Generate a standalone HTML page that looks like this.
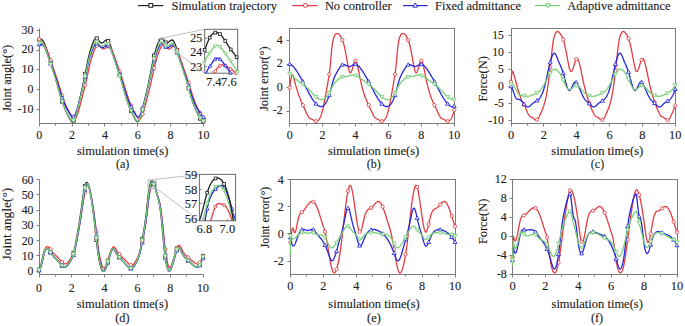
<!DOCTYPE html>
<html><head><meta charset="utf-8"><style>
html,body{margin:0;padding:0;background:#fff;overflow:hidden;}
svg{display:block;}
text{font-family:"Liberation Serif", serif; stroke:#1a1a1a; stroke-width:0.12px;}
</style></head><body>
<svg width="685" height="326" viewBox="0 0 685 326" font-family='"Liberation Serif", serif'>
<rect width="685" height="326" fill="#fff"/>
<defs><clipPath id="cia"><rect x="204.7" y="29.3" width="33" height="44"/></clipPath><clipPath id="cid"><rect x="199.4" y="174.4" width="36.2" height="46.4"/></clipPath></defs>
<path d="M138,5.6 H163.4" stroke="#222222" stroke-width="1.2"/>
<rect x="148.9" y="3.5" width="3.8" height="3.8" fill="#fff" stroke="#222222" stroke-width="1.0"/>
<text x="171.5" y="9.9" font-size="12.45" text-anchor="start" fill="#1a1a1a">Simulation trajectory</text>
<path d="M292.3,5.6 H317.7" stroke="#e23c42" stroke-width="1.2"/>
<circle cx="305.4" cy="5.4" r="2" fill="#fff" stroke="#e23c42" stroke-width="1.0"/>
<text x="324.9" y="9.9" font-size="12.45" text-anchor="start" fill="#1a1a1a">No controller</text>
<path d="M403,5.6 H427.6" stroke="#2626dc" stroke-width="1.2"/>
<path d="M415.3,3 L417.7,7.08 L412.9,7.08 Z" fill="#fff" stroke="#2626dc" stroke-width="1.0" stroke-linejoin="round"/>
<text x="435" y="9.9" font-size="12.45" text-anchor="start" fill="#1a1a1a">Fixed admittance</text>
<path d="M535,5.6 H560" stroke="#76cf76" stroke-width="1.2"/>
<path d="M548,7.8 L550.4,3.72 L545.6,3.72 Z" fill="#fff" stroke="#76cf76" stroke-width="1.0" stroke-linejoin="round"/>
<text x="567.2" y="9.9" font-size="12.45" text-anchor="start" fill="#1a1a1a">Adaptive admittance</text>
<path d="M39.5,28.5 L39.5,123.5 L203.5,123.5" fill="none" stroke="#7c7c7c" stroke-width="1"/>
<path d="M39.5,123.5 v3 M55.5,123.5 v2 M72.5,123.5 v3 M88.5,123.5 v2 M104.5,123.5 v3 M121.5,123.5 v2 M137.5,123.5 v3 M154.5,123.5 v2 M170.5,123.5 v3 M186.5,123.5 v2 M203.5,123.5 v3 M39.5,30.5 h-3 M39.5,50.5 h-3 M39.5,69.5 h-3 M39.5,89.5 h-3 M39.5,109.5 h-3" stroke="#7c7c7c" stroke-width="1" fill="none"/>
<text x="39.2" y="138.8" font-size="12" text-anchor="middle" fill="#1a1a1a">0</text>
<text x="72.04" y="138.8" font-size="12" text-anchor="middle" fill="#1a1a1a">2</text>
<text x="104.88" y="138.8" font-size="12" text-anchor="middle" fill="#1a1a1a">4</text>
<text x="137.72" y="138.8" font-size="12" text-anchor="middle" fill="#1a1a1a">6</text>
<text x="170.56" y="138.8" font-size="12" text-anchor="middle" fill="#1a1a1a">8</text>
<text x="203.4" y="138.8" font-size="12" text-anchor="middle" fill="#1a1a1a">10</text>
<text x="33.5" y="33.75" font-size="12" text-anchor="end" fill="#1a1a1a">30</text>
<text x="33.5" y="53.45" font-size="12" text-anchor="end" fill="#1a1a1a">20</text>
<text x="33.5" y="73.15" font-size="12" text-anchor="end" fill="#1a1a1a">10</text>
<text x="33.5" y="92.85" font-size="12" text-anchor="end" fill="#1a1a1a">0</text>
<text x="33.5" y="112.55" font-size="12" text-anchor="end" fill="#1a1a1a">-10</text>
<text x="10.8" y="78.4" font-size="12.4" text-anchor="middle" fill="#1a1a1a" transform="rotate(-90 10.8 78.4)">Joint angle(°)</text>
<text x="122.65" y="155.3" font-size="12.5" text-anchor="middle" fill="#1a1a1a">simulation time(s)</text>
<text x="122.6" y="168.4" font-size="12" text-anchor="middle" fill="#1a1a1a">(a)</text>
<path d="M39.2,40.15 L39.53,40.05 L39.86,39.93 L40.19,39.81 L40.52,39.7 L40.85,39.63 L41.17,39.59 L41.5,39.62 L41.83,39.71 L42.16,39.89 L42.49,40.16 L42.82,40.53 L43.15,40.97 L43.48,41.5 L43.81,42.11 L44.14,42.78 L44.46,43.52 L44.79,44.31 L45.12,45.15 L45.45,46.04 L45.78,46.97 L46.11,47.94 L46.44,48.92 L46.77,49.93 L47.1,50.96 L47.43,52 L47.76,53.05 L48.08,54.12 L48.41,55.19 L48.74,56.27 L49.07,57.35 L49.4,58.43 L49.73,59.52 L50.06,60.6 L50.39,61.67 L50.72,62.74 L51.05,63.8 L51.38,64.85 L51.7,65.89 L52.03,66.93 L52.36,67.97 L52.69,69.01 L53.02,70.05 L53.35,71.09 L53.68,72.14 L54.01,73.2 L54.34,74.26 L54.67,75.34 L54.99,76.44 L55.32,77.55 L55.65,78.68 L55.98,79.83 L56.31,81 L56.64,82.18 L56.97,83.37 L57.3,84.58 L57.63,85.78 L57.96,87 L58.29,88.21 L58.61,89.42 L58.94,90.63 L59.27,91.82 L59.6,93.01 L59.93,94.18 L60.26,95.34 L60.59,96.47 L60.92,97.58 L61.25,98.67 L61.58,99.73 L61.91,100.76 L62.23,101.75 L62.56,102.71 L62.89,103.63 L63.22,104.53 L63.55,105.39 L63.88,106.22 L64.21,107.03 L64.54,107.82 L64.87,108.59 L65.2,109.34 L65.52,110.07 L65.85,110.79 L66.18,111.5 L66.51,112.2 L66.84,112.88 L67.17,113.56 L67.5,114.23 L67.83,114.9 L68.16,115.55 L68.49,116.2 L68.82,116.85 L69.14,117.49 L69.47,118.13 L69.8,118.74 L70.13,119.33 L70.46,119.88 L70.79,120.38 L71.12,120.81 L71.45,121.16 L71.78,121.42 L72.11,121.59 L72.43,121.63 L72.76,121.56 L73.09,121.35 L73.42,121 L73.75,120.53 L74.08,119.94 L74.41,119.24 L74.74,118.44 L75.07,117.54 L75.4,116.56 L75.73,115.51 L76.05,114.39 L76.38,113.2 L76.71,111.97 L77.04,110.69 L77.37,109.37 L77.7,108.02 L78.03,106.64 L78.36,105.23 L78.69,103.81 L79.02,102.37 L79.35,100.93 L79.67,99.49 L80,98.04 L80.33,96.59 L80.66,95.14 L80.99,93.69 L81.32,92.22 L81.65,90.75 L81.98,89.27 L82.31,87.77 L82.64,86.26 L82.96,84.73 L83.29,83.19 L83.62,81.62 L83.95,80.03 L84.28,78.41 L84.61,76.77 L84.94,75.1 L85.27,73.4 L85.6,71.7 L85.93,69.99 L86.26,68.28 L86.58,66.59 L86.91,64.92 L87.24,63.29 L87.57,61.7 L87.9,60.16 L88.23,58.67 L88.56,57.25 L88.89,55.89 L89.22,54.57 L89.55,53.32 L89.87,52.11 L90.2,50.95 L90.53,49.83 L90.86,48.75 L91.19,47.72 L91.52,46.72 L91.85,45.76 L92.18,44.83 L92.51,43.94 L92.84,43.09 L93.17,42.3 L93.49,41.56 L93.82,40.89 L94.15,40.28 L94.48,39.75 L94.81,39.3 L95.14,38.93 L95.47,38.65 L95.8,38.46 L96.13,38.38 L96.46,38.4 L96.79,38.52 L97.11,38.72 L97.44,39 L97.77,39.32 L98.1,39.7 L98.43,40.1 L98.76,40.53 L99.09,40.95 L99.42,41.37 L99.75,41.77 L100.08,42.14 L100.4,42.45 L100.73,42.71 L101.06,42.89 L101.39,42.99 L101.72,43.01 L102.05,42.96 L102.38,42.84 L102.71,42.67 L103.04,42.46 L103.37,42.22 L103.7,41.94 L104.02,41.66 L104.35,41.36 L104.68,41.07 L105.01,40.79 L105.34,40.54 L105.67,40.32 L106,40.14 L106.33,40.03 L106.66,39.98 L106.99,40.01 L107.32,40.13 L107.64,40.36 L107.97,40.68 L108.3,41.09 L108.63,41.59 L108.96,42.17 L109.29,42.81 L109.62,43.53 L109.95,44.3 L110.28,45.13 L110.61,46.01 L110.93,46.92 L111.26,47.87 L111.59,48.85 L111.92,49.85 L112.25,50.87 L112.58,51.91 L112.91,52.96 L113.24,54.02 L113.57,55.09 L113.9,56.16 L114.23,57.24 L114.55,58.33 L114.88,59.41 L115.21,60.49 L115.54,61.56 L115.87,62.63 L116.2,63.69 L116.53,64.75 L116.86,65.79 L117.19,66.83 L117.52,67.87 L117.84,68.9 L118.17,69.94 L118.5,70.98 L118.83,72.03 L119.16,73.09 L119.49,74.15 L119.82,75.23 L120.15,76.32 L120.48,77.43 L120.81,78.56 L121.14,79.71 L121.46,80.88 L121.79,82.06 L122.12,83.25 L122.45,84.45 L122.78,85.66 L123.11,86.87 L123.44,88.09 L123.77,89.3 L124.1,90.5 L124.43,91.7 L124.76,92.89 L125.08,94.06 L125.41,95.22 L125.74,96.35 L126.07,97.47 L126.4,98.56 L126.73,99.62 L127.06,100.65 L127.39,101.65 L127.72,102.61 L128.05,103.54 L128.37,104.43 L128.7,105.3 L129.03,106.14 L129.36,106.95 L129.69,107.74 L130.02,108.51 L130.35,109.26 L130.68,110 L131.01,110.72 L131.34,111.43 L131.67,112.13 L131.99,112.81 L132.32,113.49 L132.65,114.16 L132.98,114.83 L133.31,115.48 L133.64,116.14 L133.97,116.78 L134.3,117.42 L134.63,118.06 L134.96,118.68 L135.28,119.28 L135.61,119.83 L135.94,120.33 L136.27,120.77 L136.6,121.13 L136.93,121.4 L137.26,121.57 L137.59,121.63 L137.92,121.57 L138.25,121.38 L138.58,121.04 L138.9,120.58 L139.23,120.01 L139.56,119.32 L139.89,118.53 L140.22,117.64 L140.55,116.67 L140.88,115.62 L141.21,114.5 L141.54,113.33 L141.87,112.1 L142.2,110.82 L142.52,109.51 L142.85,108.16 L143.18,106.78 L143.51,105.38 L143.84,103.96 L144.17,102.52 L144.5,101.08 L144.83,99.63 L145.16,98.19 L145.49,96.74 L145.81,95.29 L146.14,93.84 L146.47,92.38 L146.8,90.9 L147.13,89.42 L147.46,87.93 L147.79,86.42 L148.12,84.89 L148.45,83.35 L148.78,81.78 L149.11,80.19 L149.43,78.58 L149.76,76.94 L150.09,75.27 L150.42,73.58 L150.75,71.87 L151.08,70.16 L151.41,68.46 L151.74,66.77 L152.07,65.1 L152.4,63.46 L152.73,61.86 L153.05,60.31 L153.38,58.82 L153.71,57.39 L154.04,56.02 L154.37,54.71 L154.7,53.44 L155.03,52.23 L155.36,51.06 L155.69,49.94 L156.02,48.86 L156.34,47.82 L156.67,46.82 L157,45.85 L157.33,44.92 L157.66,44.03 L157.99,43.18 L158.32,42.38 L158.65,41.64 L158.98,40.96 L159.31,40.34 L159.64,39.8 L159.96,39.34 L160.29,38.96 L160.62,38.67 L160.95,38.48 L161.28,38.38 L161.61,38.4 L161.94,38.5 L162.27,38.7 L162.6,38.96 L162.93,39.29 L163.25,39.66 L163.58,40.06 L163.91,40.48 L164.24,40.91 L164.57,41.33 L164.9,41.73 L165.23,42.1 L165.56,42.42 L165.89,42.69 L166.22,42.88 L166.55,42.98 L166.87,43.01 L167.2,42.96 L167.53,42.85 L167.86,42.69 L168.19,42.49 L168.52,42.24 L168.85,41.97 L169.18,41.69 L169.51,41.39 L169.84,41.1 L170.17,40.82 L170.49,40.56 L170.82,40.34 L171.15,40.16 L171.48,40.03 L171.81,39.98 L172.14,40 L172.47,40.12 L172.8,40.33 L173.13,40.64 L173.46,41.05 L173.78,41.53 L174.11,42.1 L174.44,42.74 L174.77,43.45 L175.1,44.22 L175.43,45.04 L175.76,45.91 L176.09,46.83 L176.42,47.77 L176.75,48.75 L177.08,49.75 L177.4,50.77 L177.73,51.8 L178.06,52.85 L178.39,53.91 L178.72,54.98 L179.05,56.05 L179.38,57.13 L179.71,58.21 L180.04,59.3 L180.37,60.38 L180.69,61.45 L181.02,62.52 L181.35,63.59 L181.68,64.64 L182.01,65.68 L182.34,66.72 L182.67,67.76 L183,68.8 L183.33,69.83 L183.66,70.88 L183.99,71.92 L184.31,72.98 L184.64,74.04 L184.97,75.12 L185.3,76.21 L185.63,77.32 L185.96,78.44 L186.29,79.59 L186.62,80.75 L186.95,81.93 L187.28,83.13 L187.61,84.33 L187.93,85.54 L188.26,86.75 L188.59,87.96 L188.92,89.17 L189.25,90.38 L189.58,91.58 L189.91,92.77 L190.24,93.94 L190.57,95.1 L190.9,96.24 L191.22,97.36 L191.55,98.45 L191.88,99.51 L192.21,100.55 L192.54,101.55 L192.87,102.51 L193.2,103.45 L193.53,104.34 L193.86,105.21 L194.19,106.05 L194.52,106.87 L194.84,107.66 L195.17,108.43 L195.5,109.19 L195.83,109.92 L196.16,110.64 L196.49,111.35 L196.82,112.05 L197.15,112.74 L197.48,113.42 L197.81,114.09 L198.14,114.76 L198.46,115.42 L198.79,116.07 L199.12,116.72 L199.45,117.36 L199.78,118 L200.11,118.62 L200.44,119.22 L200.77,119.77 L201.1,120.28 L201.43,120.72 L201.75,121.09 L202.08,121.38 L202.41,121.56 L202.74,121.63 L203.07,121.59 L203.4,121.4" fill="none" stroke="#222222" stroke-width="1.3" stroke-linejoin="round"/>
<rect x="37.63" y="38.58" width="3.13" height="3.13" fill="#fff" stroke="#222222" stroke-width="0.85"/>
<rect x="49.13" y="61.1" width="3.13" height="3.13" fill="#fff" stroke="#222222" stroke-width="0.85"/>
<rect x="60.62" y="100.05" width="3.13" height="3.13" fill="#fff" stroke="#222222" stroke-width="0.85"/>
<rect x="72.11" y="119.07" width="3.13" height="3.13" fill="#fff" stroke="#222222" stroke-width="0.85"/>
<rect x="83.61" y="72.31" width="3.13" height="3.13" fill="#fff" stroke="#222222" stroke-width="0.85"/>
<rect x="95.1" y="36.9" width="3.13" height="3.13" fill="#fff" stroke="#222222" stroke-width="0.85"/>
<rect x="106.6" y="39.34" width="3.13" height="3.13" fill="#fff" stroke="#222222" stroke-width="0.85"/>
<rect x="118.09" y="73.13" width="3.13" height="3.13" fill="#fff" stroke="#222222" stroke-width="0.85"/>
<rect x="129.58" y="109.46" width="3.13" height="3.13" fill="#fff" stroke="#222222" stroke-width="0.85"/>
<rect x="141.08" y="107.44" width="3.13" height="3.13" fill="#fff" stroke="#222222" stroke-width="0.85"/>
<rect x="152.57" y="54.06" width="3.13" height="3.13" fill="#fff" stroke="#222222" stroke-width="0.85"/>
<rect x="164.07" y="40.92" width="3.13" height="3.13" fill="#fff" stroke="#222222" stroke-width="0.85"/>
<rect x="175.56" y="48.34" width="3.13" height="3.13" fill="#fff" stroke="#222222" stroke-width="0.85"/>
<rect x="187.05" y="86.5" width="3.13" height="3.13" fill="#fff" stroke="#222222" stroke-width="0.85"/>
<rect x="198.55" y="117.06" width="3.13" height="3.13" fill="#fff" stroke="#222222" stroke-width="0.85"/>
<rect x="201.83" y="119.83" width="3.13" height="3.13" fill="#fff" stroke="#222222" stroke-width="0.85"/>
<path d="M39.2,39.17 L39.53,39.93 L39.86,40.57 L40.19,41.11 L40.52,41.56 L40.85,41.93 L41.17,42.23 L41.5,42.48 L41.83,42.69 L42.16,42.88 L42.49,43.06 L42.82,43.24 L43.15,43.45 L43.48,43.69 L43.81,43.97 L44.14,44.31 L44.46,44.72 L44.79,45.2 L45.12,45.74 L45.45,46.34 L45.78,47 L46.11,47.71 L46.44,48.47 L46.77,49.26 L47.1,50.1 L47.43,50.97 L47.76,51.86 L48.08,52.78 L48.41,53.72 L48.74,54.67 L49.07,55.63 L49.4,56.6 L49.73,57.58 L50.06,58.56 L50.39,59.55 L50.72,60.54 L51.05,61.53 L51.38,62.52 L51.7,63.5 L52.03,64.48 L52.36,65.46 L52.69,66.43 L53.02,67.39 L53.35,68.34 L53.68,69.28 L54.01,70.22 L54.34,71.15 L54.67,72.08 L54.99,73.02 L55.32,73.95 L55.65,74.89 L55.98,75.84 L56.31,76.8 L56.64,77.77 L56.97,78.75 L57.3,79.74 L57.63,80.75 L57.96,81.78 L58.29,82.82 L58.61,83.88 L58.94,84.94 L59.27,86.02 L59.6,87.1 L59.93,88.18 L60.26,89.26 L60.59,90.34 L60.92,91.42 L61.25,92.49 L61.58,93.54 L61.91,94.59 L62.23,95.62 L62.56,96.63 L62.89,97.62 L63.22,98.59 L63.55,99.54 L63.88,100.45 L64.21,101.34 L64.54,102.19 L64.87,103.01 L65.2,103.81 L65.52,104.58 L65.85,105.32 L66.18,106.04 L66.51,106.75 L66.84,107.43 L67.17,108.1 L67.5,108.75 L67.83,109.39 L68.16,110.02 L68.49,110.64 L68.82,111.26 L69.14,111.86 L69.47,112.46 L69.8,113.05 L70.13,113.63 L70.46,114.21 L70.79,114.79 L71.12,115.36 L71.45,115.93 L71.78,116.48 L72.11,117 L72.43,117.49 L72.76,117.93 L73.09,118.31 L73.42,118.63 L73.75,118.86 L74.08,119 L74.41,119.05 L74.74,118.98 L75.07,118.79 L75.4,118.48 L75.73,118.06 L76.05,117.53 L76.38,116.9 L76.71,116.19 L77.04,115.39 L77.37,114.52 L77.7,113.58 L78.03,112.58 L78.36,111.52 L78.69,110.42 L79.02,109.28 L79.35,108.1 L79.67,106.9 L80,105.67 L80.33,104.42 L80.66,103.15 L80.99,101.87 L81.32,100.58 L81.65,99.3 L81.98,98.01 L82.31,96.72 L82.64,95.43 L82.96,94.13 L83.29,92.83 L83.62,91.52 L83.95,90.19 L84.28,88.86 L84.61,87.51 L84.94,86.15 L85.27,84.77 L85.6,83.38 L85.93,81.96 L86.26,80.52 L86.58,79.05 L86.91,77.56 L87.24,76.06 L87.57,74.53 L87.9,73.01 L88.23,71.49 L88.56,69.99 L88.89,68.5 L89.22,67.04 L89.55,65.63 L89.87,64.25 L90.2,62.93 L90.53,61.67 L90.86,60.45 L91.19,59.28 L91.52,58.16 L91.85,57.09 L92.18,56.05 L92.51,55.06 L92.84,54.1 L93.17,53.18 L93.49,52.29 L93.82,51.43 L94.15,50.6 L94.48,49.81 L94.81,49.06 L95.14,48.35 L95.47,47.7 L95.8,47.1 L96.13,46.56 L96.46,46.08 L96.79,45.68 L97.11,45.35 L97.44,45.1 L97.77,44.94 L98.1,44.87 L98.43,44.89 L98.76,44.99 L99.09,45.18 L99.42,45.42 L99.75,45.71 L100.08,46.05 L100.4,46.41 L100.73,46.78 L101.06,47.16 L101.39,47.54 L101.72,47.89 L102.05,48.22 L102.38,48.5 L102.71,48.73 L103.04,48.89 L103.37,48.97 L103.7,48.99 L104.02,48.94 L104.35,48.84 L104.68,48.69 L105.01,48.5 L105.34,48.28 L105.67,48.04 L106,47.78 L106.33,47.52 L106.66,47.26 L106.99,47.01 L107.32,46.78 L107.64,46.59 L107.97,46.44 L108.3,46.33 L108.63,46.29 L108.96,46.32 L109.29,46.43 L109.62,46.63 L109.95,46.92 L110.28,47.29 L110.61,47.73 L110.93,48.25 L111.26,48.82 L111.59,49.46 L111.92,50.15 L112.25,50.89 L112.58,51.67 L112.91,52.49 L113.24,53.34 L113.57,54.21 L113.9,55.1 L114.23,56.01 L114.55,56.93 L114.88,57.87 L115.21,58.81 L115.54,59.77 L115.87,60.72 L116.2,61.69 L116.53,62.65 L116.86,63.61 L117.19,64.58 L117.52,65.54 L117.84,66.49 L118.17,67.43 L118.5,68.37 L118.83,69.3 L119.16,70.23 L119.49,71.15 L119.82,72.07 L120.15,73 L120.48,73.93 L120.81,74.86 L121.14,75.8 L121.46,76.75 L121.79,77.71 L122.12,78.69 L122.45,79.68 L122.78,80.68 L123.11,81.7 L123.44,82.74 L123.77,83.8 L124.1,84.86 L124.43,85.93 L124.76,87.01 L125.08,88.09 L125.41,89.17 L125.74,90.25 L126.07,91.32 L126.4,92.39 L126.73,93.45 L127.06,94.49 L127.39,95.52 L127.72,96.53 L128.05,97.53 L128.37,98.5 L128.7,99.44 L129.03,100.36 L129.36,101.25 L129.69,102.11 L130.02,102.93 L130.35,103.73 L130.68,104.5 L131.01,105.25 L131.34,105.97 L131.67,106.68 L131.99,107.36 L132.32,108.03 L132.65,108.69 L132.98,109.33 L133.31,109.96 L133.64,110.58 L133.97,111.19 L134.3,111.8 L134.63,112.4 L134.96,112.99 L135.28,113.57 L135.61,114.15 L135.94,114.73 L136.27,115.3 L136.6,115.87 L136.93,116.42 L137.26,116.95 L137.59,117.44 L137.92,117.89 L138.25,118.28 L138.58,118.6 L138.9,118.84 L139.23,118.99 L139.56,119.05 L139.89,118.99 L140.22,118.81 L140.55,118.52 L140.88,118.11 L141.21,117.59 L141.54,116.97 L141.87,116.27 L142.2,115.48 L142.52,114.61 L142.85,113.68 L143.18,112.68 L143.51,111.63 L143.84,110.53 L144.17,109.4 L144.5,108.23 L144.83,107.02 L145.16,105.8 L145.49,104.55 L145.81,103.28 L146.14,102 L146.47,100.72 L146.8,99.43 L147.13,98.14 L147.46,96.85 L147.79,95.56 L148.12,94.26 L148.45,92.96 L148.78,91.65 L149.11,90.33 L149.43,89 L149.76,87.65 L150.09,86.29 L150.42,84.92 L150.75,83.52 L151.08,82.1 L151.41,80.67 L151.74,79.21 L152.07,77.72 L152.4,76.21 L152.73,74.69 L153.05,73.17 L153.38,71.65 L153.71,70.14 L154.04,68.65 L154.37,67.19 L154.7,65.77 L155.03,64.39 L155.36,63.07 L155.69,61.79 L156.02,60.57 L156.34,59.4 L156.67,58.28 L157,57.19 L157.33,56.16 L157.66,55.16 L157.99,54.2 L158.32,53.27 L158.65,52.38 L158.98,51.52 L159.31,50.68 L159.64,49.89 L159.96,49.13 L160.29,48.42 L160.62,47.76 L160.95,47.15 L161.28,46.61 L161.61,46.13 L161.94,45.72 L162.27,45.38 L162.6,45.12 L162.93,44.95 L163.25,44.87 L163.58,44.88 L163.91,44.98 L164.24,45.15 L164.57,45.39 L164.9,45.68 L165.23,46.01 L165.56,46.37 L165.89,46.74 L166.22,47.13 L166.55,47.5 L166.87,47.86 L167.2,48.19 L167.53,48.47 L167.86,48.71 L168.19,48.87 L168.52,48.97 L168.85,48.99 L169.18,48.95 L169.51,48.85 L169.84,48.71 L170.17,48.52 L170.49,48.31 L170.82,48.07 L171.15,47.81 L171.48,47.55 L171.81,47.29 L172.14,47.04 L172.47,46.81 L172.8,46.61 L173.13,46.45 L173.46,46.34 L173.78,46.29 L174.11,46.31 L174.44,46.42 L174.77,46.61 L175.1,46.89 L175.43,47.25 L175.76,47.68 L176.09,48.19 L176.42,48.76 L176.75,49.39 L177.08,50.08 L177.4,50.81 L177.73,51.59 L178.06,52.4 L178.39,53.25 L178.72,54.12 L179.05,55.01 L179.38,55.92 L179.71,56.84 L180.04,57.77 L180.37,58.71 L180.69,59.67 L181.02,60.62 L181.35,61.59 L181.68,62.55 L182.01,63.52 L182.34,64.48 L182.67,65.44 L183,66.39 L183.33,67.34 L183.66,68.27 L183.99,69.21 L184.31,70.13 L184.64,71.06 L184.97,71.98 L185.3,72.9 L185.63,73.83 L185.96,74.77 L186.29,75.71 L186.62,76.65 L186.95,77.61 L187.28,78.59 L187.61,79.57 L187.93,80.58 L188.26,81.6 L188.59,82.64 L188.92,83.69 L189.25,84.75 L189.58,85.82 L189.91,86.9 L190.24,87.98 L190.57,89.06 L190.9,90.14 L191.22,91.21 L191.55,92.28 L191.88,93.34 L192.21,94.38 L192.54,95.42 L192.87,96.43 L193.2,97.43 L193.53,98.4 L193.86,99.35 L194.19,100.27 L194.52,101.16 L194.84,102.02 L195.17,102.85 L195.5,103.65 L195.83,104.42 L196.16,105.17 L196.49,105.9 L196.82,106.61 L197.15,107.29 L197.48,107.96 L197.81,108.62 L198.14,109.26 L198.46,109.9 L198.79,110.52 L199.12,111.13 L199.45,111.74 L199.78,112.34 L200.11,112.93 L200.44,113.51 L200.77,114.09 L201.1,114.67 L201.43,115.24 L201.75,115.81 L202.08,116.37 L202.41,116.9 L202.74,117.39 L203.07,117.85 L203.4,118.24" fill="none" stroke="#e23c42" stroke-width="1.3" stroke-linejoin="round"/>
<circle cx="39.2" cy="39.17" r="1.65" fill="#fff" stroke="#e23c42" stroke-width="0.85"/>
<circle cx="50.69" cy="60.47" r="1.65" fill="#fff" stroke="#e23c42" stroke-width="0.85"/>
<circle cx="62.19" cy="95.47" r="1.65" fill="#fff" stroke="#e23c42" stroke-width="0.85"/>
<circle cx="73.68" cy="118.82" r="1.65" fill="#fff" stroke="#e23c42" stroke-width="0.85"/>
<circle cx="85.18" cy="85.16" r="1.65" fill="#fff" stroke="#e23c42" stroke-width="0.85"/>
<circle cx="96.67" cy="45.81" r="1.65" fill="#fff" stroke="#e23c42" stroke-width="0.85"/>
<circle cx="108.16" cy="46.37" r="1.65" fill="#fff" stroke="#e23c42" stroke-width="0.85"/>
<circle cx="119.66" cy="71.62" r="1.65" fill="#fff" stroke="#e23c42" stroke-width="0.85"/>
<circle cx="131.15" cy="105.57" r="1.65" fill="#fff" stroke="#e23c42" stroke-width="0.85"/>
<circle cx="142.65" cy="114.27" r="1.65" fill="#fff" stroke="#e23c42" stroke-width="0.85"/>
<circle cx="154.14" cy="68.21" r="1.65" fill="#fff" stroke="#e23c42" stroke-width="0.85"/>
<circle cx="165.63" cy="46.45" r="1.65" fill="#fff" stroke="#e23c42" stroke-width="0.85"/>
<circle cx="177.13" cy="50.19" r="1.65" fill="#fff" stroke="#e23c42" stroke-width="0.85"/>
<circle cx="188.62" cy="82.73" r="1.65" fill="#fff" stroke="#e23c42" stroke-width="0.85"/>
<circle cx="200.12" cy="112.94" r="1.65" fill="#fff" stroke="#e23c42" stroke-width="0.85"/>
<circle cx="203.4" cy="118.24" r="1.65" fill="#fff" stroke="#e23c42" stroke-width="0.85"/>
<path d="M39.2,44.48 L39.53,44.57 L39.86,44.6 L40.19,44.59 L40.52,44.56 L40.85,44.53 L41.17,44.5 L41.5,44.5 L41.83,44.53 L42.16,44.61 L42.49,44.76 L42.82,44.98 L43.15,45.28 L43.48,45.66 L43.81,46.11 L44.14,46.62 L44.46,47.19 L44.79,47.82 L45.12,48.51 L45.45,49.24 L45.78,50.01 L46.11,50.82 L46.44,51.65 L46.77,52.52 L47.1,53.4 L47.43,54.3 L47.76,55.22 L48.08,56.14 L48.41,57.08 L48.74,58.02 L49.07,58.97 L49.4,59.92 L49.73,60.88 L50.06,61.83 L50.39,62.79 L50.72,63.74 L51.05,64.69 L51.38,65.63 L51.7,66.56 L52.03,67.48 L52.36,68.4 L52.69,69.32 L53.02,70.23 L53.35,71.15 L53.68,72.06 L54.01,72.99 L54.34,73.91 L54.67,74.85 L54.99,75.8 L55.32,76.76 L55.65,77.73 L55.98,78.72 L56.31,79.72 L56.64,80.75 L56.97,81.78 L57.3,82.83 L57.63,83.89 L57.96,84.95 L58.29,86.02 L58.61,87.09 L58.94,88.16 L59.27,89.22 L59.6,90.28 L59.93,91.34 L60.26,92.38 L60.59,93.4 L60.92,94.41 L61.25,95.4 L61.58,96.37 L61.91,97.32 L62.23,98.24 L62.56,99.13 L62.89,99.99 L63.22,100.82 L63.55,101.62 L63.88,102.4 L64.21,103.15 L64.54,103.87 L64.87,104.58 L65.2,105.26 L65.52,105.93 L65.85,106.58 L66.18,107.22 L66.51,107.85 L66.84,108.47 L67.17,109.08 L67.5,109.69 L67.83,110.28 L68.16,110.87 L68.49,111.45 L68.82,112.03 L69.14,112.6 L69.47,113.17 L69.8,113.73 L70.13,114.28 L70.46,114.82 L70.79,115.32 L71.12,115.78 L71.45,116.19 L71.78,116.54 L72.11,116.81 L72.43,117 L72.76,117.09 L73.09,117.08 L73.42,116.96 L73.75,116.71 L74.08,116.35 L74.41,115.88 L74.74,115.31 L75.07,114.64 L75.4,113.9 L75.73,113.07 L76.05,112.17 L76.38,111.21 L76.71,110.19 L77.04,109.12 L77.37,108.01 L77.7,106.87 L78.03,105.69 L78.36,104.48 L78.69,103.25 L79.02,102.01 L79.35,100.74 L79.67,99.47 L80,98.2 L80.33,96.93 L80.66,95.65 L80.99,94.37 L81.32,93.09 L81.65,91.8 L81.98,90.51 L82.31,89.21 L82.64,87.89 L82.96,86.57 L83.29,85.23 L83.62,83.87 L83.95,82.5 L84.28,81.1 L84.61,79.69 L84.94,78.25 L85.27,76.79 L85.6,75.31 L85.93,73.81 L86.26,72.3 L86.58,70.79 L86.91,69.29 L87.24,67.81 L87.57,66.35 L87.9,64.93 L88.23,63.55 L88.56,62.21 L88.89,60.93 L89.22,59.7 L89.55,58.52 L89.87,57.39 L90.2,56.3 L90.53,55.26 L90.86,54.25 L91.19,53.29 L91.52,52.36 L91.85,51.46 L92.18,50.6 L92.51,49.76 L92.84,48.96 L93.17,48.19 L93.49,47.47 L93.82,46.8 L94.15,46.17 L94.48,45.61 L94.81,45.11 L95.14,44.67 L95.47,44.31 L95.8,44.02 L96.13,43.81 L96.46,43.7 L96.79,43.67 L97.11,43.73 L97.44,43.88 L97.77,44.09 L98.1,44.35 L98.43,44.67 L98.76,45.01 L99.09,45.38 L99.42,45.75 L99.75,46.13 L100.08,46.49 L100.4,46.83 L100.73,47.13 L101.06,47.38 L101.39,47.58 L101.72,47.7 L102.05,47.75 L102.38,47.74 L102.71,47.66 L103.04,47.54 L103.37,47.37 L103.7,47.17 L104.02,46.94 L104.35,46.69 L104.68,46.43 L105.01,46.17 L105.34,45.92 L105.67,45.68 L106,45.47 L106.33,45.3 L106.66,45.17 L106.99,45.09 L107.32,45.09 L107.64,45.15 L107.97,45.31 L108.3,45.55 L108.63,45.87 L108.96,46.28 L109.29,46.75 L109.62,47.29 L109.95,47.89 L110.28,48.55 L110.61,49.26 L110.93,50.01 L111.26,50.8 L111.59,51.62 L111.92,52.48 L112.25,53.35 L112.58,54.24 L112.91,55.15 L113.24,56.07 L113.57,57 L113.9,57.94 L114.23,58.88 L114.55,59.84 L114.88,60.79 L115.21,61.74 L115.54,62.7 L115.87,63.65 L116.2,64.6 L116.53,65.53 L116.86,66.47 L117.19,67.39 L117.52,68.31 L117.84,69.22 L118.17,70.14 L118.5,71.05 L118.83,71.97 L119.16,72.89 L119.49,73.82 L119.82,74.76 L120.15,75.7 L120.48,76.66 L120.81,77.63 L121.14,78.62 L121.46,79.62 L121.79,80.64 L122.12,81.67 L122.45,82.72 L122.78,83.78 L123.11,84.84 L123.44,85.91 L123.77,86.98 L124.1,88.05 L124.43,89.12 L124.76,90.18 L125.08,91.23 L125.41,92.27 L125.74,93.3 L126.07,94.31 L126.4,95.3 L126.73,96.28 L127.06,97.22 L127.39,98.15 L127.72,99.04 L128.05,99.91 L128.37,100.74 L128.7,101.54 L129.03,102.32 L129.36,103.07 L129.69,103.8 L130.02,104.5 L130.35,105.19 L130.68,105.86 L131.01,106.52 L131.34,107.16 L131.67,107.79 L131.99,108.41 L132.32,109.02 L132.65,109.62 L132.98,110.22 L133.31,110.81 L133.64,111.39 L133.97,111.97 L134.3,112.54 L134.63,113.11 L134.96,113.67 L135.28,114.23 L135.61,114.76 L135.94,115.27 L136.27,115.74 L136.6,116.15 L136.93,116.5 L137.26,116.79 L137.59,116.98 L137.92,117.09 L138.25,117.09 L138.58,116.98 L138.9,116.74 L139.23,116.39 L139.56,115.93 L139.89,115.37 L140.22,114.72 L140.55,113.98 L140.88,113.16 L141.21,112.27 L141.54,111.31 L141.87,110.3 L142.2,109.23 L142.52,108.13 L142.85,106.98 L143.18,105.81 L143.51,104.61 L143.84,103.38 L144.17,102.13 L144.5,100.88 L144.83,99.61 L145.16,98.33 L145.49,97.06 L145.81,95.78 L146.14,94.5 L146.47,93.22 L146.8,91.94 L147.13,90.64 L147.46,89.34 L147.79,88.03 L148.12,86.71 L148.45,85.37 L148.78,84.01 L149.11,82.64 L149.43,81.25 L149.76,79.84 L150.09,78.4 L150.42,76.94 L150.75,75.46 L151.08,73.96 L151.41,72.45 L151.74,70.95 L152.07,69.45 L152.4,67.96 L152.73,66.5 L153.05,65.08 L153.38,63.69 L153.71,62.35 L154.04,61.06 L154.37,59.83 L154.7,58.64 L155.03,57.51 L155.36,56.41 L155.69,55.36 L156.02,54.36 L156.34,53.39 L156.67,52.45 L157,51.55 L157.33,50.68 L157.66,49.84 L157.99,49.04 L158.32,48.27 L158.65,47.54 L158.98,46.86 L159.31,46.23 L159.64,45.66 L159.96,45.15 L160.29,44.71 L160.62,44.34 L160.95,44.05 L161.28,43.83 L161.61,43.7 L161.94,43.67 L162.27,43.72 L162.6,43.86 L162.93,44.06 L163.25,44.32 L163.58,44.63 L163.91,44.97 L164.24,45.34 L164.57,45.72 L164.9,46.09 L165.23,46.46 L165.56,46.8 L165.89,47.1 L166.22,47.36 L166.55,47.56 L166.87,47.69 L167.2,47.75 L167.53,47.74 L167.86,47.67 L168.19,47.55 L168.52,47.39 L168.85,47.19 L169.18,46.96 L169.51,46.72 L169.84,46.46 L170.17,46.2 L170.49,45.94 L170.82,45.7 L171.15,45.49 L171.48,45.31 L171.81,45.18 L172.14,45.1 L172.47,45.08 L172.8,45.14 L173.13,45.29 L173.46,45.52 L173.78,45.84 L174.11,46.23 L174.44,46.7 L174.77,47.23 L175.1,47.83 L175.43,48.48 L175.76,49.18 L176.09,49.93 L176.42,50.72 L176.75,51.54 L177.08,52.39 L177.4,53.26 L177.73,54.15 L178.06,55.06 L178.39,55.97 L178.72,56.9 L179.05,57.84 L179.38,58.79 L179.71,59.74 L180.04,60.69 L180.37,61.65 L180.69,62.6 L181.02,63.55 L181.35,64.5 L181.68,65.44 L182.01,66.37 L182.34,67.3 L182.67,68.21 L183,69.13 L183.33,70.04 L183.66,70.96 L183.99,71.88 L184.31,72.8 L184.64,73.72 L184.97,74.66 L185.3,75.6 L185.63,76.56 L185.96,77.53 L186.29,78.51 L186.62,79.51 L186.95,80.53 L187.28,81.57 L187.61,82.61 L187.93,83.67 L188.26,84.73 L188.59,85.8 L188.92,86.87 L189.25,87.94 L189.58,89.01 L189.91,90.07 L190.24,91.12 L190.57,92.16 L190.9,93.19 L191.22,94.21 L191.55,95.2 L191.88,96.18 L192.21,97.13 L192.54,98.05 L192.87,98.95 L193.2,99.82 L193.53,100.65 L193.86,101.46 L194.19,102.24 L194.52,102.99 L194.84,103.72 L195.17,104.43 L195.5,105.12 L195.83,105.79 L196.16,106.45 L196.49,107.09 L196.82,107.73 L197.15,108.35 L197.48,108.96 L197.81,109.56 L198.14,110.16 L198.46,110.75 L198.79,111.33 L199.12,111.91 L199.45,112.48 L199.78,113.05 L200.11,113.61 L200.44,114.17 L200.77,114.71 L201.1,115.22 L201.43,115.69 L201.75,116.11 L202.08,116.47 L202.41,116.76 L202.74,116.97 L203.07,117.08 L203.4,117.09" fill="none" stroke="#2626dc" stroke-width="1.3" stroke-linejoin="round"/>
<path d="M39.2,42.5 L41.18,45.87 L37.22,45.87 Z" fill="#fff" stroke="#2626dc" stroke-width="0.85" stroke-linejoin="round"/>
<path d="M50.69,61.69 L52.67,65.06 L48.71,65.06 Z" fill="#fff" stroke="#2626dc" stroke-width="0.85" stroke-linejoin="round"/>
<path d="M62.19,96.13 L64.17,99.5 L60.21,99.5 Z" fill="#fff" stroke="#2626dc" stroke-width="0.85" stroke-linejoin="round"/>
<path d="M73.68,114.79 L75.66,118.16 L71.7,118.16 Z" fill="#fff" stroke="#2626dc" stroke-width="0.85" stroke-linejoin="round"/>
<path d="M85.18,75.22 L87.16,78.59 L83.2,78.59 Z" fill="#fff" stroke="#2626dc" stroke-width="0.85" stroke-linejoin="round"/>
<path d="M96.67,41.69 L98.65,45.05 L94.69,45.05 Z" fill="#fff" stroke="#2626dc" stroke-width="0.85" stroke-linejoin="round"/>
<path d="M108.16,43.46 L110.14,46.82 L106.18,46.82 Z" fill="#fff" stroke="#2626dc" stroke-width="0.85" stroke-linejoin="round"/>
<path d="M119.66,72.32 L121.64,75.68 L117.68,75.68 Z" fill="#fff" stroke="#2626dc" stroke-width="0.85" stroke-linejoin="round"/>
<path d="M131.15,104.82 L133.13,108.19 L129.17,108.19 Z" fill="#fff" stroke="#2626dc" stroke-width="0.85" stroke-linejoin="round"/>
<path d="M142.65,105.73 L144.63,109.09 L140.67,109.09 Z" fill="#fff" stroke="#2626dc" stroke-width="0.85" stroke-linejoin="round"/>
<path d="M154.14,58.71 L156.12,62.07 L152.16,62.07 Z" fill="#fff" stroke="#2626dc" stroke-width="0.85" stroke-linejoin="round"/>
<path d="M165.63,44.89 L167.61,48.26 L163.65,48.26 Z" fill="#fff" stroke="#2626dc" stroke-width="0.85" stroke-linejoin="round"/>
<path d="M177.13,50.55 L179.11,53.91 L175.15,53.91 Z" fill="#fff" stroke="#2626dc" stroke-width="0.85" stroke-linejoin="round"/>
<path d="M188.62,83.92 L190.6,87.28 L186.64,87.28 Z" fill="#fff" stroke="#2626dc" stroke-width="0.85" stroke-linejoin="round"/>
<path d="M200.12,111.65 L202.1,115.01 L198.14,115.01 Z" fill="#fff" stroke="#2626dc" stroke-width="0.85" stroke-linejoin="round"/>
<path d="M203.4,115.11 L205.38,118.48 L201.42,118.48 Z" fill="#fff" stroke="#2626dc" stroke-width="0.85" stroke-linejoin="round"/>
<path d="M39.2,42.51 L39.53,42.57 L39.86,42.59 L40.19,42.58 L40.52,42.55 L40.85,42.54 L41.17,42.55 L41.5,42.59 L41.83,42.69 L42.16,42.86 L42.49,43.11 L42.82,43.44 L43.15,43.85 L43.48,44.33 L43.81,44.89 L44.14,45.51 L44.46,46.2 L44.79,46.94 L45.12,47.73 L45.45,48.56 L45.78,49.43 L46.11,50.34 L46.44,51.28 L46.77,52.23 L47.1,53.21 L47.43,54.19 L47.76,55.19 L48.08,56.2 L48.41,57.22 L48.74,58.25 L49.07,59.28 L49.4,60.31 L49.73,61.35 L50.06,62.38 L50.39,63.41 L50.72,64.43 L51.05,65.44 L51.38,66.45 L51.7,67.45 L52.03,68.44 L52.36,69.43 L52.69,70.42 L53.02,71.41 L53.35,72.4 L53.68,73.4 L54.01,74.4 L54.34,75.41 L54.67,76.43 L54.99,77.47 L55.32,78.52 L55.65,79.59 L55.98,80.67 L56.31,81.78 L56.64,82.9 L56.97,84.03 L57.3,85.17 L57.63,86.32 L57.96,87.48 L58.29,88.64 L58.61,89.79 L58.94,90.94 L59.27,92.09 L59.6,93.22 L59.93,94.35 L60.26,95.46 L60.59,96.55 L60.92,97.62 L61.25,98.67 L61.58,99.69 L61.91,100.68 L62.23,101.65 L62.56,102.58 L62.89,103.47 L63.22,104.34 L63.55,105.18 L63.88,105.98 L64.21,106.77 L64.54,107.53 L64.87,108.27 L65.2,108.99 L65.52,109.7 L65.85,110.39 L66.18,111.07 L66.51,111.74 L66.84,112.4 L67.17,113.05 L67.5,113.69 L67.83,114.33 L68.16,114.96 L68.49,115.58 L68.82,116.2 L69.14,116.81 L69.47,117.42 L69.8,118.02 L70.13,118.6 L70.46,119.14 L70.79,119.64 L71.12,120.08 L71.45,120.45 L71.78,120.75 L72.11,120.95 L72.43,121.06 L72.76,121.04 L73.09,120.91 L73.42,120.64 L73.75,120.25 L74.08,119.74 L74.41,119.13 L74.74,118.41 L75.07,117.6 L75.4,116.71 L75.73,115.74 L76.05,114.7 L76.38,113.6 L76.71,112.44 L77.04,111.25 L77.37,110.01 L77.7,108.73 L78.03,107.43 L78.36,106.1 L78.69,104.76 L79.02,103.39 L79.35,102.02 L79.67,100.64 L80,99.27 L80.33,97.89 L80.66,96.51 L80.99,95.12 L81.32,93.73 L81.65,92.34 L81.98,90.93 L82.31,89.51 L82.64,88.08 L82.96,86.63 L83.29,85.16 L83.62,83.68 L83.95,82.17 L84.28,80.64 L84.61,79.09 L84.94,77.51 L85.27,75.91 L85.6,74.29 L85.93,72.66 L86.26,71.03 L86.58,69.41 L86.91,67.81 L87.24,66.24 L87.57,64.7 L87.9,63.2 L88.23,61.76 L88.56,60.38 L88.89,59.05 L89.22,57.77 L89.55,56.55 L89.87,55.37 L90.2,54.25 L90.53,53.16 L90.86,52.12 L91.19,51.11 L91.52,50.14 L91.85,49.21 L92.18,48.3 L92.51,47.44 L92.84,46.61 L93.17,45.83 L93.49,45.1 L93.82,44.43 L94.15,43.82 L94.48,43.27 L94.81,42.8 L95.14,42.41 L95.47,42.1 L95.8,41.88 L96.13,41.75 L96.46,41.72 L96.79,41.79 L97.11,41.95 L97.44,42.17 L97.77,42.46 L98.1,42.8 L98.43,43.17 L98.76,43.57 L99.09,43.97 L99.42,44.38 L99.75,44.77 L100.08,45.13 L100.4,45.46 L100.73,45.73 L101.06,45.95 L101.39,46.08 L101.72,46.13 L102.05,46.12 L102.38,46.04 L102.71,45.9 L103.04,45.72 L103.37,45.5 L103.7,45.25 L104.02,44.98 L104.35,44.71 L104.68,44.43 L105.01,44.15 L105.34,43.9 L105.67,43.67 L106,43.48 L106.33,43.34 L106.66,43.26 L106.99,43.25 L107.32,43.33 L107.64,43.49 L107.97,43.75 L108.3,44.1 L108.63,44.54 L108.96,45.05 L109.29,45.63 L109.62,46.28 L109.95,46.99 L110.28,47.76 L110.61,48.57 L110.93,49.42 L111.26,50.31 L111.59,51.23 L111.92,52.18 L112.25,53.14 L112.58,54.12 L112.91,55.12 L113.24,56.12 L113.57,57.14 L113.9,58.16 L114.23,59.19 L114.55,60.22 L114.88,61.25 L115.21,62.28 L115.54,63.31 L115.87,64.33 L116.2,65.34 L116.53,66.35 L116.86,67.35 L117.19,68.34 L117.52,69.33 L117.84,70.32 L118.17,71.31 L118.5,72.3 L118.83,73.29 L119.16,74.3 L119.49,75.31 L119.82,76.33 L120.15,77.36 L120.48,78.41 L120.81,79.48 L121.14,80.56 L121.46,81.67 L121.79,82.78 L122.12,83.92 L122.45,85.06 L122.78,86.21 L123.11,87.36 L123.44,88.52 L123.77,89.67 L124.1,90.82 L124.43,91.97 L124.76,93.11 L125.08,94.23 L125.41,95.34 L125.74,96.44 L126.07,97.51 L126.4,98.56 L126.73,99.59 L127.06,100.58 L127.39,101.55 L127.72,102.48 L128.05,103.38 L128.37,104.25 L128.7,105.09 L129.03,105.9 L129.36,106.69 L129.69,107.45 L130.02,108.19 L130.35,108.92 L130.68,109.63 L131.01,110.32 L131.34,111 L131.67,111.67 L131.99,112.33 L132.32,112.98 L132.65,113.63 L132.98,114.26 L133.31,114.89 L133.64,115.52 L133.97,116.13 L134.3,116.75 L134.63,117.36 L134.96,117.96 L135.28,118.54 L135.61,119.09 L135.94,119.59 L136.27,120.04 L136.6,120.42 L136.93,120.72 L137.26,120.94 L137.59,121.05 L137.92,121.05 L138.25,120.93 L138.58,120.68 L138.9,120.3 L139.23,119.8 L139.56,119.2 L139.89,118.49 L140.22,117.69 L140.55,116.8 L140.88,115.84 L141.21,114.81 L141.54,113.71 L141.87,112.57 L142.2,111.37 L142.52,110.14 L142.85,108.87 L143.18,107.57 L143.51,106.24 L143.84,104.9 L144.17,103.53 L144.5,102.16 L144.83,100.79 L145.16,99.41 L145.49,98.03 L145.81,96.65 L146.14,95.27 L146.47,93.88 L146.8,92.48 L147.13,91.07 L147.46,89.66 L147.79,88.22 L148.12,86.78 L148.45,85.31 L148.78,83.83 L149.11,82.33 L149.43,80.8 L149.76,79.25 L150.09,77.68 L150.42,76.07 L150.75,74.46 L151.08,72.83 L151.41,71.2 L151.74,69.58 L152.07,67.97 L152.4,66.4 L152.73,64.85 L153.05,63.35 L153.38,61.91 L153.71,60.52 L154.04,59.18 L154.37,57.9 L154.7,56.67 L155.03,55.49 L155.36,54.36 L155.69,53.27 L156.02,52.22 L156.34,51.21 L156.67,50.24 L157,49.3 L157.33,48.4 L157.66,47.52 L157.99,46.69 L158.32,45.91 L158.65,45.17 L158.98,44.49 L159.31,43.88 L159.64,43.33 L159.96,42.85 L160.29,42.45 L160.62,42.13 L160.95,41.9 L161.28,41.76 L161.61,41.72 L161.94,41.78 L162.27,41.93 L162.6,42.15 L162.93,42.43 L163.25,42.76 L163.58,43.13 L163.91,43.52 L164.24,43.93 L164.57,44.34 L164.9,44.73 L165.23,45.1 L165.56,45.43 L165.89,45.71 L166.22,45.93 L166.55,46.07 L166.87,46.13 L167.2,46.12 L167.53,46.05 L167.86,45.92 L168.19,45.74 L168.52,45.52 L168.85,45.28 L169.18,45.01 L169.51,44.74 L169.84,44.45 L170.17,44.18 L170.49,43.92 L170.82,43.69 L171.15,43.5 L171.48,43.35 L171.81,43.27 L172.14,43.25 L172.47,43.31 L172.8,43.47 L173.13,43.72 L173.46,44.06 L173.78,44.49 L174.11,44.99 L174.44,45.57 L174.77,46.21 L175.1,46.92 L175.43,47.68 L175.76,48.48 L176.09,49.33 L176.42,50.22 L176.75,51.14 L177.08,52.08 L177.4,53.04 L177.73,54.02 L178.06,55.01 L178.39,56.02 L178.72,57.03 L179.05,58.05 L179.38,59.08 L179.71,60.11 L180.04,61.14 L180.37,62.17 L180.69,63.2 L181.02,64.22 L181.35,65.24 L181.68,66.25 L182.01,67.25 L182.34,68.24 L182.67,69.23 L183,70.22 L183.33,71.21 L183.66,72.2 L183.99,73.19 L184.31,74.19 L184.64,75.2 L184.97,76.22 L185.3,77.26 L185.63,78.3 L185.96,79.37 L186.29,80.45 L186.62,81.55 L186.95,82.67 L187.28,83.8 L187.61,84.94 L187.93,86.09 L188.26,87.24 L188.59,88.4 L188.92,89.55 L189.25,90.7 L189.58,91.85 L189.91,92.99 L190.24,94.12 L190.57,95.23 L190.9,96.32 L191.22,97.4 L191.55,98.45 L191.88,99.48 L192.21,100.48 L192.54,101.45 L192.87,102.39 L193.2,103.29 L193.53,104.16 L193.86,105.01 L194.19,105.82 L194.52,106.61 L194.84,107.37 L195.17,108.12 L195.5,108.85 L195.83,109.55 L196.16,110.25 L196.49,110.93 L196.82,111.6 L197.15,112.27 L197.48,112.92 L197.81,113.56 L198.14,114.2 L198.46,114.83 L198.79,115.45 L199.12,116.07 L199.45,116.68 L199.78,117.3 L200.11,117.9 L200.44,118.48 L200.77,119.03 L201.1,119.54 L201.43,119.99 L201.75,120.38 L202.08,120.7 L202.41,120.92 L202.74,121.04 L203.07,121.06 L203.4,120.95" fill="none" stroke="#76cf76" stroke-width="1.3" stroke-linejoin="round"/>
<path d="M39.2,44.49 L41.18,41.13 L37.22,41.13 Z" fill="#fff" stroke="#76cf76" stroke-width="0.85" stroke-linejoin="round"/>
<path d="M50.69,66.34 L52.67,62.97 L48.71,62.97 Z" fill="#fff" stroke="#76cf76" stroke-width="0.85" stroke-linejoin="round"/>
<path d="M62.19,103.49 L64.17,100.13 L60.21,100.13 Z" fill="#fff" stroke="#76cf76" stroke-width="0.85" stroke-linejoin="round"/>
<path d="M73.68,122.32 L75.66,118.96 L71.7,118.96 Z" fill="#fff" stroke="#76cf76" stroke-width="0.85" stroke-linejoin="round"/>
<path d="M85.18,78.34 L87.16,74.97 L83.2,74.97 Z" fill="#fff" stroke="#76cf76" stroke-width="0.85" stroke-linejoin="round"/>
<path d="M96.67,43.74 L98.65,40.37 L94.69,40.37 Z" fill="#fff" stroke="#76cf76" stroke-width="0.85" stroke-linejoin="round"/>
<path d="M108.16,45.92 L110.14,42.56 L106.18,42.56 Z" fill="#fff" stroke="#76cf76" stroke-width="0.85" stroke-linejoin="round"/>
<path d="M119.66,77.81 L121.64,74.44 L117.68,74.44 Z" fill="#fff" stroke="#76cf76" stroke-width="0.85" stroke-linejoin="round"/>
<path d="M131.15,112.6 L133.13,109.24 L129.17,109.24 Z" fill="#fff" stroke="#76cf76" stroke-width="0.85" stroke-linejoin="round"/>
<path d="M142.65,111.65 L144.63,108.28 L140.67,108.28 Z" fill="#fff" stroke="#76cf76" stroke-width="0.85" stroke-linejoin="round"/>
<path d="M154.14,60.77 L156.12,57.41 L152.16,57.41 Z" fill="#fff" stroke="#76cf76" stroke-width="0.85" stroke-linejoin="round"/>
<path d="M165.63,47.48 L167.61,44.11 L163.65,44.11 Z" fill="#fff" stroke="#76cf76" stroke-width="0.85" stroke-linejoin="round"/>
<path d="M177.13,54.21 L179.11,50.85 L175.15,50.85 Z" fill="#fff" stroke="#76cf76" stroke-width="0.85" stroke-linejoin="round"/>
<path d="M188.62,90.48 L190.6,87.12 L186.64,87.12 Z" fill="#fff" stroke="#76cf76" stroke-width="0.85" stroke-linejoin="round"/>
<path d="M200.12,119.89 L202.1,116.52 L198.14,116.52 Z" fill="#fff" stroke="#76cf76" stroke-width="0.85" stroke-linejoin="round"/>
<path d="M203.4,122.93 L205.38,119.56 L201.42,119.56 Z" fill="#fff" stroke="#76cf76" stroke-width="0.85" stroke-linejoin="round"/>
<path d="M158.3,38.8 H165.5 V44 H158.3 Z M158.3,38.8 L204.7,29.3 M165.5,44 L204.7,73.2" fill="none" stroke="#b0b0b0" stroke-width="0.8"/>
<rect x="204.7" y="29.3" width="33" height="43.9" fill="#fff" stroke="#6a6a6a" stroke-width="1"/>
<path d="M213,76 L213.21,75.52 L213.41,75.04 L213.62,74.58 L213.82,74.13 L214.03,73.69 L214.24,73.26 L214.44,72.84 L214.65,72.43 L214.85,72.03 L215.06,71.64 L215.26,71.26 L215.47,70.9 L215.68,70.54 L215.88,70.2 L216.09,69.86 L216.29,69.54 L216.5,69.23 L216.71,68.92 L216.91,68.63 L217.12,68.35 L217.32,68.09 L217.53,67.83 L217.74,67.58 L217.94,67.34 L218.15,67.12 L218.35,66.91 L218.56,66.7 L218.76,66.51 L218.97,66.33 L219.18,66.16 L219.38,66.01 L219.59,65.86 L219.79,65.72 L220,65.6 L220.21,65.49 L220.41,65.39 L220.62,65.29 L220.82,65.21 L221.03,65.14 L221.24,65.08 L221.44,65.03 L221.65,64.99 L221.85,64.96 L222.06,64.94 L222.26,64.93 L222.47,64.92 L222.68,64.93 L222.88,64.94 L223.09,64.96 L223.29,64.99 L223.5,65.02 L223.71,65.06 L223.91,65.11 L224.12,65.17 L224.32,65.23 L224.53,65.3 L224.74,65.37 L224.94,65.45 L225.15,65.53 L225.35,65.62 L225.56,65.72 L225.76,65.82 L225.97,65.92 L226.18,66.03 L226.38,66.14 L226.59,66.26 L226.79,66.38 L227,66.5 L227.21,66.62 L227.41,66.75 L227.62,66.88 L227.82,67.02 L228.03,67.15 L228.24,67.29 L228.44,67.43 L228.65,67.57 L228.85,67.71 L229.06,67.85 L229.26,68 L229.47,68.14 L229.68,68.29 L229.88,68.43 L230.09,68.57 L230.29,68.72 L230.5,68.86 L230.71,69 L230.91,69.15 L231.12,69.29 L231.32,69.43 L231.53,69.57 L231.74,69.71 L231.94,69.85 L232.15,69.99 L232.35,70.13 L232.56,70.28 L232.76,70.42 L232.97,70.57 L233.18,70.72 L233.38,70.88 L233.59,71.03 L233.79,71.19 L234,71.36 L234.21,71.53 L234.41,71.7 L234.62,71.87 L234.82,72.05 L235.03,72.24 L235.24,72.43 L235.44,72.63 L235.65,72.83 L235.85,73.05 L236.06,73.26 L236.26,73.49 L236.47,73.72 L236.68,73.96 L236.88,74.21 L237.09,74.46 L237.29,74.73 L237.5,75" fill="none" stroke="#e23c42" stroke-width="1.3" clip-path="url(#cia)"/>
<circle cx="215.3" cy="71.2" r="1.45" fill="#fff" stroke="#e23c42" stroke-width="0.85"/>
<circle cx="220" cy="65.6" r="1.45" fill="#fff" stroke="#e23c42" stroke-width="0.85"/>
<circle cx="225.3" cy="65.6" r="1.45" fill="#fff" stroke="#e23c42" stroke-width="0.85"/>
<circle cx="230.7" cy="69" r="1.45" fill="#fff" stroke="#e23c42" stroke-width="0.85"/>
<circle cx="236" cy="73.2" r="1.45" fill="#fff" stroke="#e23c42" stroke-width="0.85"/>
<path d="M205.5,75.5 L205.72,74.75 L205.94,74.05 L206.16,73.39 L206.37,72.77 L206.59,72.19 L206.81,71.65 L207.03,71.14 L207.25,70.66 L207.47,70.21 L207.68,69.79 L207.9,69.38 L208.12,69 L208.34,68.64 L208.56,68.29 L208.78,67.95 L209,67.62 L209.21,67.3 L209.43,66.98 L209.65,66.66 L209.87,66.34 L210.09,66.02 L210.31,65.69 L210.53,65.35 L210.74,65.01 L210.96,64.67 L211.18,64.33 L211.4,63.98 L211.62,63.63 L211.84,63.29 L212.05,62.94 L212.27,62.6 L212.49,62.27 L212.71,61.94 L212.93,61.61 L213.15,61.3 L213.37,60.99 L213.58,60.7 L213.8,60.41 L214.02,60.14 L214.24,59.88 L214.46,59.63 L214.68,59.41 L214.89,59.2 L215.11,59 L215.33,58.83 L215.55,58.67 L215.77,58.53 L215.99,58.41 L216.21,58.31 L216.42,58.22 L216.64,58.16 L216.86,58.11 L217.08,58.07 L217.3,58.05 L217.52,58.05 L217.74,58.07 L217.95,58.1 L218.17,58.14 L218.39,58.2 L218.61,58.28 L218.83,58.37 L219.05,58.47 L219.26,58.59 L219.48,58.73 L219.7,58.88 L219.92,59.04 L220.14,59.21 L220.36,59.4 L220.58,59.6 L220.79,59.81 L221.01,60.03 L221.23,60.27 L221.45,60.51 L221.67,60.76 L221.89,61.02 L222.11,61.28 L222.32,61.56 L222.54,61.84 L222.76,62.12 L222.98,62.41 L223.2,62.7 L223.42,63 L223.63,63.3 L223.85,63.6 L224.07,63.9 L224.29,64.21 L224.51,64.51 L224.73,64.81 L224.95,65.12 L225.16,65.41 L225.38,65.71 L225.6,66 L225.82,66.3 L226.04,66.59 L226.26,66.88 L226.47,67.16 L226.69,67.45 L226.91,67.75 L227.13,68.04 L227.35,68.34 L227.57,68.64 L227.79,68.94 L228,69.25 L228.22,69.57 L228.44,69.89 L228.66,70.22 L228.88,70.56 L229.1,70.9 L229.32,71.26 L229.53,71.62 L229.75,72 L229.97,72.39 L230.19,72.79 L230.41,73.21 L230.63,73.63 L230.84,74.08 L231.06,74.53 L231.28,75.01 L231.5,75.5" fill="none" stroke="#2626dc" stroke-width="1.3" clip-path="url(#cia)"/>
<path d="M210.1,64.26 L211.84,67.22 L208.36,67.22 Z" fill="#fff" stroke="#2626dc" stroke-width="0.85" stroke-linejoin="round"/>
<path d="M215,57.36 L216.74,60.32 L213.26,60.32 Z" fill="#fff" stroke="#2626dc" stroke-width="0.85" stroke-linejoin="round"/>
<path d="M220,57.36 L221.74,60.32 L218.26,60.32 Z" fill="#fff" stroke="#2626dc" stroke-width="0.85" stroke-linejoin="round"/>
<path d="M225.3,63.86 L227.04,66.82 L223.56,66.82 Z" fill="#fff" stroke="#2626dc" stroke-width="0.85" stroke-linejoin="round"/>
<path d="M230.3,71.26 L232.04,74.22 L228.56,74.22 Z" fill="#fff" stroke="#2626dc" stroke-width="0.85" stroke-linejoin="round"/>
<path d="M203.5,65.5 L203.79,64.44 L204.09,63.45 L204.38,62.54 L204.68,61.7 L204.97,60.92 L205.26,60.2 L205.56,59.53 L205.85,58.91 L206.15,58.33 L206.44,57.79 L206.74,57.29 L207.03,56.82 L207.32,56.37 L207.62,55.94 L207.91,55.53 L208.21,55.12 L208.5,54.73 L208.79,54.33 L209.09,53.93 L209.38,53.52 L209.68,53.1 L209.97,52.67 L210.26,52.23 L210.56,51.79 L210.85,51.34 L211.15,50.89 L211.44,50.44 L211.74,49.99 L212.03,49.56 L212.32,49.13 L212.62,48.71 L212.91,48.31 L213.21,47.92 L213.5,47.56 L213.79,47.22 L214.09,46.9 L214.38,46.61 L214.68,46.35 L214.97,46.12 L215.26,45.93 L215.56,45.77 L215.85,45.64 L216.15,45.55 L216.44,45.49 L216.74,45.46 L217.03,45.46 L217.32,45.49 L217.62,45.55 L217.91,45.63 L218.21,45.74 L218.5,45.87 L218.79,46.03 L219.09,46.21 L219.38,46.41 L219.68,46.63 L219.97,46.87 L220.26,47.14 L220.56,47.42 L220.85,47.71 L221.15,48.02 L221.44,48.35 L221.74,48.69 L222.03,49.04 L222.32,49.41 L222.62,49.78 L222.91,50.16 L223.21,50.56 L223.5,50.96 L223.79,51.36 L224.09,51.77 L224.38,52.19 L224.68,52.61 L224.97,53.03 L225.26,53.45 L225.56,53.87 L225.85,54.29 L226.15,54.71 L226.44,55.13 L226.74,55.55 L227.03,55.98 L227.32,56.4 L227.62,56.82 L227.91,57.24 L228.21,57.65 L228.5,58.07 L228.79,58.49 L229.09,58.91 L229.38,59.33 L229.68,59.75 L229.97,60.17 L230.26,60.58 L230.56,61 L230.85,61.42 L231.15,61.83 L231.44,62.25 L231.74,62.67 L232.03,63.09 L232.32,63.52 L232.62,63.94 L232.91,64.38 L233.21,64.82 L233.5,65.26 L233.79,65.71 L234.09,66.17 L234.38,66.64 L234.68,67.12 L234.97,67.6 L235.26,68.1 L235.56,68.61 L235.85,69.13 L236.15,69.67 L236.44,70.21 L236.74,70.78 L237.03,71.35 L237.32,71.95 L237.62,72.56 L237.91,73.19 L238.21,73.83 L238.5,74.5" fill="none" stroke="#76cf76" stroke-width="1.3" clip-path="url(#cia)"/>
<path d="M204.2,64.84 L205.94,61.88 L202.46,61.88 Z" fill="#fff" stroke="#76cf76" stroke-width="0.85" stroke-linejoin="round"/>
<path d="M209.4,55.24 L211.14,52.28 L207.66,52.28 Z" fill="#fff" stroke="#76cf76" stroke-width="0.85" stroke-linejoin="round"/>
<path d="M215,47.84 L216.74,44.88 L213.26,44.88 Z" fill="#fff" stroke="#76cf76" stroke-width="0.85" stroke-linejoin="round"/>
<path d="M220,48.64 L221.74,45.68 L218.26,45.68 Z" fill="#fff" stroke="#76cf76" stroke-width="0.85" stroke-linejoin="round"/>
<path d="M225.3,55.24 L227.04,52.28 L223.56,52.28 Z" fill="#fff" stroke="#76cf76" stroke-width="0.85" stroke-linejoin="round"/>
<path d="M230.7,62.94 L232.44,59.98 L228.96,59.98 Z" fill="#fff" stroke="#76cf76" stroke-width="0.85" stroke-linejoin="round"/>
<path d="M237.3,73.64 L239.04,70.68 L235.56,70.68 Z" fill="#fff" stroke="#76cf76" stroke-width="0.85" stroke-linejoin="round"/>
<path d="M203.5,52.5 L203.79,51.89 L204.08,51.25 L204.37,50.59 L204.66,49.9 L204.95,49.19 L205.24,48.46 L205.53,47.72 L205.82,46.97 L206.11,46.21 L206.4,45.45 L206.69,44.69 L206.98,43.93 L207.27,43.18 L207.56,42.44 L207.85,41.71 L208.14,41 L208.43,40.31 L208.72,39.64 L209.01,39 L209.3,38.39 L209.59,37.81 L209.88,37.27 L210.17,36.77 L210.46,36.31 L210.75,35.87 L211.04,35.48 L211.33,35.11 L211.62,34.78 L211.91,34.48 L212.2,34.2 L212.49,33.95 L212.78,33.73 L213.07,33.53 L213.36,33.36 L213.65,33.21 L213.94,33.08 L214.23,32.96 L214.52,32.87 L214.81,32.79 L215.1,32.73 L215.39,32.69 L215.68,32.65 L215.97,32.64 L216.26,32.63 L216.55,32.64 L216.84,32.67 L217.13,32.71 L217.42,32.77 L217.71,32.84 L218,32.94 L218.29,33.05 L218.58,33.18 L218.87,33.33 L219.16,33.5 L219.45,33.68 L219.74,33.89 L220.03,34.12 L220.32,34.37 L220.61,34.64 L220.89,34.93 L221.18,35.24 L221.47,35.57 L221.76,35.91 L222.05,36.26 L222.34,36.63 L222.63,37.02 L222.92,37.42 L223.21,37.82 L223.5,38.24 L223.79,38.67 L224.08,39.11 L224.37,39.55 L224.66,40 L224.95,40.45 L225.24,40.91 L225.53,41.37 L225.82,41.84 L226.11,42.3 L226.4,42.77 L226.69,43.24 L226.98,43.71 L227.27,44.17 L227.56,44.64 L227.85,45.1 L228.14,45.56 L228.43,46.02 L228.72,46.47 L229.01,46.92 L229.3,47.36 L229.59,47.8 L229.88,48.23 L230.17,48.65 L230.46,49.07 L230.75,49.47 L231.04,49.87 L231.33,50.26 L231.62,50.64 L231.91,51.01 L232.2,51.38 L232.49,51.75 L232.78,52.12 L233.07,52.48 L233.36,52.84 L233.65,53.2 L233.94,53.57 L234.23,53.94 L234.52,54.31 L234.81,54.69 L235.1,55.07 L235.39,55.46 L235.68,55.86 L235.97,56.27 L236.26,56.69 L236.55,57.12 L236.84,57.57 L237.13,58.03 L237.42,58.5 L237.71,58.99 L238,59.5" fill="none" stroke="#222222" stroke-width="1.3" clip-path="url(#cia)"/>
<rect x="203.32" y="48.42" width="2.75" height="2.75" fill="#fff" stroke="#222222" stroke-width="0.85"/>
<rect x="208.32" y="36.22" width="2.75" height="2.75" fill="#fff" stroke="#222222" stroke-width="0.85"/>
<rect x="213.92" y="31.32" width="2.75" height="2.75" fill="#fff" stroke="#222222" stroke-width="0.85"/>
<rect x="218.62" y="32.72" width="2.75" height="2.75" fill="#fff" stroke="#222222" stroke-width="0.85"/>
<rect x="223.92" y="39.62" width="2.75" height="2.75" fill="#fff" stroke="#222222" stroke-width="0.85"/>
<rect x="229.32" y="48.02" width="2.75" height="2.75" fill="#fff" stroke="#222222" stroke-width="0.85"/>
<rect x="235.22" y="55.82" width="2.75" height="2.75" fill="#fff" stroke="#222222" stroke-width="0.85"/>
<path d="M204.7,38 h2.5 M204.7,52.2 h2.5 M204.7,66.4 h2.5 M212.3,73.2 v-2 M229,73.2 v-2" stroke="#6a6a6a" stroke-width="0.8"/>
<text x="202.2" y="42.2" font-size="12" text-anchor="end" fill="#1a1a1a">25</text>
<text x="202.2" y="56.4" font-size="12" text-anchor="end" fill="#1a1a1a">24</text>
<text x="202.2" y="70.6" font-size="12" text-anchor="end" fill="#1a1a1a">23</text>
<text x="213.7" y="86.2" font-size="12.5" text-anchor="middle" fill="#1a1a1a">7.4</text>
<text x="228.9" y="86.2" font-size="12.5" text-anchor="middle" fill="#1a1a1a">7.6</text>
<rect x="289.5" y="28.5" width="165" height="95" fill="none" stroke="#7c7c7c" stroke-width="1"/>
<path d="M289.5,123.5 v3 M306.5,123.5 v2 M322.5,123.5 v3 M339.5,123.5 v2 M355.5,123.5 v3 M371.5,123.5 v2 M388.5,123.5 v3 M404.5,123.5 v2 M421.5,123.5 v3 M437.5,123.5 v2 M454.5,123.5 v3 M289.5,40.5 h-3 M289.5,64.5 h-3 M289.5,87.5 h-3 M289.5,111.5 h-3" stroke="#7c7c7c" stroke-width="1" fill="none"/>
<text x="289.7" y="139" font-size="12" text-anchor="middle" fill="#1a1a1a">0</text>
<text x="322.6" y="139" font-size="12" text-anchor="middle" fill="#1a1a1a">2</text>
<text x="355.5" y="139" font-size="12" text-anchor="middle" fill="#1a1a1a">4</text>
<text x="388.4" y="139" font-size="12" text-anchor="middle" fill="#1a1a1a">6</text>
<text x="421.3" y="139" font-size="12" text-anchor="middle" fill="#1a1a1a">8</text>
<text x="454.2" y="139" font-size="12" text-anchor="middle" fill="#1a1a1a">10</text>
<text x="282.8" y="43.55" font-size="12" text-anchor="end" fill="#1a1a1a">4</text>
<text x="282.8" y="67.15" font-size="12" text-anchor="end" fill="#1a1a1a">2</text>
<text x="282.8" y="90.75" font-size="12" text-anchor="end" fill="#1a1a1a">0</text>
<text x="282.8" y="114.35" font-size="12" text-anchor="end" fill="#1a1a1a">-2</text>
<text x="268.5" y="78.7" font-size="12.4" text-anchor="middle" fill="#1a1a1a" transform="rotate(-90 268.5 78.7)">Joint error(°)</text>
<text x="373.6" y="155.2" font-size="12.5" text-anchor="middle" fill="#1a1a1a">simulation time(s)</text>
<text x="373.8" y="168.2" font-size="12" text-anchor="middle" fill="#1a1a1a">(b)</text>
<path d="M289.7,87.56 L290.03,84.91 L290.36,82.5 L290.69,80.37 L291.02,78.55 L291.35,77.05 L291.68,75.92 L292.01,75.17 L292.34,74.83 L292.67,74.93 L293,75.43 L293.33,76.27 L293.66,77.36 L293.99,78.63 L294.32,79.98 L294.64,81.35 L294.97,82.67 L295.3,83.93 L295.63,85.14 L295.96,86.3 L296.29,87.42 L296.62,88.51 L296.95,89.57 L297.28,90.6 L297.61,91.62 L297.94,92.61 L298.27,93.58 L298.6,94.53 L298.93,95.46 L299.26,96.37 L299.59,97.27 L299.92,98.14 L300.25,99 L300.58,99.83 L300.91,100.65 L301.24,101.45 L301.57,102.24 L301.9,103 L302.23,103.75 L302.56,104.49 L302.89,105.21 L303.22,105.91 L303.55,106.6 L303.88,107.29 L304.21,107.97 L304.53,108.66 L304.86,109.35 L305.19,110.05 L305.52,110.76 L305.85,111.48 L306.18,112.22 L306.51,112.95 L306.84,113.68 L307.17,114.38 L307.5,115.05 L307.83,115.68 L308.16,116.25 L308.49,116.76 L308.82,117.21 L309.15,117.58 L309.48,117.9 L309.81,118.17 L310.14,118.4 L310.47,118.6 L310.8,118.77 L311.13,118.92 L311.46,119.07 L311.79,119.21 L312.12,119.37 L312.45,119.53 L312.78,119.71 L313.11,119.9 L313.44,120.1 L313.77,120.29 L314.09,120.48 L314.42,120.66 L314.75,120.82 L315.08,120.96 L315.41,121.07 L315.74,121.15 L316.07,121.2 L316.4,121.2 L316.73,121.17 L317.06,121.08 L317.39,120.95 L317.72,120.76 L318.05,120.52 L318.38,120.22 L318.71,119.87 L319.04,119.45 L319.37,118.96 L319.7,118.41 L320.03,117.79 L320.36,117.09 L320.69,116.32 L321.02,115.47 L321.35,114.54 L321.68,113.53 L322.01,112.43 L322.34,111.24 L322.67,109.96 L323,108.58 L323.33,107.13 L323.65,105.59 L323.98,103.99 L324.31,102.32 L324.64,100.61 L324.97,98.84 L325.3,97.04 L325.63,95.21 L325.96,93.36 L326.29,91.5 L326.62,89.62 L326.95,87.75 L327.28,85.86 L327.61,83.95 L327.94,82.02 L328.27,80.05 L328.6,78.03 L328.93,75.96 L329.26,73.83 L329.59,71.59 L329.92,69.09 L330.25,66.21 L330.58,62.8 L330.91,58.77 L331.24,54.56 L331.57,50.84 L331.9,47.76 L332.23,45.22 L332.56,43.12 L332.89,41.34 L333.22,39.82 L333.54,38.52 L333.87,37.42 L334.2,36.51 L334.53,35.75 L334.86,35.13 L335.19,34.63 L335.52,34.24 L335.85,33.94 L336.18,33.73 L336.51,33.59 L336.84,33.53 L337.17,33.52 L337.5,33.55 L337.83,33.64 L338.16,33.77 L338.49,33.95 L338.82,34.18 L339.15,34.47 L339.48,34.81 L339.81,35.21 L340.14,35.66 L340.47,36.17 L340.8,36.74 L341.13,37.36 L341.46,38.03 L341.79,38.75 L342.12,39.51 L342.45,40.32 L342.78,41.19 L343.1,42.12 L343.43,43.13 L343.76,44.22 L344.09,45.42 L344.42,46.74 L344.75,48.18 L345.08,49.74 L345.41,51.41 L345.74,53.16 L346.07,54.98 L346.4,56.84 L346.73,58.72 L347.06,60.61 L347.39,62.46 L347.72,64.27 L348.05,65.98 L348.38,67.58 L348.71,69.02 L349.04,70.28 L349.37,71.33 L349.7,72.13 L350.03,72.64 L350.36,72.85 L350.69,72.75 L351.02,72.37 L351.35,71.75 L351.68,70.94 L352.01,69.97 L352.34,68.89 L352.66,67.73 L352.99,66.55 L353.32,65.37 L353.65,64.23 L353.98,63.19 L354.31,62.27 L354.64,61.52 L354.97,60.98 L355.3,60.7 L355.63,60.7 L355.96,61 L356.29,61.57 L356.62,62.39 L356.95,63.43 L357.28,64.64 L357.61,66.02 L357.94,67.52 L358.27,69.11 L358.6,70.78 L358.93,72.48 L359.26,74.19 L359.59,75.88 L359.92,77.52 L360.25,79.1 L360.58,80.64 L360.91,82.12 L361.24,83.56 L361.57,84.94 L361.9,86.27 L362.23,87.56 L362.55,88.79 L362.88,89.98 L363.21,91.12 L363.54,92.21 L363.87,93.26 L364.2,94.27 L364.53,95.24 L364.86,96.17 L365.19,97.08 L365.52,97.95 L365.85,98.79 L366.18,99.6 L366.51,100.39 L366.84,101.16 L367.17,101.92 L367.5,102.65 L367.83,103.37 L368.16,104.08 L368.49,104.78 L368.82,105.47 L369.15,106.16 L369.48,106.84 L369.81,107.53 L370.14,108.22 L370.47,108.91 L370.8,109.61 L371.13,110.32 L371.46,111.04 L371.79,111.78 L372.11,112.52 L372.44,113.25 L372.77,113.97 L373.1,114.66 L373.43,115.31 L373.76,115.92 L374.09,116.47 L374.42,116.95 L374.75,117.36 L375.08,117.71 L375.41,118.01 L375.74,118.26 L376.07,118.48 L376.4,118.66 L376.73,118.83 L377.06,118.98 L377.39,119.13 L377.72,119.27 L378.05,119.43 L378.38,119.6 L378.71,119.79 L379.04,119.98 L379.37,120.18 L379.7,120.37 L380.03,120.55 L380.36,120.72 L380.69,120.88 L381.02,121.01 L381.35,121.11 L381.67,121.18 L382,121.21 L382.33,121.19 L382.66,121.14 L382.99,121.03 L383.32,120.88 L383.65,120.67 L383.98,120.41 L384.31,120.09 L384.64,119.71 L384.97,119.26 L385.3,118.75 L385.63,118.17 L385.96,117.52 L386.29,116.79 L386.62,115.99 L386.95,115.11 L387.28,114.15 L387.61,113.1 L387.94,111.96 L388.27,110.74 L388.6,109.42 L388.93,108.01 L389.26,106.52 L389.59,104.96 L389.92,103.33 L390.25,101.64 L390.58,99.91 L390.91,98.13 L391.24,96.32 L391.56,94.48 L391.89,92.62 L392.22,90.75 L392.55,88.87 L392.88,86.99 L393.21,85.1 L393.54,83.18 L393.87,81.23 L394.2,79.25 L394.53,77.21 L394.86,75.12 L395.19,72.95 L395.52,70.63 L395.85,68 L396.18,64.92 L396.51,61.25 L396.84,57.07 L397.17,52.99 L397.5,49.54 L397.83,46.69 L398.16,44.33 L398.49,42.37 L398.82,40.7 L399.15,39.27 L399.48,38.06 L399.81,37.04 L400.14,36.19 L400.47,35.49 L400.8,34.92 L401.12,34.46 L401.45,34.1 L401.78,33.84 L402.11,33.66 L402.44,33.56 L402.77,33.52 L403.1,33.53 L403.43,33.58 L403.76,33.68 L404.09,33.84 L404.42,34.04 L404.75,34.29 L405.08,34.6 L405.41,34.96 L405.74,35.38 L406.07,35.86 L406.4,36.39 L406.73,36.98 L407.06,37.62 L407.39,38.31 L407.72,39.05 L408.05,39.83 L408.38,40.66 L408.71,41.55 L409.04,42.51 L409.37,43.55 L409.7,44.69 L410.03,45.93 L410.36,47.3 L410.68,48.79 L411.01,50.39 L411.34,52.1 L411.67,53.88 L412,55.72 L412.33,57.59 L412.66,59.48 L412.99,61.35 L413.32,63.19 L413.65,64.97 L413.98,66.64 L414.31,68.18 L414.64,69.55 L414.97,70.73 L415.3,71.68 L415.63,72.37 L415.96,72.77 L416.29,72.85 L416.62,72.63 L416.95,72.14 L417.28,71.44 L417.61,70.57 L417.94,69.55 L418.27,68.43 L418.6,67.26 L418.93,66.07 L419.26,64.9 L419.59,63.8 L419.92,62.8 L420.25,61.95 L420.57,61.28 L420.9,60.84 L421.23,60.66 L421.56,60.78 L421.89,61.2 L422.22,61.87 L422.55,62.78 L422.88,63.89 L423.21,65.18 L423.54,66.6 L423.87,68.15 L424.2,69.77 L424.53,71.46 L424.86,73.16 L425.19,74.87 L425.52,76.54 L425.85,78.16 L426.18,79.72 L426.51,81.24 L426.84,82.7 L427.17,84.12 L427.5,85.48 L427.83,86.79 L428.16,88.06 L428.49,89.27 L428.82,90.44 L429.15,91.56 L429.48,92.63 L429.81,93.67 L430.13,94.66 L430.46,95.62 L430.79,96.54 L431.12,97.43 L431.45,98.29 L431.78,99.12 L432.11,99.92 L432.44,100.7 L432.77,101.47 L433.1,102.21 L433.43,102.94 L433.76,103.65 L434.09,104.36 L434.42,105.05 L434.75,105.75 L435.08,106.43 L435.41,107.12 L435.74,107.8 L436.07,108.49 L436.4,109.19 L436.73,109.89 L437.06,110.61 L437.39,111.34 L437.72,112.07 L438.05,112.81 L438.38,113.54 L438.71,114.25 L439.04,114.93 L439.37,115.56 L439.69,116.15 L440.02,116.67 L440.35,117.12 L440.68,117.51 L441.01,117.84 L441.34,118.12 L441.67,118.35 L442,118.56 L442.33,118.73 L442.66,118.89 L442.99,119.04 L443.32,119.18 L443.65,119.33 L443.98,119.5 L444.31,119.68 L444.64,119.86 L444.97,120.06 L445.3,120.25 L445.63,120.44 L445.96,120.62 L446.29,120.79 L446.62,120.93 L446.95,121.05 L447.28,121.14 L447.61,121.19 L447.94,121.21 L448.27,121.18 L448.6,121.1 L448.93,120.98 L449.26,120.8 L449.58,120.57 L449.91,120.29 L450.24,119.94 L450.57,119.54 L450.9,119.07 L451.23,118.53 L451.56,117.92 L451.89,117.24 L452.22,116.48 L452.55,115.65 L452.88,114.74 L453.21,113.74 L453.54,112.65 L453.87,111.48 L454.2,110.22" fill="none" stroke="#e23c42" stroke-width="1.3" stroke-linejoin="round"/>
<circle cx="289.7" cy="87.56" r="1.65" fill="#fff" stroke="#e23c42" stroke-width="0.85"/>
<circle cx="302.86" cy="105.15" r="1.65" fill="#fff" stroke="#e23c42" stroke-width="0.85"/>
<circle cx="316.02" cy="121.19" r="1.65" fill="#fff" stroke="#e23c42" stroke-width="0.85"/>
<circle cx="329.18" cy="74.35" r="1.65" fill="#fff" stroke="#e23c42" stroke-width="0.85"/>
<circle cx="342.34" cy="40.06" r="1.65" fill="#fff" stroke="#e23c42" stroke-width="0.85"/>
<circle cx="355.5" cy="60.66" r="1.65" fill="#fff" stroke="#e23c42" stroke-width="0.85"/>
<circle cx="368.66" cy="105.14" r="1.65" fill="#fff" stroke="#e23c42" stroke-width="0.85"/>
<circle cx="381.82" cy="121.19" r="1.65" fill="#fff" stroke="#e23c42" stroke-width="0.85"/>
<circle cx="394.98" cy="74.35" r="1.65" fill="#fff" stroke="#e23c42" stroke-width="0.85"/>
<circle cx="408.14" cy="40.06" r="1.65" fill="#fff" stroke="#e23c42" stroke-width="0.85"/>
<circle cx="421.3" cy="60.66" r="1.65" fill="#fff" stroke="#e23c42" stroke-width="0.85"/>
<circle cx="434.46" cy="105.14" r="1.65" fill="#fff" stroke="#e23c42" stroke-width="0.85"/>
<circle cx="447.62" cy="121.19" r="1.65" fill="#fff" stroke="#e23c42" stroke-width="0.85"/>
<circle cx="454.2" cy="110.22" r="1.65" fill="#fff" stroke="#e23c42" stroke-width="0.85"/>
<path d="M289.7,64.2 L290.03,64.26 L290.36,64.36 L290.69,64.49 L291.02,64.66 L291.35,64.86 L291.68,65.09 L292.01,65.35 L292.34,65.64 L292.67,65.95 L293,66.28 L293.33,66.63 L293.66,67.01 L293.99,67.4 L294.32,67.81 L294.64,68.22 L294.97,68.66 L295.3,69.1 L295.63,69.55 L295.96,70.02 L296.29,70.49 L296.62,70.98 L296.95,71.47 L297.28,71.97 L297.61,72.49 L297.94,73.01 L298.27,73.54 L298.6,74.08 L298.93,74.62 L299.26,75.18 L299.59,75.74 L299.92,76.3 L300.25,76.88 L300.58,77.46 L300.91,78.04 L301.24,78.64 L301.57,79.23 L301.9,79.83 L302.23,80.44 L302.56,81.05 L302.89,81.67 L303.22,82.28 L303.55,82.91 L303.88,83.53 L304.21,84.16 L304.53,84.79 L304.86,85.41 L305.19,86.04 L305.52,86.67 L305.85,87.3 L306.18,87.93 L306.51,88.56 L306.84,89.19 L307.17,89.81 L307.5,90.44 L307.83,91.05 L308.16,91.67 L308.49,92.28 L308.82,92.89 L309.15,93.49 L309.48,94.08 L309.81,94.67 L310.14,95.25 L310.47,95.83 L310.8,96.39 L311.13,96.95 L311.46,97.5 L311.79,98.04 L312.12,98.56 L312.45,99.08 L312.78,99.58 L313.11,100.08 L313.44,100.55 L313.77,101.02 L314.09,101.47 L314.42,101.91 L314.75,102.33 L315.08,102.74 L315.41,103.13 L315.74,103.5 L316.07,103.86 L316.4,104.19 L316.73,104.51 L317.06,104.81 L317.39,105.09 L317.72,105.34 L318.05,105.58 L318.38,105.79 L318.71,105.98 L319.04,106.14 L319.37,106.28 L319.7,106.4 L320.03,106.48 L320.36,106.55 L320.69,106.58 L321.02,106.58 L321.35,106.56 L321.68,106.5 L322.01,106.42 L322.34,106.3 L322.67,106.15 L323,105.97 L323.33,105.75 L323.65,105.5 L323.98,105.22 L324.31,104.89 L324.64,104.53 L324.97,104.14 L325.3,103.7 L325.63,103.22 L325.96,102.7 L326.29,102.14 L326.62,101.54 L326.95,100.9 L327.28,100.21 L327.61,99.47 L327.94,98.68 L328.27,97.85 L328.6,96.96 L328.93,96.01 L329.26,95.01 L329.59,93.95 L329.92,92.83 L330.25,91.65 L330.58,90.43 L330.91,89.18 L331.24,87.91 L331.57,86.63 L331.9,85.37 L332.23,84.14 L332.56,82.95 L332.89,81.81 L333.22,80.73 L333.54,79.73 L333.87,78.79 L334.2,77.91 L334.53,77.08 L334.86,76.3 L335.19,75.57 L335.52,74.88 L335.85,74.22 L336.18,73.59 L336.51,72.98 L336.84,72.4 L337.17,71.83 L337.5,71.27 L337.83,70.72 L338.16,70.17 L338.49,69.62 L338.82,69.08 L339.15,68.54 L339.48,68.02 L339.81,67.52 L340.14,67.04 L340.47,66.59 L340.8,66.17 L341.13,65.8 L341.46,65.46 L341.79,65.18 L342.12,64.94 L342.45,64.77 L342.78,64.65 L343.1,64.58 L343.43,64.56 L343.76,64.57 L344.09,64.63 L344.42,64.71 L344.75,64.82 L345.08,64.96 L345.41,65.11 L345.74,65.27 L346.07,65.44 L346.4,65.61 L346.73,65.78 L347.06,65.95 L347.39,66.1 L347.72,66.24 L348.05,66.36 L348.38,66.46 L348.71,66.52 L349.04,66.56 L349.37,66.55 L349.7,66.51 L350.03,66.44 L350.36,66.33 L350.69,66.2 L351.02,66.05 L351.35,65.88 L351.68,65.7 L352.01,65.52 L352.34,65.33 L352.66,65.14 L352.99,64.95 L353.32,64.78 L353.65,64.62 L353.98,64.48 L354.31,64.36 L354.64,64.27 L354.97,64.21 L355.3,64.19 L355.63,64.21 L355.96,64.27 L356.29,64.38 L356.62,64.52 L356.95,64.69 L357.28,64.91 L357.61,65.15 L357.94,65.42 L358.27,65.72 L358.6,66.04 L358.93,66.39 L359.26,66.76 L359.59,67.15 L359.92,67.55 L360.25,67.97 L360.58,68.4 L360.91,68.84 L361.24,69.29 L361.57,69.75 L361.9,70.22 L362.23,70.7 L362.55,71.19 L362.88,71.69 L363.21,72.2 L363.54,72.72 L363.87,73.24 L364.2,73.77 L364.53,74.31 L364.86,74.86 L365.19,75.42 L365.52,75.98 L365.85,76.55 L366.18,77.12 L366.51,77.7 L366.84,78.29 L367.17,78.88 L367.5,79.48 L367.83,80.08 L368.16,80.69 L368.49,81.3 L368.82,81.91 L369.15,82.53 L369.48,83.15 L369.81,83.78 L370.14,84.41 L370.47,85.03 L370.8,85.66 L371.13,86.29 L371.46,86.92 L371.79,87.55 L372.11,88.18 L372.44,88.81 L372.77,89.44 L373.1,90.06 L373.43,90.68 L373.76,91.3 L374.09,91.91 L374.42,92.52 L374.75,93.13 L375.08,93.73 L375.41,94.32 L375.74,94.91 L376.07,95.49 L376.4,96.06 L376.73,96.62 L377.06,97.17 L377.39,97.72 L377.72,98.25 L378.05,98.77 L378.38,99.28 L378.71,99.78 L379.04,100.27 L379.37,100.74 L379.7,101.2 L380.03,101.65 L380.36,102.08 L380.69,102.5 L381.02,102.9 L381.35,103.28 L381.67,103.65 L382,103.99 L382.33,104.32 L382.66,104.63 L382.99,104.92 L383.32,105.19 L383.65,105.44 L383.98,105.67 L384.31,105.87 L384.64,106.05 L384.97,106.2 L385.3,106.33 L385.63,106.44 L385.96,106.51 L386.29,106.56 L386.62,106.58 L386.95,106.58 L387.28,106.54 L387.61,106.47 L387.94,106.37 L388.27,106.24 L388.6,106.08 L388.93,105.89 L389.26,105.66 L389.59,105.39 L389.92,105.09 L390.25,104.75 L390.58,104.38 L390.91,103.97 L391.24,103.51 L391.56,103.02 L391.89,102.49 L392.22,101.91 L392.55,101.29 L392.88,100.63 L393.21,99.92 L393.54,99.16 L393.87,98.36 L394.2,97.5 L394.53,96.59 L394.86,95.62 L395.19,94.6 L395.52,93.51 L395.85,92.37 L396.18,91.17 L396.51,89.93 L396.84,88.67 L397.17,87.4 L397.5,86.13 L397.83,84.88 L398.16,83.66 L398.49,82.48 L398.82,81.37 L399.15,80.33 L399.48,79.35 L399.81,78.43 L400.14,77.57 L400.47,76.76 L400.8,76.01 L401.12,75.29 L401.45,74.61 L401.78,73.96 L402.11,73.34 L402.44,72.75 L402.77,72.17 L403.1,71.61 L403.43,71.05 L403.76,70.5 L404.09,69.95 L404.42,69.41 L404.75,68.86 L405.08,68.33 L405.41,67.82 L405.74,67.32 L406.07,66.86 L406.4,66.42 L406.73,66.02 L407.06,65.66 L407.39,65.34 L407.72,65.08 L408.05,64.87 L408.38,64.71 L408.71,64.62 L409.04,64.57 L409.37,64.56 L409.7,64.59 L410.03,64.66 L410.36,64.75 L410.68,64.87 L411.01,65.01 L411.34,65.17 L411.67,65.34 L412,65.51 L412.33,65.68 L412.66,65.85 L412.99,66.01 L413.32,66.16 L413.65,66.29 L413.98,66.4 L414.31,66.49 L414.64,66.54 L414.97,66.56 L415.3,66.54 L415.63,66.49 L415.96,66.4 L416.29,66.28 L416.62,66.15 L416.95,65.99 L417.28,65.81 L417.61,65.63 L417.94,65.44 L418.27,65.25 L418.6,65.06 L418.93,64.88 L419.26,64.71 L419.59,64.56 L419.92,64.43 L420.25,64.32 L420.57,64.25 L420.9,64.2 L421.23,64.2 L421.56,64.23 L421.89,64.31 L422.22,64.43 L422.55,64.58 L422.88,64.78 L423.21,65 L423.54,65.25 L423.87,65.54 L424.2,65.85 L424.53,66.18 L424.86,66.54 L425.19,66.91 L425.52,67.31 L425.85,67.72 L426.18,68.14 L426.51,68.57 L426.84,69.02 L427.17,69.47 L427.5,69.94 L427.83,70.41 L428.16,70.9 L428.49,71.39 L428.82,71.89 L429.15,72.41 L429.48,72.92 L429.81,73.45 L430.13,73.99 L430.46,74.53 L430.79,75.08 L431.12,75.64 L431.45,76.2 L431.78,76.78 L432.11,77.35 L432.44,77.94 L432.77,78.52 L433.1,79.12 L433.43,79.72 L433.76,80.32 L434.09,80.93 L434.42,81.54 L434.75,82.16 L435.08,82.78 L435.41,83.4 L435.74,84.03 L436.07,84.66 L436.4,85.29 L436.73,85.92 L437.06,86.55 L437.39,87.18 L437.72,87.81 L438.05,88.43 L438.38,89.06 L438.71,89.69 L439.04,90.31 L439.37,90.93 L439.69,91.55 L440.02,92.16 L440.35,92.77 L440.68,93.37 L441.01,93.97 L441.34,94.56 L441.67,95.14 L442,95.71 L442.33,96.28 L442.66,96.84 L442.99,97.39 L443.32,97.93 L443.65,98.46 L443.98,98.98 L444.31,99.49 L444.64,99.98 L444.97,100.46 L445.3,100.93 L445.63,101.38 L445.96,101.82 L446.29,102.25 L446.62,102.66 L446.95,103.05 L447.28,103.43 L447.61,103.79 L447.94,104.13 L448.27,104.45 L448.6,104.75 L448.93,105.03 L449.26,105.29 L449.58,105.53 L449.91,105.75 L450.24,105.94 L450.57,106.11 L450.9,106.26 L451.23,106.37 L451.56,106.47 L451.89,106.53 L452.22,106.57 L452.55,106.58 L452.88,106.56 L453.21,106.52 L453.54,106.44 L453.87,106.33 L454.2,106.18" fill="none" stroke="#2626dc" stroke-width="1.3" stroke-linejoin="round"/>
<path d="M289.7,62.22 L291.68,65.59 L287.72,65.59 Z" fill="#fff" stroke="#2626dc" stroke-width="0.85" stroke-linejoin="round"/>
<path d="M302.86,79.64 L304.84,83 L300.88,83 Z" fill="#fff" stroke="#2626dc" stroke-width="0.85" stroke-linejoin="round"/>
<path d="M316.02,101.82 L318,105.19 L314.04,105.19 Z" fill="#fff" stroke="#2626dc" stroke-width="0.85" stroke-linejoin="round"/>
<path d="M329.18,93.28 L331.16,96.64 L327.2,96.64 Z" fill="#fff" stroke="#2626dc" stroke-width="0.85" stroke-linejoin="round"/>
<path d="M342.34,62.84 L344.32,66.2 L340.36,66.2 Z" fill="#fff" stroke="#2626dc" stroke-width="0.85" stroke-linejoin="round"/>
<path d="M355.5,62.22 L357.48,65.59 L353.52,65.59 Z" fill="#fff" stroke="#2626dc" stroke-width="0.85" stroke-linejoin="round"/>
<path d="M368.66,79.64 L370.64,83 L366.68,83 Z" fill="#fff" stroke="#2626dc" stroke-width="0.85" stroke-linejoin="round"/>
<path d="M381.82,101.82 L383.8,105.19 L379.84,105.19 Z" fill="#fff" stroke="#2626dc" stroke-width="0.85" stroke-linejoin="round"/>
<path d="M394.98,93.28 L396.96,96.64 L393,96.64 Z" fill="#fff" stroke="#2626dc" stroke-width="0.85" stroke-linejoin="round"/>
<path d="M408.14,62.84 L410.12,66.2 L406.16,66.2 Z" fill="#fff" stroke="#2626dc" stroke-width="0.85" stroke-linejoin="round"/>
<path d="M421.3,62.22 L423.28,65.59 L419.32,65.59 Z" fill="#fff" stroke="#2626dc" stroke-width="0.85" stroke-linejoin="round"/>
<path d="M434.46,79.64 L436.44,83 L432.48,83 Z" fill="#fff" stroke="#2626dc" stroke-width="0.85" stroke-linejoin="round"/>
<path d="M447.62,101.82 L449.6,105.19 L445.64,105.19 Z" fill="#fff" stroke="#2626dc" stroke-width="0.85" stroke-linejoin="round"/>
<path d="M454.2,104.2 L456.18,107.57 L452.22,107.57 Z" fill="#fff" stroke="#2626dc" stroke-width="0.85" stroke-linejoin="round"/>
<path d="M289.7,73.76 L290.03,73.93 L290.36,74.12 L290.69,74.33 L291.02,74.57 L291.35,74.82 L291.68,75.09 L292.01,75.38 L292.34,75.68 L292.67,75.99 L293,76.3 L293.33,76.63 L293.66,76.96 L293.99,77.29 L294.32,77.63 L294.64,77.96 L294.97,78.29 L295.3,78.62 L295.63,78.94 L295.96,79.25 L296.29,79.55 L296.62,79.84 L296.95,80.12 L297.28,80.39 L297.61,80.65 L297.94,80.9 L298.27,81.15 L298.6,81.38 L298.93,81.61 L299.26,81.84 L299.59,82.06 L299.92,82.28 L300.25,82.5 L300.58,82.72 L300.91,82.93 L301.24,83.15 L301.57,83.37 L301.9,83.59 L302.23,83.82 L302.56,84.04 L302.89,84.28 L303.22,84.52 L303.55,84.76 L303.88,85.01 L304.21,85.27 L304.53,85.53 L304.86,85.8 L305.19,86.07 L305.52,86.35 L305.85,86.63 L306.18,86.92 L306.51,87.21 L306.84,87.51 L307.17,87.81 L307.5,88.12 L307.83,88.44 L308.16,88.76 L308.49,89.08 L308.82,89.41 L309.15,89.74 L309.48,90.08 L309.81,90.43 L310.14,90.78 L310.47,91.13 L310.8,91.48 L311.13,91.84 L311.46,92.19 L311.79,92.55 L312.12,92.91 L312.45,93.26 L312.78,93.62 L313.11,93.97 L313.44,94.31 L313.77,94.66 L314.09,94.99 L314.42,95.33 L314.75,95.65 L315.08,95.97 L315.41,96.28 L315.74,96.58 L316.07,96.87 L316.4,97.15 L316.73,97.42 L317.06,97.67 L317.39,97.92 L317.72,98.15 L318.05,98.36 L318.38,98.57 L318.71,98.75 L319.04,98.92 L319.37,99.07 L319.7,99.21 L320.03,99.32 L320.36,99.42 L320.69,99.5 L321.02,99.55 L321.35,99.59 L321.68,99.6 L322.01,99.59 L322.34,99.56 L322.67,99.5 L323,99.42 L323.33,99.31 L323.65,99.18 L323.98,99.03 L324.31,98.85 L324.64,98.64 L324.97,98.41 L325.3,98.15 L325.63,97.86 L325.96,97.55 L326.29,97.21 L326.62,96.84 L326.95,96.44 L327.28,96.02 L327.61,95.56 L327.94,95.08 L328.27,94.56 L328.6,94.02 L328.93,93.44 L329.26,92.84 L329.59,92.21 L329.92,91.56 L330.25,90.9 L330.58,90.23 L330.91,89.55 L331.24,88.88 L331.57,88.21 L331.9,87.55 L332.23,86.91 L332.56,86.29 L332.89,85.69 L333.22,85.13 L333.54,84.6 L333.87,84.1 L334.2,83.63 L334.53,83.18 L334.86,82.76 L335.19,82.35 L335.52,81.97 L335.85,81.61 L336.18,81.27 L336.51,80.94 L336.84,80.62 L337.17,80.32 L337.5,80.03 L337.83,79.74 L338.16,79.46 L338.49,79.18 L338.82,78.92 L339.15,78.66 L339.48,78.41 L339.81,78.17 L340.14,77.94 L340.47,77.73 L340.8,77.54 L341.13,77.37 L341.46,77.21 L341.79,77.07 L342.12,76.96 L342.45,76.87 L342.78,76.81 L343.1,76.76 L343.43,76.73 L343.76,76.71 L344.09,76.69 L344.42,76.69 L344.75,76.69 L345.08,76.68 L345.41,76.67 L345.74,76.66 L346.07,76.64 L346.4,76.6 L346.73,76.54 L347.06,76.47 L347.39,76.39 L347.72,76.3 L348.05,76.2 L348.38,76.09 L348.71,75.98 L349.04,75.86 L349.37,75.75 L349.7,75.64 L350.03,75.53 L350.36,75.43 L350.69,75.34 L351.02,75.26 L351.35,75.2 L351.68,75.15 L352.01,75.11 L352.34,75.08 L352.66,75.07 L352.99,75.07 L353.32,75.09 L353.65,75.12 L353.98,75.16 L354.31,75.21 L354.64,75.28 L354.97,75.37 L355.3,75.46 L355.63,75.57 L355.96,75.7 L356.29,75.84 L356.62,75.99 L356.95,76.15 L357.28,76.32 L357.61,76.5 L357.94,76.69 L358.27,76.89 L358.6,77.1 L358.93,77.31 L359.26,77.53 L359.59,77.76 L359.92,77.99 L360.25,78.22 L360.58,78.45 L360.91,78.69 L361.24,78.93 L361.57,79.17 L361.9,79.41 L362.23,79.64 L362.55,79.88 L362.88,80.12 L363.21,80.35 L363.54,80.58 L363.87,80.81 L364.2,81.05 L364.53,81.28 L364.86,81.51 L365.19,81.74 L365.52,81.98 L365.85,82.21 L366.18,82.45 L366.51,82.68 L366.84,82.92 L367.17,83.16 L367.5,83.4 L367.83,83.64 L368.16,83.89 L368.49,84.14 L368.82,84.39 L369.15,84.64 L369.48,84.9 L369.81,85.16 L370.14,85.42 L370.47,85.69 L370.8,85.96 L371.13,86.24 L371.46,86.52 L371.79,86.8 L372.11,87.08 L372.44,87.38 L372.77,87.67 L373.1,87.97 L373.43,88.28 L373.76,88.59 L374.09,88.9 L374.42,89.22 L374.75,89.55 L375.08,89.88 L375.41,90.22 L375.74,90.56 L376.07,90.91 L376.4,91.26 L376.73,91.61 L377.06,91.97 L377.39,92.32 L377.72,92.68 L378.05,93.03 L378.38,93.39 L378.71,93.74 L379.04,94.09 L379.37,94.44 L379.7,94.78 L380.03,95.12 L380.36,95.45 L380.69,95.77 L381.02,96.09 L381.35,96.39 L381.67,96.69 L382,96.98 L382.33,97.26 L382.66,97.52 L382.99,97.77 L383.32,98.01 L383.65,98.24 L383.98,98.45 L384.31,98.65 L384.64,98.82 L384.97,98.99 L385.3,99.13 L385.63,99.26 L385.96,99.37 L386.29,99.46 L386.62,99.52 L386.95,99.57 L387.28,99.6 L387.61,99.6 L387.94,99.58 L388.27,99.54 L388.6,99.47 L388.93,99.38 L389.26,99.26 L389.59,99.12 L389.92,98.96 L390.25,98.77 L390.58,98.55 L390.91,98.31 L391.24,98.04 L391.56,97.74 L391.89,97.42 L392.22,97.06 L392.55,96.68 L392.88,96.27 L393.21,95.84 L393.54,95.37 L393.87,94.87 L394.2,94.35 L394.53,93.79 L394.86,93.2 L395.19,92.59 L395.52,91.95 L395.85,91.3 L396.18,90.63 L396.51,89.96 L396.84,89.28 L397.17,88.61 L397.5,87.94 L397.83,87.29 L398.16,86.66 L398.49,86.05 L398.82,85.47 L399.15,84.92 L399.48,84.4 L399.81,83.91 L400.14,83.44 L400.47,83.01 L400.8,82.59 L401.12,82.2 L401.45,81.83 L401.78,81.47 L402.11,81.14 L402.44,80.81 L402.77,80.5 L403.1,80.2 L403.43,79.91 L403.76,79.63 L404.09,79.35 L404.42,79.08 L404.75,78.81 L405.08,78.55 L405.41,78.31 L405.74,78.08 L406.07,77.86 L406.4,77.65 L406.73,77.47 L407.06,77.3 L407.39,77.15 L407.72,77.03 L408.05,76.92 L408.38,76.84 L408.71,76.79 L409.04,76.74 L409.37,76.72 L409.7,76.7 L410.03,76.69 L410.36,76.69 L410.68,76.68 L411.01,76.68 L411.34,76.67 L411.67,76.65 L412,76.62 L412.33,76.58 L412.66,76.52 L412.99,76.44 L413.32,76.36 L413.65,76.26 L413.98,76.15 L414.31,76.04 L414.64,75.93 L414.97,75.82 L415.3,75.7 L415.63,75.59 L415.96,75.49 L416.29,75.39 L416.62,75.31 L416.95,75.24 L417.28,75.18 L417.61,75.13 L417.94,75.1 L418.27,75.08 L418.6,75.07 L418.93,75.08 L419.26,75.1 L419.59,75.13 L419.92,75.18 L420.25,75.24 L420.57,75.31 L420.9,75.4 L421.23,75.51 L421.56,75.62 L421.89,75.75 L422.22,75.9 L422.55,76.05 L422.88,76.22 L423.21,76.39 L423.54,76.58 L423.87,76.77 L424.2,76.97 L424.53,77.18 L424.86,77.4 L425.19,77.62 L425.52,77.85 L425.85,78.08 L426.18,78.31 L426.51,78.55 L426.84,78.79 L427.17,79.02 L427.5,79.26 L427.83,79.5 L428.16,79.74 L428.49,79.97 L428.82,80.21 L429.15,80.44 L429.48,80.68 L429.81,80.91 L430.13,81.14 L430.46,81.37 L430.79,81.6 L431.12,81.84 L431.45,82.07 L431.78,82.3 L432.11,82.54 L432.44,82.78 L432.77,83.01 L433.1,83.25 L433.43,83.5 L433.76,83.74 L434.09,83.99 L434.42,84.24 L434.75,84.49 L435.08,84.74 L435.41,85 L435.74,85.26 L436.07,85.53 L436.4,85.8 L436.73,86.07 L437.06,86.35 L437.39,86.63 L437.72,86.91 L438.05,87.2 L438.38,87.49 L438.71,87.79 L439.04,88.09 L439.37,88.4 L439.69,88.71 L440.02,89.03 L440.35,89.35 L440.68,89.68 L441.01,90.02 L441.34,90.35 L441.67,90.7 L442,91.05 L442.33,91.4 L442.66,91.75 L442.99,92.11 L443.32,92.46 L443.65,92.82 L443.98,93.18 L444.31,93.53 L444.64,93.88 L444.97,94.23 L445.3,94.58 L445.63,94.92 L445.96,95.25 L446.29,95.58 L446.62,95.9 L446.95,96.21 L447.28,96.51 L447.61,96.81 L447.94,97.09 L448.27,97.36 L448.6,97.62 L448.93,97.87 L449.26,98.11 L449.58,98.33 L449.91,98.53 L450.24,98.72 L450.57,98.89 L450.9,99.05 L451.23,99.19 L451.56,99.31 L451.89,99.41 L452.22,99.49 L452.55,99.55 L452.88,99.58 L453.21,99.6 L453.54,99.59 L453.87,99.56 L454.2,99.51" fill="none" stroke="#76cf76" stroke-width="1.3" stroke-linejoin="round"/>
<path d="M289.7,75.74 L291.68,72.37 L287.72,72.37 Z" fill="#fff" stroke="#76cf76" stroke-width="0.85" stroke-linejoin="round"/>
<path d="M302.86,86.24 L304.84,82.87 L300.88,82.87 Z" fill="#fff" stroke="#76cf76" stroke-width="0.85" stroke-linejoin="round"/>
<path d="M316.02,98.8 L318,95.44 L314.04,95.44 Z" fill="#fff" stroke="#76cf76" stroke-width="0.85" stroke-linejoin="round"/>
<path d="M329.18,94.97 L331.16,91.6 L327.2,91.6 Z" fill="#fff" stroke="#76cf76" stroke-width="0.85" stroke-linejoin="round"/>
<path d="M342.34,78.88 L344.32,75.51 L340.36,75.51 Z" fill="#fff" stroke="#76cf76" stroke-width="0.85" stroke-linejoin="round"/>
<path d="M355.5,77.51 L357.48,74.14 L353.52,74.14 Z" fill="#fff" stroke="#76cf76" stroke-width="0.85" stroke-linejoin="round"/>
<path d="M368.66,86.25 L370.64,82.88 L366.68,82.88 Z" fill="#fff" stroke="#76cf76" stroke-width="0.85" stroke-linejoin="round"/>
<path d="M381.82,98.8 L383.8,95.43 L379.84,95.43 Z" fill="#fff" stroke="#76cf76" stroke-width="0.85" stroke-linejoin="round"/>
<path d="M394.98,94.97 L396.96,91.6 L393,91.6 Z" fill="#fff" stroke="#76cf76" stroke-width="0.85" stroke-linejoin="round"/>
<path d="M408.14,78.88 L410.12,75.51 L406.16,75.51 Z" fill="#fff" stroke="#76cf76" stroke-width="0.85" stroke-linejoin="round"/>
<path d="M421.3,77.51 L423.28,74.14 L419.32,74.14 Z" fill="#fff" stroke="#76cf76" stroke-width="0.85" stroke-linejoin="round"/>
<path d="M434.46,86.25 L436.44,82.88 L432.48,82.88 Z" fill="#fff" stroke="#76cf76" stroke-width="0.85" stroke-linejoin="round"/>
<path d="M447.62,98.8 L449.6,95.43 L445.64,95.43 Z" fill="#fff" stroke="#76cf76" stroke-width="0.85" stroke-linejoin="round"/>
<path d="M454.2,101.49 L456.18,98.12 L452.22,98.12 Z" fill="#fff" stroke="#76cf76" stroke-width="0.85" stroke-linejoin="round"/>
<rect x="511.5" y="28.5" width="164" height="95" fill="none" stroke="#7c7c7c" stroke-width="1"/>
<path d="M511.5,123.5 v3 M527.5,123.5 v2 M543.5,123.5 v3 M560.5,123.5 v2 M576.5,123.5 v3 M593.5,123.5 v2 M609.5,123.5 v3 M625.5,123.5 v2 M642.5,123.5 v3 M658.5,123.5 v2 M675.5,123.5 v3 M511.5,35.5 h-3 M511.5,52.5 h-3 M511.5,69.5 h-3 M511.5,86.5 h-3 M511.5,103.5 h-3 M511.5,120.5 h-3" stroke="#7c7c7c" stroke-width="1" fill="none"/>
<text x="511" y="139" font-size="12.3" text-anchor="middle" fill="#1a1a1a">0</text>
<text x="543.84" y="139" font-size="12.3" text-anchor="middle" fill="#1a1a1a">2</text>
<text x="576.68" y="139" font-size="12.3" text-anchor="middle" fill="#1a1a1a">4</text>
<text x="609.52" y="139" font-size="12.3" text-anchor="middle" fill="#1a1a1a">6</text>
<text x="642.36" y="139" font-size="12.3" text-anchor="middle" fill="#1a1a1a">8</text>
<text x="675.2" y="139" font-size="12.3" text-anchor="middle" fill="#1a1a1a">10</text>
<text x="503.8" y="38.5" font-size="11.6" text-anchor="end" fill="#1a1a1a">15</text>
<text x="503.8" y="55.6" font-size="11.6" text-anchor="end" fill="#1a1a1a">10</text>
<text x="503.8" y="72.7" font-size="11.6" text-anchor="end" fill="#1a1a1a">5</text>
<text x="503.8" y="89.8" font-size="11.6" text-anchor="end" fill="#1a1a1a">0</text>
<text x="503.8" y="106.9" font-size="11.6" text-anchor="end" fill="#1a1a1a">-5</text>
<text x="503.8" y="124" font-size="11.6" text-anchor="end" fill="#1a1a1a">-10</text>
<text x="486.7" y="78.9" font-size="12.4" text-anchor="middle" fill="#1a1a1a" transform="rotate(-90 486.7 78.9)">Force(N)</text>
<text x="597.3" y="154.8" font-size="12.6" text-anchor="middle" fill="#1a1a1a">simulation time(s)</text>
<text x="597.5" y="168.2" font-size="12" text-anchor="middle" fill="#1a1a1a">(c)</text>
<path d="M511,81.95 L511.33,77.67 L511.66,74.42 L511.99,72.24 L512.32,71.18 L512.65,71.19 L512.97,71.91 L513.3,72.89 L513.63,73.91 L513.96,74.96 L514.29,76.04 L514.62,77.16 L514.95,78.32 L515.28,79.5 L515.61,80.72 L515.94,81.96 L516.26,83.2 L516.59,84.45 L516.92,85.68 L517.25,86.88 L517.58,88.06 L517.91,89.18 L518.24,90.26 L518.57,91.29 L518.9,92.28 L519.23,93.26 L519.56,94.23 L519.88,95.2 L520.21,96.18 L520.54,97.17 L520.87,98.15 L521.2,99.09 L521.53,99.99 L521.86,100.82 L522.19,101.56 L522.52,102.23 L522.85,102.85 L523.18,103.43 L523.5,103.99 L523.83,104.54 L524.16,105.1 L524.49,105.68 L524.82,106.3 L525.15,106.98 L525.48,107.72 L525.81,108.49 L526.14,109.29 L526.47,110.11 L526.79,110.92 L527.12,111.71 L527.45,112.47 L527.78,113.18 L528.11,113.84 L528.44,114.45 L528.77,114.99 L529.1,115.46 L529.43,115.85 L529.76,116.17 L530.09,116.43 L530.41,116.63 L530.74,116.8 L531.07,116.94 L531.4,117.07 L531.73,117.21 L532.06,117.36 L532.39,117.55 L532.72,117.77 L533.05,118.03 L533.38,118.31 L533.71,118.6 L534.03,118.89 L534.36,119.17 L534.69,119.43 L535.02,119.66 L535.35,119.85 L535.68,119.98 L536.01,120.05 L536.34,120.05 L536.67,119.97 L537,119.79 L537.32,119.52 L537.65,119.17 L537.98,118.74 L538.31,118.24 L538.64,117.69 L538.97,117.09 L539.3,116.44 L539.63,115.77 L539.96,115.07 L540.29,114.35 L540.62,113.63 L540.94,112.9 L541.27,112.17 L541.6,111.43 L541.93,110.66 L542.26,109.87 L542.59,109.05 L542.92,108.2 L543.25,107.3 L543.58,106.35 L543.91,105.35 L544.23,104.28 L544.56,103.15 L544.89,101.94 L545.22,100.64 L545.55,99.26 L545.88,97.77 L546.21,96.17 L546.54,94.45 L546.87,92.61 L547.2,90.63 L547.53,88.52 L547.85,86.25 L548.18,83.85 L548.51,81.32 L548.84,78.68 L549.17,75.94 L549.5,73.13 L549.83,70.26 L550.16,67.33 L550.49,64.38 L550.82,61.41 L551.15,58.44 L551.47,55.49 L551.8,52.58 L552.13,49.73 L552.46,46.98 L552.79,44.42 L553.12,42.1 L553.45,40.09 L553.78,38.42 L554.11,37.05 L554.44,35.93 L554.76,35 L555.09,34.22 L555.42,33.54 L555.75,32.96 L556.08,32.48 L556.41,32.09 L556.74,31.81 L557.07,31.61 L557.4,31.51 L557.73,31.5 L558.06,31.58 L558.38,31.73 L558.71,31.96 L559.04,32.26 L559.37,32.6 L559.7,32.99 L560.03,33.42 L560.36,33.87 L560.69,34.35 L561.02,34.85 L561.35,35.4 L561.67,36 L562,36.65 L562.33,37.37 L562.66,38.16 L562.99,39.03 L563.32,40 L563.65,41.05 L563.98,42.2 L564.31,43.42 L564.64,44.73 L564.97,46.12 L565.29,47.59 L565.62,49.13 L565.95,50.75 L566.28,52.43 L566.61,54.17 L566.94,55.95 L567.27,57.75 L567.6,59.54 L567.93,61.29 L568.26,62.99 L568.59,64.62 L568.91,66.15 L569.24,67.54 L569.57,68.78 L569.9,69.81 L570.23,70.63 L570.56,71.18 L570.89,71.46 L571.22,71.5 L571.55,71.31 L571.88,70.92 L572.2,70.36 L572.53,69.65 L572.86,68.81 L573.19,67.87 L573.52,66.85 L573.85,65.79 L574.18,64.7 L574.51,63.61 L574.84,62.56 L575.17,61.58 L575.5,60.69 L575.82,59.92 L576.15,59.3 L576.48,58.86 L576.81,58.63 L577.14,58.62 L577.47,58.82 L577.8,59.21 L578.13,59.78 L578.46,60.51 L578.79,61.39 L579.12,62.42 L579.44,63.56 L579.77,64.82 L580.1,66.17 L580.43,67.61 L580.76,69.11 L581.09,70.67 L581.42,72.27 L581.75,73.9 L582.08,75.54 L582.41,77.17 L582.73,78.8 L583.06,80.39 L583.39,81.95 L583.72,83.45 L584.05,84.91 L584.38,86.32 L584.71,87.69 L585.04,89.01 L585.37,90.3 L585.7,91.54 L586.03,92.75 L586.35,93.92 L586.68,95.05 L587.01,96.15 L587.34,97.22 L587.67,98.27 L588,99.28 L588.33,100.27 L588.66,101.23 L588.99,102.17 L589.32,103.08 L589.64,103.98 L589.97,104.86 L590.3,105.72 L590.63,106.57 L590.96,107.4 L591.29,108.22 L591.62,109.02 L591.95,109.8 L592.28,110.57 L592.61,111.31 L592.94,112.04 L593.26,112.74 L593.59,113.41 L593.92,114.05 L594.25,114.63 L594.58,115.16 L594.91,115.62 L595.24,115.99 L595.57,116.29 L595.9,116.53 L596.23,116.72 L596.56,116.87 L596.88,117.01 L597.21,117.14 L597.54,117.27 L597.87,117.43 L598.2,117.63 L598.53,117.87 L598.86,118.13 L599.19,118.42 L599.52,118.71 L599.85,119 L600.17,119.27 L600.5,119.52 L600.83,119.73 L601.16,119.9 L601.49,120.01 L601.82,120.06 L602.15,120.03 L602.48,119.91 L602.81,119.69 L603.14,119.39 L603.47,119 L603.79,118.55 L604.12,118.03 L604.45,117.46 L604.78,116.84 L605.11,116.18 L605.44,115.49 L605.77,114.78 L606.1,114.06 L606.43,113.34 L606.76,112.61 L607.08,111.88 L607.41,111.12 L607.74,110.35 L608.07,109.55 L608.4,108.72 L608.73,107.84 L609.06,106.92 L609.39,105.96 L609.72,104.93 L610.05,103.84 L610.38,102.68 L610.7,101.43 L611.03,100.1 L611.36,98.67 L611.69,97.14 L612.02,95.5 L612.35,93.73 L612.68,91.84 L613.01,89.8 L613.34,87.63 L613.67,85.31 L614,82.85 L614.32,80.27 L614.65,77.59 L614.98,74.83 L615.31,71.99 L615.64,69.09 L615.97,66.15 L616.3,63.19 L616.63,60.22 L616.96,57.26 L617.29,54.32 L617.61,51.43 L617.94,48.61 L618.27,45.93 L618.6,43.46 L618.93,41.25 L619.26,39.38 L619.59,37.84 L619.92,36.58 L620.25,35.54 L620.58,34.67 L620.91,33.93 L621.23,33.29 L621.56,32.75 L621.89,32.31 L622.22,31.97 L622.55,31.72 L622.88,31.56 L623.21,31.5 L623.54,31.52 L623.87,31.63 L624.2,31.82 L624.53,32.07 L624.85,32.39 L625.18,32.75 L625.51,33.16 L625.84,33.6 L626.17,34.06 L626.5,34.55 L626.83,35.07 L627.16,35.63 L627.49,36.25 L627.82,36.93 L628.14,37.68 L628.47,38.5 L628.8,39.41 L629.13,40.41 L629.46,41.5 L629.79,42.68 L630.12,43.94 L630.45,45.28 L630.78,46.7 L631.11,48.2 L631.44,49.77 L631.76,51.41 L632.09,53.12 L632.42,54.88 L632.75,56.67 L633.08,58.47 L633.41,60.24 L633.74,61.98 L634.07,63.65 L634.4,65.24 L634.73,66.72 L635.05,68.06 L635.38,69.22 L635.71,70.17 L636.04,70.88 L636.37,71.32 L636.7,71.5 L637.03,71.45 L637.36,71.18 L637.69,70.72 L638.02,70.09 L638.35,69.33 L638.67,68.45 L639,67.47 L639.33,66.43 L639.66,65.35 L639.99,64.26 L640.32,63.19 L640.65,62.16 L640.98,61.21 L641.31,60.36 L641.64,59.65 L641.97,59.1 L642.29,58.74 L642.62,58.6 L642.95,58.68 L643.28,58.95 L643.61,59.41 L643.94,60.05 L644.27,60.85 L644.6,61.79 L644.93,62.86 L645.26,64.05 L645.58,65.35 L645.91,66.74 L646.24,68.2 L646.57,69.73 L646.9,71.31 L647.23,72.92 L647.56,74.55 L647.89,76.19 L648.22,77.83 L648.55,79.44 L648.88,81.02 L649.2,82.56 L649.53,84.04 L649.86,85.48 L650.19,86.87 L650.52,88.22 L650.85,89.53 L651.18,90.8 L651.51,92.03 L651.84,93.22 L652.17,94.37 L652.49,95.5 L652.82,96.59 L653.15,97.64 L653.48,98.67 L653.81,99.68 L654.14,100.65 L654.47,101.61 L654.8,102.53 L655.13,103.44 L655.46,104.33 L655.79,105.2 L656.11,106.06 L656.44,106.9 L656.77,107.73 L657.1,108.54 L657.43,109.33 L657.76,110.11 L658.09,110.87 L658.42,111.61 L658.75,112.32 L659.08,113.01 L659.41,113.67 L659.73,114.29 L660.06,114.85 L660.39,115.35 L660.72,115.78 L661.05,116.12 L661.38,116.4 L661.71,116.61 L662.04,116.78 L662.37,116.93 L662.7,117.06 L663.02,117.19 L663.35,117.33 L663.68,117.51 L664.01,117.72 L664.34,117.97 L664.67,118.25 L665,118.53 L665.33,118.82 L665.66,119.11 L665.99,119.37 L666.32,119.61 L666.64,119.81 L666.97,119.95 L667.3,120.04 L667.63,120.06 L667.96,119.99 L668.29,119.83 L668.62,119.58 L668.95,119.24 L669.28,118.83 L669.61,118.35 L669.94,117.81 L670.26,117.21 L670.59,116.58 L670.92,115.91 L671.25,115.21 L671.58,114.5 L671.91,113.77 L672.24,113.05 L672.57,112.32 L672.9,111.58 L673.23,110.82 L673.55,110.03 L673.88,109.22 L674.21,108.37 L674.54,107.48 L674.87,106.54 L675.2,105.55" fill="none" stroke="#e23c42" stroke-width="1.3" stroke-linejoin="round"/>
<circle cx="511" cy="81.95" r="1.65" fill="#fff" stroke="#e23c42" stroke-width="0.85"/>
<circle cx="524.05" cy="104.91" r="1.65" fill="#fff" stroke="#e23c42" stroke-width="0.85"/>
<circle cx="537.11" cy="119.71" r="1.65" fill="#fff" stroke="#e23c42" stroke-width="0.85"/>
<circle cx="550.16" cy="67.3" r="1.65" fill="#fff" stroke="#e23c42" stroke-width="0.85"/>
<circle cx="563.22" cy="39.68" r="1.65" fill="#fff" stroke="#e23c42" stroke-width="0.85"/>
<circle cx="576.27" cy="59.12" r="1.65" fill="#fff" stroke="#e23c42" stroke-width="0.85"/>
<circle cx="589.32" cy="103.1" r="1.65" fill="#fff" stroke="#e23c42" stroke-width="0.85"/>
<circle cx="602.38" cy="119.95" r="1.65" fill="#fff" stroke="#e23c42" stroke-width="0.85"/>
<circle cx="615.43" cy="70.94" r="1.65" fill="#fff" stroke="#e23c42" stroke-width="0.85"/>
<circle cx="628.49" cy="38.53" r="1.65" fill="#fff" stroke="#e23c42" stroke-width="0.85"/>
<circle cx="641.54" cy="59.85" r="1.65" fill="#fff" stroke="#e23c42" stroke-width="0.85"/>
<circle cx="654.59" cy="101.96" r="1.65" fill="#fff" stroke="#e23c42" stroke-width="0.85"/>
<circle cx="667.65" cy="120.05" r="1.65" fill="#fff" stroke="#e23c42" stroke-width="0.85"/>
<circle cx="675.2" cy="105.55" r="1.65" fill="#fff" stroke="#e23c42" stroke-width="0.85"/>
<path d="M511,86.4 L511.33,86.82 L511.66,87.38 L511.99,88.05 L512.32,88.81 L512.65,89.65 L512.97,90.55 L513.3,91.48 L513.63,92.44 L513.96,93.39 L514.29,94.32 L514.62,95.22 L514.95,96.06 L515.28,96.82 L515.61,97.49 L515.94,98.04 L516.26,98.47 L516.59,98.78 L516.92,99 L517.25,99.14 L517.58,99.23 L517.91,99.27 L518.24,99.29 L518.57,99.3 L518.9,99.34 L519.23,99.4 L519.56,99.51 L519.88,99.67 L520.21,99.87 L520.54,100.11 L520.87,100.38 L521.2,100.69 L521.53,101.02 L521.86,101.37 L522.19,101.74 L522.52,102.12 L522.85,102.52 L523.18,102.92 L523.5,103.33 L523.83,103.73 L524.16,104.13 L524.49,104.52 L524.82,104.89 L525.15,105.25 L525.48,105.58 L525.81,105.89 L526.14,106.17 L526.47,106.4 L526.79,106.6 L527.12,106.76 L527.45,106.86 L527.78,106.91 L528.11,106.91 L528.44,106.85 L528.77,106.74 L529.1,106.58 L529.43,106.39 L529.76,106.16 L530.09,105.9 L530.41,105.62 L530.74,105.32 L531.07,105.01 L531.4,104.69 L531.73,104.37 L532.06,104.06 L532.39,103.75 L532.72,103.46 L533.05,103.19 L533.38,102.94 L533.71,102.7 L534.03,102.47 L534.36,102.26 L534.69,102.05 L535.02,101.85 L535.35,101.65 L535.68,101.45 L536.01,101.25 L536.34,101.05 L536.67,100.84 L537,100.62 L537.32,100.39 L537.65,100.14 L537.98,99.88 L538.31,99.6 L538.64,99.29 L538.97,98.96 L539.3,98.6 L539.63,98.21 L539.96,97.79 L540.29,97.32 L540.62,96.82 L540.94,96.27 L541.27,95.68 L541.6,95.03 L541.93,94.34 L542.26,93.59 L542.59,92.78 L542.92,91.91 L543.25,90.98 L543.58,89.98 L543.91,88.92 L544.23,87.78 L544.56,86.58 L544.89,85.32 L545.22,84.01 L545.55,82.65 L545.88,81.26 L546.21,79.83 L546.54,78.38 L546.87,76.91 L547.2,75.43 L547.53,73.94 L547.85,72.45 L548.18,70.96 L548.51,69.49 L548.84,68.04 L549.17,66.61 L549.5,65.21 L549.83,63.85 L550.16,62.54 L550.49,61.28 L550.82,60.08 L551.15,58.95 L551.47,57.9 L551.8,56.93 L552.13,56.06 L552.46,55.28 L552.79,54.62 L553.12,54.08 L553.45,53.66 L553.78,53.38 L554.11,53.23 L554.44,53.24 L554.76,53.4 L555.09,53.7 L555.42,54.12 L555.75,54.65 L556.08,55.27 L556.41,55.96 L556.74,56.72 L557.07,57.53 L557.4,58.36 L557.73,59.22 L558.06,60.07 L558.38,60.92 L558.71,61.73 L559.04,62.53 L559.37,63.3 L559.7,64.06 L560.03,64.81 L560.36,65.57 L560.69,66.34 L561.02,67.12 L561.35,67.92 L561.67,68.76 L562,69.63 L562.33,70.54 L562.66,71.5 L562.99,72.53 L563.32,73.61 L563.65,74.75 L563.98,75.93 L564.31,77.14 L564.64,78.38 L564.97,79.61 L565.29,80.84 L565.62,82.05 L565.95,83.23 L566.28,84.36 L566.61,85.44 L566.94,86.44 L567.27,87.37 L567.6,88.2 L567.93,88.92 L568.26,89.52 L568.59,89.99 L568.91,90.32 L569.24,90.49 L569.57,90.5 L569.9,90.35 L570.23,90.06 L570.56,89.65 L570.89,89.15 L571.22,88.56 L571.55,87.91 L571.88,87.22 L572.2,86.5 L572.53,85.77 L572.86,85.06 L573.19,84.37 L573.52,83.74 L573.85,83.17 L574.18,82.68 L574.51,82.3 L574.84,82.04 L575.17,81.93 L575.5,81.95 L575.82,82.11 L576.15,82.37 L576.48,82.73 L576.81,83.16 L577.14,83.66 L577.47,84.21 L577.8,84.81 L578.13,85.46 L578.46,86.15 L578.79,86.86 L579.12,87.61 L579.44,88.37 L579.77,89.14 L580.1,89.92 L580.43,90.7 L580.76,91.47 L581.09,92.23 L581.42,92.98 L581.75,93.71 L582.08,94.42 L582.41,95.11 L582.73,95.78 L583.06,96.42 L583.39,97.03 L583.72,97.61 L584.05,98.16 L584.38,98.67 L584.71,99.15 L585.04,99.59 L585.37,99.99 L585.7,100.36 L586.03,100.69 L586.35,101.01 L586.68,101.3 L587.01,101.58 L587.34,101.85 L587.67,102.11 L588,102.37 L588.33,102.64 L588.66,102.91 L588.99,103.19 L589.32,103.49 L589.64,103.81 L589.97,104.15 L590.3,104.49 L590.63,104.84 L590.96,105.18 L591.29,105.51 L591.62,105.82 L591.95,106.11 L592.28,106.36 L592.61,106.57 L592.94,106.74 L593.26,106.86 L593.59,106.92 L593.92,106.92 L594.25,106.85 L594.58,106.73 L594.91,106.57 L595.24,106.36 L595.57,106.12 L595.9,105.85 L596.23,105.55 L596.56,105.24 L596.88,104.92 L597.21,104.59 L597.54,104.27 L597.87,103.94 L598.2,103.64 L598.53,103.35 L598.86,103.08 L599.19,102.83 L599.52,102.6 L599.85,102.37 L600.17,102.16 L600.5,101.96 L600.83,101.76 L601.16,101.56 L601.49,101.37 L601.82,101.17 L602.15,100.96 L602.48,100.75 L602.81,100.53 L603.14,100.3 L603.47,100.05 L603.79,99.78 L604.12,99.49 L604.45,99.17 L604.78,98.83 L605.11,98.46 L605.44,98.05 L605.77,97.61 L606.1,97.13 L606.43,96.61 L606.76,96.05 L607.08,95.43 L607.41,94.77 L607.74,94.05 L608.07,93.28 L608.4,92.44 L608.73,91.55 L609.06,90.59 L609.39,89.57 L609.72,88.47 L610.05,87.31 L610.38,86.08 L610.7,84.8 L611.03,83.47 L611.36,82.1 L611.69,80.69 L612.02,79.25 L612.35,77.79 L612.68,76.32 L613.01,74.83 L613.34,73.34 L613.67,71.85 L614,70.37 L614.32,68.9 L614.65,67.46 L614.98,66.04 L615.31,64.66 L615.64,63.32 L615.97,62.03 L616.3,60.79 L616.63,59.62 L616.96,58.52 L617.29,57.5 L617.61,56.57 L617.94,55.74 L618.27,55.01 L618.6,54.39 L618.93,53.9 L619.26,53.53 L619.59,53.3 L619.92,53.22 L620.25,53.29 L620.58,53.51 L620.91,53.85 L621.23,54.32 L621.56,54.88 L621.89,55.54 L622.22,56.26 L622.55,57.04 L622.88,57.86 L623.21,58.7 L623.54,59.56 L623.87,60.41 L624.2,61.25 L624.53,62.05 L624.85,62.84 L625.18,63.6 L625.51,64.36 L625.84,65.12 L626.17,65.88 L626.5,66.65 L626.83,67.44 L627.16,68.25 L627.49,69.1 L627.82,69.99 L628.14,70.92 L628.47,71.91 L628.8,72.95 L629.13,74.06 L629.46,75.22 L629.79,76.41 L630.12,77.64 L630.45,78.87 L630.78,80.1 L631.11,81.33 L631.44,82.52 L631.76,83.69 L632.09,84.8 L632.42,85.85 L632.75,86.82 L633.08,87.71 L633.41,88.5 L633.74,89.18 L634.07,89.73 L634.4,90.14 L634.73,90.41 L635.05,90.51 L635.38,90.46 L635.71,90.25 L636.04,89.91 L636.37,89.46 L636.7,88.92 L637.03,88.31 L637.36,87.64 L637.69,86.93 L638.02,86.21 L638.35,85.49 L638.67,84.78 L639,84.11 L639.33,83.5 L639.66,82.96 L639.99,82.52 L640.32,82.18 L640.65,81.98 L640.98,81.92 L641.31,82 L641.64,82.2 L641.97,82.5 L642.29,82.89 L642.62,83.35 L642.95,83.87 L643.28,84.45 L643.61,85.07 L643.94,85.73 L644.27,86.43 L644.6,87.16 L644.93,87.91 L645.26,88.67 L645.58,89.45 L645.91,90.23 L646.24,91.01 L646.57,91.78 L646.9,92.53 L647.23,93.28 L647.56,94 L647.89,94.7 L648.22,95.38 L648.55,96.04 L648.88,96.66 L649.2,97.26 L649.53,97.83 L649.86,98.37 L650.19,98.87 L650.52,99.33 L650.85,99.75 L651.18,100.14 L651.51,100.49 L651.84,100.82 L652.17,101.13 L652.49,101.42 L652.82,101.69 L653.15,101.95 L653.48,102.22 L653.81,102.48 L654.14,102.74 L654.47,103.02 L654.8,103.31 L655.13,103.62 L655.46,103.95 L655.79,104.29 L656.11,104.63 L656.44,104.98 L656.77,105.31 L657.1,105.64 L657.43,105.94 L657.76,106.21 L658.09,106.45 L658.42,106.65 L658.75,106.8 L659.08,106.89 L659.41,106.93 L659.73,106.9 L660.06,106.81 L660.39,106.67 L660.72,106.49 L661.05,106.27 L661.38,106.02 L661.71,105.73 L662.04,105.43 L662.37,105.12 L662.7,104.79 L663.02,104.46 L663.35,104.14 L663.68,103.82 L664.01,103.52 L664.34,103.24 L664.67,102.98 L665,102.73 L665.33,102.5 L665.66,102.29 L665.99,102.08 L666.32,101.87 L666.64,101.68 L666.97,101.48 L667.3,101.28 L667.63,101.08 L667.96,100.88 L668.29,100.67 L668.62,100.44 L668.95,100.2 L669.28,99.95 L669.61,99.67 L669.94,99.37 L670.26,99.05 L670.59,98.7 L670.92,98.31 L671.25,97.9 L671.58,97.44 L671.91,96.94 L672.24,96.41 L672.57,95.82 L672.9,95.19 L673.23,94.5 L673.55,93.76 L673.88,92.96 L674.21,92.11 L674.54,91.18 L674.87,90.19 L675.2,89.14" fill="none" stroke="#2626dc" stroke-width="1.3" stroke-linejoin="round"/>
<path d="M511,84.42 L512.98,87.79 L509.02,87.79 Z" fill="#fff" stroke="#2626dc" stroke-width="0.85" stroke-linejoin="round"/>
<path d="M524.05,102.02 L526.03,105.39 L522.07,105.39 Z" fill="#fff" stroke="#2626dc" stroke-width="0.85" stroke-linejoin="round"/>
<path d="M537.11,98.56 L539.09,101.93 L535.13,101.93 Z" fill="#fff" stroke="#2626dc" stroke-width="0.85" stroke-linejoin="round"/>
<path d="M550.16,60.55 L552.14,63.91 L548.18,63.91 Z" fill="#fff" stroke="#2626dc" stroke-width="0.85" stroke-linejoin="round"/>
<path d="M563.22,71.28 L565.2,74.65 L561.24,74.65 Z" fill="#fff" stroke="#2626dc" stroke-width="0.85" stroke-linejoin="round"/>
<path d="M576.27,80.51 L578.25,83.87 L574.29,83.87 Z" fill="#fff" stroke="#2626dc" stroke-width="0.85" stroke-linejoin="round"/>
<path d="M589.32,101.52 L591.3,104.89 L587.34,104.89 Z" fill="#fff" stroke="#2626dc" stroke-width="0.85" stroke-linejoin="round"/>
<path d="M602.38,98.84 L604.36,102.2 L600.4,102.2 Z" fill="#fff" stroke="#2626dc" stroke-width="0.85" stroke-linejoin="round"/>
<path d="M615.43,62.19 L617.41,65.56 L613.45,65.56 Z" fill="#fff" stroke="#2626dc" stroke-width="0.85" stroke-linejoin="round"/>
<path d="M628.49,69.96 L630.47,73.33 L626.51,73.33 Z" fill="#fff" stroke="#2626dc" stroke-width="0.85" stroke-linejoin="round"/>
<path d="M641.54,80.15 L643.52,83.51 L639.56,83.51 Z" fill="#fff" stroke="#2626dc" stroke-width="0.85" stroke-linejoin="round"/>
<path d="M654.59,101.15 L656.57,104.51 L652.61,104.51 Z" fill="#fff" stroke="#2626dc" stroke-width="0.85" stroke-linejoin="round"/>
<path d="M667.65,99.1 L669.63,102.46 L665.67,102.46 Z" fill="#fff" stroke="#2626dc" stroke-width="0.85" stroke-linejoin="round"/>
<path d="M675.2,87.16 L677.18,90.52 L673.22,90.52 Z" fill="#fff" stroke="#2626dc" stroke-width="0.85" stroke-linejoin="round"/>
<path d="M511,84.11 L511.33,83.81 L511.66,83.67 L511.99,83.66 L512.32,83.79 L512.65,84.03 L512.97,84.37 L513.3,84.79 L513.63,85.28 L513.96,85.82 L514.29,86.41 L514.62,87.03 L514.95,87.66 L515.28,88.31 L515.61,88.97 L515.94,89.63 L516.26,90.28 L516.59,90.91 L516.92,91.53 L517.25,92.12 L517.58,92.68 L517.91,93.2 L518.24,93.67 L518.57,94.09 L518.9,94.46 L519.23,94.76 L519.56,95 L519.88,95.2 L520.21,95.36 L520.54,95.47 L520.87,95.55 L521.2,95.61 L521.53,95.64 L521.86,95.65 L522.19,95.65 L522.52,95.64 L522.85,95.62 L523.18,95.61 L523.5,95.61 L523.83,95.62 L524.16,95.65 L524.49,95.7 L524.82,95.76 L525.15,95.83 L525.48,95.91 L525.81,95.99 L526.14,96.07 L526.47,96.15 L526.79,96.21 L527.12,96.27 L527.45,96.3 L527.78,96.32 L528.11,96.31 L528.44,96.28 L528.77,96.23 L529.1,96.17 L529.43,96.08 L529.76,95.99 L530.09,95.88 L530.41,95.76 L530.74,95.63 L531.07,95.5 L531.4,95.36 L531.73,95.22 L532.06,95.07 L532.39,94.93 L532.72,94.79 L533.05,94.65 L533.38,94.52 L533.71,94.38 L534.03,94.24 L534.36,94.1 L534.69,93.96 L535.02,93.81 L535.35,93.65 L535.68,93.49 L536.01,93.33 L536.34,93.15 L536.67,92.96 L537,92.77 L537.32,92.56 L537.65,92.34 L537.98,92.11 L538.31,91.87 L538.64,91.61 L538.97,91.33 L539.3,91.04 L539.63,90.74 L539.96,90.41 L540.29,90.07 L540.62,89.71 L540.94,89.32 L541.27,88.92 L541.6,88.5 L541.93,88.05 L542.26,87.58 L542.59,87.09 L542.92,86.57 L543.25,86.04 L543.58,85.49 L543.91,84.93 L544.23,84.35 L544.56,83.76 L544.89,83.16 L545.22,82.54 L545.55,81.93 L545.88,81.3 L546.21,80.67 L546.54,80.04 L546.87,79.41 L547.2,78.78 L547.53,78.15 L547.85,77.52 L548.18,76.91 L548.51,76.29 L548.84,75.69 L549.17,75.1 L549.5,74.52 L549.83,73.96 L550.16,73.41 L550.49,72.88 L550.82,72.37 L551.15,71.89 L551.47,71.44 L551.8,71.02 L552.13,70.64 L552.46,70.3 L552.79,70 L553.12,69.75 L553.45,69.55 L553.78,69.4 L554.11,69.29 L554.44,69.23 L554.76,69.22 L555.09,69.24 L555.42,69.31 L555.75,69.42 L556.08,69.57 L556.41,69.76 L556.74,69.99 L557.07,70.25 L557.4,70.54 L557.73,70.87 L558.06,71.24 L558.38,71.63 L558.71,72.06 L559.04,72.51 L559.37,72.99 L559.7,73.5 L560.03,74.03 L560.36,74.59 L560.69,75.17 L561.02,75.77 L561.35,76.39 L561.67,77.03 L562,77.69 L562.33,78.37 L562.66,79.06 L562.99,79.77 L563.32,80.49 L563.65,81.22 L563.98,81.95 L564.31,82.68 L564.64,83.41 L564.97,84.12 L565.29,84.81 L565.62,85.48 L565.95,86.12 L566.28,86.72 L566.61,87.29 L566.94,87.81 L567.27,88.28 L567.6,88.69 L567.93,89.05 L568.26,89.33 L568.59,89.54 L568.91,89.68 L569.24,89.76 L569.57,89.76 L569.9,89.72 L570.23,89.62 L570.56,89.47 L570.89,89.28 L571.22,89.06 L571.55,88.81 L571.88,88.54 L572.2,88.25 L572.53,87.94 L572.86,87.63 L573.19,87.32 L573.52,87.01 L573.85,86.72 L574.18,86.43 L574.51,86.17 L574.84,85.94 L575.17,85.74 L575.5,85.57 L575.82,85.45 L576.15,85.38 L576.48,85.36 L576.81,85.39 L577.14,85.48 L577.47,85.6 L577.8,85.77 L578.13,85.98 L578.46,86.22 L578.79,86.49 L579.12,86.79 L579.44,87.12 L579.77,87.47 L580.1,87.83 L580.43,88.21 L580.76,88.6 L581.09,88.99 L581.42,89.39 L581.75,89.79 L582.08,90.19 L582.41,90.58 L582.73,90.96 L583.06,91.33 L583.39,91.68 L583.72,92.02 L584.05,92.33 L584.38,92.63 L584.71,92.91 L585.04,93.18 L585.37,93.43 L585.7,93.66 L586.03,93.89 L586.35,94.1 L586.68,94.29 L587.01,94.48 L587.34,94.66 L587.67,94.82 L588,94.98 L588.33,95.12 L588.66,95.26 L588.99,95.39 L589.32,95.51 L589.64,95.63 L589.97,95.74 L590.3,95.85 L590.63,95.95 L590.96,96.03 L591.29,96.11 L591.62,96.18 L591.95,96.24 L592.28,96.28 L592.61,96.31 L592.94,96.33 L593.26,96.32 L593.59,96.31 L593.92,96.27 L594.25,96.22 L594.58,96.16 L594.91,96.08 L595.24,95.99 L595.57,95.89 L595.9,95.78 L596.23,95.66 L596.56,95.54 L596.88,95.41 L597.21,95.28 L597.54,95.15 L597.87,95.01 L598.2,94.88 L598.53,94.75 L598.86,94.61 L599.19,94.48 L599.52,94.34 L599.85,94.2 L600.17,94.06 L600.5,93.91 L600.83,93.76 L601.16,93.6 L601.49,93.43 L601.82,93.26 L602.15,93.08 L602.48,92.89 L602.81,92.69 L603.14,92.47 L603.47,92.25 L603.79,92.01 L604.12,91.76 L604.45,91.49 L604.78,91.21 L605.11,90.92 L605.44,90.6 L605.77,90.27 L606.1,89.92 L606.43,89.55 L606.76,89.16 L607.08,88.75 L607.41,88.32 L607.74,87.86 L608.07,87.38 L608.4,86.88 L608.73,86.36 L609.06,85.83 L609.39,85.27 L609.72,84.7 L610.05,84.12 L610.38,83.52 L610.7,82.91 L611.03,82.3 L611.36,81.68 L611.69,81.05 L612.02,80.42 L612.35,79.79 L612.68,79.16 L613.01,78.53 L613.34,77.9 L613.67,77.28 L614,76.66 L614.32,76.05 L614.65,75.45 L614.98,74.87 L615.31,74.29 L615.64,73.73 L615.97,73.19 L616.3,72.67 L616.63,72.17 L616.96,71.71 L617.29,71.27 L617.61,70.86 L617.94,70.5 L618.27,70.18 L618.6,69.9 L618.93,69.67 L619.26,69.49 L619.59,69.35 L619.92,69.26 L620.25,69.22 L620.58,69.22 L620.91,69.27 L621.23,69.35 L621.56,69.48 L621.89,69.64 L622.22,69.85 L622.55,70.09 L622.88,70.36 L623.21,70.67 L623.54,71.02 L623.87,71.39 L624.2,71.8 L624.53,72.23 L624.85,72.7 L625.18,73.19 L625.51,73.71 L625.84,74.25 L626.17,74.82 L626.5,75.41 L626.83,76.02 L627.16,76.65 L627.49,77.3 L627.82,77.96 L628.14,78.65 L628.47,79.34 L628.8,80.06 L629.13,80.78 L629.46,81.51 L629.79,82.25 L630.12,82.98 L630.45,83.69 L630.78,84.4 L631.11,85.08 L631.44,85.74 L631.76,86.37 L632.09,86.96 L632.42,87.5 L632.75,88 L633.08,88.45 L633.41,88.84 L633.74,89.17 L634.07,89.43 L634.4,89.61 L634.73,89.72 L635.05,89.77 L635.38,89.75 L635.71,89.68 L636.04,89.56 L636.37,89.4 L636.7,89.2 L637.03,88.97 L637.36,88.71 L637.69,88.42 L638.02,88.13 L638.35,87.82 L638.67,87.51 L639,87.2 L639.33,86.89 L639.66,86.6 L639.99,86.33 L640.32,86.08 L640.65,85.85 L640.98,85.67 L641.31,85.52 L641.64,85.42 L641.97,85.36 L642.29,85.37 L642.62,85.42 L642.95,85.52 L643.28,85.67 L643.61,85.85 L643.94,86.07 L644.27,86.33 L644.6,86.61 L644.93,86.92 L645.26,87.26 L645.58,87.61 L645.91,87.98 L646.24,88.36 L646.57,88.75 L646.9,89.15 L647.23,89.55 L647.56,89.95 L647.89,90.35 L648.22,90.74 L648.55,91.11 L648.88,91.47 L649.2,91.82 L649.53,92.14 L649.86,92.45 L650.19,92.74 L650.52,93.02 L650.85,93.28 L651.18,93.52 L651.51,93.75 L651.84,93.97 L652.17,94.18 L652.49,94.37 L652.82,94.55 L653.15,94.72 L653.48,94.88 L653.81,95.04 L654.14,95.18 L654.47,95.31 L654.8,95.44 L655.13,95.56 L655.46,95.68 L655.79,95.79 L656.11,95.89 L656.44,95.98 L656.77,96.07 L657.1,96.14 L657.43,96.21 L657.76,96.26 L658.09,96.3 L658.42,96.32 L658.75,96.33 L659.08,96.32 L659.41,96.29 L659.73,96.25 L660.06,96.2 L660.39,96.13 L660.72,96.04 L661.05,95.95 L661.38,95.85 L661.71,95.73 L662.04,95.61 L662.37,95.49 L662.7,95.36 L663.02,95.23 L663.35,95.09 L663.68,94.96 L664.01,94.83 L664.34,94.69 L664.67,94.56 L665,94.42 L665.33,94.28 L665.66,94.14 L665.99,94 L666.32,93.85 L666.64,93.69 L666.97,93.53 L667.3,93.36 L667.63,93.19 L667.96,93 L668.29,92.81 L668.62,92.6 L668.95,92.39 L669.28,92.16 L669.61,91.92 L669.94,91.66 L670.26,91.39 L670.59,91.11 L670.92,90.81 L671.25,90.49 L671.58,90.15 L671.91,89.79 L672.24,89.41 L672.57,89.01 L672.9,88.59 L673.23,88.14 L673.55,87.67 L673.88,87.18 L674.21,86.66 L674.54,86.13 L674.87,85.58 L675.2,85.01" fill="none" stroke="#76cf76" stroke-width="1.3" stroke-linejoin="round"/>
<path d="M511,86.09 L512.98,82.72 L509.02,82.72 Z" fill="#fff" stroke="#76cf76" stroke-width="0.85" stroke-linejoin="round"/>
<path d="M524.05,97.62 L526.03,94.26 L522.07,94.26 Z" fill="#fff" stroke="#76cf76" stroke-width="0.85" stroke-linejoin="round"/>
<path d="M537.11,94.68 L539.09,91.31 L535.13,91.31 Z" fill="#fff" stroke="#76cf76" stroke-width="0.85" stroke-linejoin="round"/>
<path d="M550.16,75.38 L552.14,72.01 L548.18,72.01 Z" fill="#fff" stroke="#76cf76" stroke-width="0.85" stroke-linejoin="round"/>
<path d="M563.22,82.24 L565.2,78.88 L561.24,78.88 Z" fill="#fff" stroke="#76cf76" stroke-width="0.85" stroke-linejoin="round"/>
<path d="M576.27,87.35 L578.25,83.98 L574.29,83.98 Z" fill="#fff" stroke="#76cf76" stroke-width="0.85" stroke-linejoin="round"/>
<path d="M589.32,97.5 L591.3,94.13 L587.34,94.13 Z" fill="#fff" stroke="#76cf76" stroke-width="0.85" stroke-linejoin="round"/>
<path d="M602.38,94.93 L604.36,91.56 L600.4,91.56 Z" fill="#fff" stroke="#76cf76" stroke-width="0.85" stroke-linejoin="round"/>
<path d="M615.43,76.07 L617.41,72.7 L613.45,72.7 Z" fill="#fff" stroke="#76cf76" stroke-width="0.85" stroke-linejoin="round"/>
<path d="M628.49,81.35 L630.47,77.98 L626.51,77.98 Z" fill="#fff" stroke="#76cf76" stroke-width="0.85" stroke-linejoin="round"/>
<path d="M641.54,87.42 L643.52,84.05 L639.56,84.05 Z" fill="#fff" stroke="#76cf76" stroke-width="0.85" stroke-linejoin="round"/>
<path d="M654.59,97.34 L656.57,93.98 L652.61,93.98 Z" fill="#fff" stroke="#76cf76" stroke-width="0.85" stroke-linejoin="round"/>
<path d="M667.65,95.16 L669.63,91.79 L665.67,91.79 Z" fill="#fff" stroke="#76cf76" stroke-width="0.85" stroke-linejoin="round"/>
<path d="M675.2,86.99 L677.18,83.62 L673.22,83.62 Z" fill="#fff" stroke="#76cf76" stroke-width="0.85" stroke-linejoin="round"/>
<path d="M39.5,179.5 L39.5,274.5 L203.5,274.5" fill="none" stroke="#7c7c7c" stroke-width="1"/>
<path d="M39.5,274.5 v3 M55.5,274.5 v2 M71.5,274.5 v3 M88.5,274.5 v2 M104.5,274.5 v3 M121.5,274.5 v2 M137.5,274.5 v3 M153.5,274.5 v2 M170.5,274.5 v3 M186.5,274.5 v2 M203.5,274.5 v3 M39.5,179.5 h-3 M39.5,194.5 h-3 M39.5,210.5 h-3 M39.5,225.5 h-3 M39.5,240.5 h-3 M39.5,255.5 h-3 M39.5,271.5 h-3" stroke="#7c7c7c" stroke-width="1" fill="none"/>
<text x="39" y="291.8" font-size="11.9" text-anchor="middle" fill="#1a1a1a">0</text>
<text x="71.8" y="291.8" font-size="11.9" text-anchor="middle" fill="#1a1a1a">2</text>
<text x="104.6" y="291.8" font-size="11.9" text-anchor="middle" fill="#1a1a1a">4</text>
<text x="137.4" y="291.8" font-size="11.9" text-anchor="middle" fill="#1a1a1a">6</text>
<text x="170.2" y="291.8" font-size="11.9" text-anchor="middle" fill="#1a1a1a">8</text>
<text x="203" y="291.8" font-size="11.9" text-anchor="middle" fill="#1a1a1a">10</text>
<text x="33.5" y="183.6" font-size="11.8" text-anchor="end" fill="#1a1a1a">60</text>
<text x="33.5" y="198.85" font-size="11.8" text-anchor="end" fill="#1a1a1a">50</text>
<text x="33.5" y="214.1" font-size="11.8" text-anchor="end" fill="#1a1a1a">40</text>
<text x="33.5" y="229.35" font-size="11.8" text-anchor="end" fill="#1a1a1a">30</text>
<text x="33.5" y="244.6" font-size="11.8" text-anchor="end" fill="#1a1a1a">20</text>
<text x="33.5" y="259.85" font-size="11.8" text-anchor="end" fill="#1a1a1a">10</text>
<text x="33.5" y="275.1" font-size="11.8" text-anchor="end" fill="#1a1a1a">0</text>
<text x="10.9" y="224.1" font-size="13.4" text-anchor="middle" fill="#1a1a1a" transform="rotate(-90 10.9 224.1)">Joint angle(°)</text>
<text x="122.4" y="308" font-size="12.5" text-anchor="middle" fill="#1a1a1a">simulation time(s)</text>
<text x="122.4" y="322" font-size="12.2" text-anchor="middle" fill="#1a1a1a">(d)</text>
<path d="M39,269.68 L39.33,269.14 L39.66,268.48 L39.99,267.71 L40.31,266.83 L40.64,265.82 L40.97,264.7 L41.3,263.46 L41.63,262.1 L41.96,260.64 L42.29,259.12 L42.62,257.58 L42.94,256.07 L43.27,254.63 L43.6,253.29 L43.93,252.1 L44.26,251.1 L44.59,250.27 L44.92,249.61 L45.24,249.1 L45.57,248.73 L45.9,248.48 L46.23,248.35 L46.56,248.32 L46.89,248.38 L47.22,248.53 L47.55,248.75 L47.87,249.03 L48.2,249.37 L48.53,249.76 L48.86,250.19 L49.19,250.65 L49.52,251.13 L49.85,251.62 L50.17,252.12 L50.5,252.61 L50.83,253.09 L51.16,253.54 L51.49,253.98 L51.82,254.4 L52.15,254.81 L52.47,255.2 L52.8,255.57 L53.13,255.94 L53.46,256.3 L53.79,256.65 L54.12,256.99 L54.45,257.33 L54.78,257.67 L55.1,258 L55.43,258.34 L55.76,258.68 L56.09,259.03 L56.42,259.38 L56.75,259.74 L57.08,260.11 L57.4,260.49 L57.73,260.88 L58.06,261.28 L58.39,261.68 L58.72,262.08 L59.05,262.48 L59.38,262.89 L59.71,263.28 L60.03,263.67 L60.36,264.06 L60.69,264.43 L61.02,264.79 L61.35,265.13 L61.68,265.45 L62.01,265.76 L62.33,266.04 L62.66,266.3 L62.99,266.52 L63.32,266.7 L63.65,266.83 L63.98,266.92 L64.31,266.94 L64.64,266.9 L64.96,266.8 L65.29,266.65 L65.62,266.46 L65.95,266.22 L66.28,265.93 L66.61,265.62 L66.94,265.26 L67.26,264.88 L67.59,264.47 L67.92,264.05 L68.25,263.6 L68.58,263.13 L68.91,262.64 L69.24,262.14 L69.57,261.61 L69.89,261.07 L70.22,260.51 L70.55,259.94 L70.88,259.35 L71.21,258.74 L71.54,258.1 L71.87,257.41 L72.19,256.66 L72.52,255.85 L72.85,254.96 L73.18,253.99 L73.51,252.92 L73.84,251.74 L74.17,250.44 L74.49,249.02 L74.82,247.51 L75.15,245.9 L75.48,244.22 L75.81,242.48 L76.14,240.68 L76.47,238.85 L76.8,236.98 L77.12,235.1 L77.45,233.22 L77.78,231.33 L78.11,229.43 L78.44,227.5 L78.77,225.54 L79.1,223.55 L79.42,221.5 L79.75,219.39 L80.08,217.21 L80.41,214.96 L80.74,212.64 L81.07,210.26 L81.4,207.85 L81.73,205.44 L82.05,203.04 L82.38,200.69 L82.71,198.4 L83.04,196.2 L83.37,194.12 L83.7,192.17 L84.03,190.35 L84.35,188.69 L84.68,187.2 L85.01,185.89 L85.34,184.77 L85.67,183.85 L86,183.15 L86.33,182.69 L86.66,182.46 L86.98,182.49 L87.31,182.76 L87.64,183.26 L87.97,183.98 L88.3,184.89 L88.63,185.98 L88.96,187.23 L89.28,188.63 L89.61,190.16 L89.94,191.8 L90.27,193.54 L90.6,195.37 L90.93,197.26 L91.26,199.21 L91.59,201.24 L91.91,203.34 L92.24,205.52 L92.57,207.78 L92.9,210.13 L93.23,212.57 L93.56,215.1 L93.89,217.74 L94.21,220.47 L94.54,223.27 L94.87,226.15 L95.2,229.08 L95.53,232.05 L95.86,235.06 L96.19,238.1 L96.52,241.13 L96.84,244.11 L97.17,246.99 L97.5,249.72 L97.83,252.26 L98.16,254.58 L98.49,256.7 L98.82,258.63 L99.14,260.39 L99.47,262 L99.8,263.47 L100.13,264.83 L100.46,266.07 L100.79,267.2 L101.12,268.21 L101.44,269.08 L101.77,269.82 L102.1,270.43 L102.43,270.88 L102.76,271.18 L103.09,271.32 L103.42,271.3 L103.75,271.1 L104.07,270.74 L104.4,270.23 L104.73,269.6 L105.06,268.87 L105.39,268.05 L105.72,267.17 L106.05,266.25 L106.37,265.3 L106.7,264.32 L107.03,263.32 L107.36,262.29 L107.69,261.25 L108.02,260.18 L108.35,259.08 L108.68,257.98 L109,256.86 L109.33,255.76 L109.66,254.68 L109.99,253.64 L110.32,252.65 L110.65,251.74 L110.98,250.91 L111.3,250.18 L111.63,249.57 L111.96,249.09 L112.29,248.75 L112.62,248.57 L112.95,248.55 L113.28,248.68 L113.61,248.93 L113.93,249.28 L114.26,249.73 L114.59,250.24 L114.92,250.8 L115.25,251.39 L115.58,251.99 L115.91,252.59 L116.23,253.17 L116.56,253.71 L116.89,254.22 L117.22,254.71 L117.55,255.17 L117.88,255.61 L118.21,256.03 L118.54,256.44 L118.86,256.83 L119.19,257.22 L119.52,257.59 L119.85,257.96 L120.18,258.33 L120.51,258.7 L120.84,259.06 L121.16,259.42 L121.49,259.78 L121.82,260.14 L122.15,260.5 L122.48,260.86 L122.81,261.21 L123.14,261.57 L123.46,261.93 L123.79,262.29 L124.12,262.65 L124.45,263.01 L124.78,263.37 L125.11,263.73 L125.44,264.1 L125.77,264.47 L126.09,264.84 L126.42,265.21 L126.75,265.58 L127.08,265.95 L127.41,266.3 L127.74,266.63 L128.07,266.95 L128.39,267.24 L128.72,267.51 L129.05,267.74 L129.38,267.94 L129.71,268.1 L130.04,268.21 L130.37,268.27 L130.7,268.29 L131.02,268.24 L131.35,268.14 L131.68,267.98 L132.01,267.75 L132.34,267.47 L132.67,267.14 L133,266.77 L133.32,266.35 L133.65,265.9 L133.98,265.42 L134.31,264.91 L134.64,264.38 L134.97,263.83 L135.3,263.27 L135.63,262.69 L135.95,262.09 L136.28,261.45 L136.61,260.78 L136.94,260.06 L137.27,259.3 L137.6,258.49 L137.93,257.61 L138.25,256.67 L138.58,255.66 L138.91,254.57 L139.24,253.39 L139.57,252.14 L139.9,250.8 L140.23,249.39 L140.56,247.9 L140.88,246.34 L141.21,244.71 L141.54,243.02 L141.87,241.29 L142.2,239.53 L142.53,237.75 L142.86,235.95 L143.18,234.12 L143.51,232.25 L143.84,230.32 L144.17,228.32 L144.5,226.23 L144.83,224.05 L145.16,221.76 L145.48,219.34 L145.81,216.79 L146.14,214.09 L146.47,211.22 L146.8,208.19 L147.13,205.04 L147.46,201.87 L147.79,198.78 L148.11,195.87 L148.44,193.22 L148.77,190.87 L149.1,188.8 L149.43,187.01 L149.76,185.48 L150.09,184.21 L150.41,183.17 L150.74,182.37 L151.07,181.79 L151.4,181.41 L151.73,181.23 L152.06,181.24 L152.39,181.42 L152.72,181.76 L153.04,182.26 L153.37,182.89 L153.7,183.64 L154.03,184.5 L154.36,185.45 L154.69,186.48 L155.02,187.58 L155.34,188.72 L155.67,189.89 L156,191.09 L156.33,192.28 L156.66,193.47 L156.99,194.63 L157.32,195.76 L157.65,196.87 L157.97,198 L158.3,199.2 L158.63,200.51 L158.96,201.97 L159.29,203.62 L159.62,205.5 L159.95,207.61 L160.27,209.95 L160.6,212.51 L160.93,215.28 L161.26,218.26 L161.59,221.42 L161.92,224.78 L162.25,228.29 L162.58,231.9 L162.9,235.55 L163.23,239.16 L163.56,242.68 L163.89,246.03 L164.22,249.17 L164.55,252.07 L164.88,254.74 L165.2,257.19 L165.53,259.42 L165.86,261.46 L166.19,263.3 L166.52,264.95 L166.85,266.4 L167.18,267.66 L167.51,268.71 L167.83,269.57 L168.16,270.21 L168.49,270.65 L168.82,270.87 L169.15,270.87 L169.48,270.67 L169.81,270.28 L170.13,269.72 L170.46,269.02 L170.79,268.21 L171.12,267.3 L171.45,266.32 L171.78,265.3 L172.11,264.25 L172.43,263.18 L172.76,262.1 L173.09,260.99 L173.42,259.86 L173.75,258.7 L174.08,257.52 L174.41,256.32 L174.74,255.09 L175.06,253.87 L175.39,252.68 L175.72,251.54 L176.05,250.47 L176.38,249.51 L176.71,248.67 L177.04,247.99 L177.36,247.47 L177.69,247.15 L178.02,247.02 L178.35,247.06 L178.68,247.24 L179.01,247.55 L179.34,247.98 L179.67,248.5 L179.99,249.09 L180.32,249.74 L180.65,250.42 L180.98,251.12 L181.31,251.83 L181.64,252.51 L181.97,253.16 L182.29,253.76 L182.62,254.33 L182.95,254.87 L183.28,255.38 L183.61,255.85 L183.94,256.3 L184.27,256.72 L184.6,257.12 L184.92,257.5 L185.25,257.86 L185.58,258.21 L185.91,258.54 L186.24,258.86 L186.57,259.17 L186.9,259.47 L187.22,259.77 L187.55,260.06 L187.88,260.36 L188.21,260.65 L188.54,260.95 L188.87,261.25 L189.2,261.56 L189.53,261.87 L189.85,262.17 L190.18,262.48 L190.51,262.79 L190.84,263.1 L191.17,263.41 L191.5,263.71 L191.83,264.01 L192.15,264.31 L192.48,264.61 L192.81,264.89 L193.14,265.18 L193.47,265.45 L193.8,265.72 L194.13,265.98 L194.45,266.22 L194.78,266.45 L195.11,266.66 L195.44,266.84 L195.77,266.98 L196.1,267.07 L196.43,267.12 L196.76,267.11 L197.08,267.04 L197.41,266.91 L197.74,266.71 L198.07,266.45 L198.4,266.12 L198.73,265.74 L199.06,265.28 L199.38,264.77 L199.71,264.2 L200.04,263.56 L200.37,262.87 L200.7,262.13 L201.03,261.34 L201.36,260.51 L201.69,259.65 L202.01,258.76 L202.34,257.84 L202.67,256.9 L203,255.95" fill="none" stroke="#222222" stroke-width="1.3" stroke-linejoin="round"/>
<rect x="37.43" y="268.11" width="3.13" height="3.13" fill="#fff" stroke="#222222" stroke-width="0.85"/>
<rect x="48.91" y="251.01" width="3.13" height="3.13" fill="#fff" stroke="#222222" stroke-width="0.85"/>
<rect x="60.39" y="264.15" width="3.13" height="3.13" fill="#fff" stroke="#222222" stroke-width="0.85"/>
<rect x="71.87" y="251.58" width="3.13" height="3.13" fill="#fff" stroke="#222222" stroke-width="0.85"/>
<rect x="83.35" y="184.67" width="3.13" height="3.13" fill="#fff" stroke="#222222" stroke-width="0.85"/>
<rect x="94.83" y="238.5" width="3.13" height="3.13" fill="#fff" stroke="#222222" stroke-width="0.85"/>
<rect x="106.31" y="259.06" width="3.13" height="3.13" fill="#fff" stroke="#222222" stroke-width="0.85"/>
<rect x="117.79" y="255.84" width="3.13" height="3.13" fill="#fff" stroke="#222222" stroke-width="0.85"/>
<rect x="129.27" y="266.71" width="3.13" height="3.13" fill="#fff" stroke="#222222" stroke-width="0.85"/>
<rect x="140.75" y="237.3" width="3.13" height="3.13" fill="#fff" stroke="#222222" stroke-width="0.85"/>
<rect x="152.23" y="182.32" width="3.13" height="3.13" fill="#fff" stroke="#222222" stroke-width="0.85"/>
<rect x="163.71" y="256.15" width="3.13" height="3.13" fill="#fff" stroke="#222222" stroke-width="0.85"/>
<rect x="175.19" y="246.98" width="3.13" height="3.13" fill="#fff" stroke="#222222" stroke-width="0.85"/>
<rect x="186.67" y="259.11" width="3.13" height="3.13" fill="#fff" stroke="#222222" stroke-width="0.85"/>
<rect x="198.15" y="262.62" width="3.13" height="3.13" fill="#fff" stroke="#222222" stroke-width="0.85"/>
<rect x="201.43" y="254.38" width="3.13" height="3.13" fill="#fff" stroke="#222222" stroke-width="0.85"/>
<path d="M39,270.28 L39.33,269.58 L39.66,268.84 L39.99,268.05 L40.31,267.21 L40.64,266.3 L40.97,265.33 L41.3,264.28 L41.63,263.14 L41.96,261.92 L42.29,260.6 L42.62,259.19 L42.94,257.72 L43.27,256.24 L43.6,254.76 L43.93,253.34 L44.26,252 L44.59,250.79 L44.92,249.75 L45.24,248.87 L45.57,248.16 L45.9,247.6 L46.23,247.18 L46.56,246.88 L46.89,246.7 L47.22,246.62 L47.55,246.63 L47.87,246.72 L48.2,246.89 L48.53,247.12 L48.86,247.4 L49.19,247.74 L49.52,248.12 L49.85,248.53 L50.17,248.97 L50.5,249.42 L50.83,249.88 L51.16,250.34 L51.49,250.79 L51.82,251.22 L52.15,251.64 L52.47,252.04 L52.8,252.42 L53.13,252.79 L53.46,253.14 L53.79,253.49 L54.12,253.82 L54.45,254.15 L54.78,254.47 L55.1,254.79 L55.43,255.1 L55.76,255.42 L56.09,255.73 L56.42,256.05 L56.75,256.36 L57.08,256.69 L57.4,257.02 L57.73,257.36 L58.06,257.71 L58.39,258.07 L58.72,258.43 L59.05,258.8 L59.38,259.18 L59.71,259.55 L60.03,259.93 L60.36,260.3 L60.69,260.67 L61.02,261.03 L61.35,261.38 L61.68,261.72 L62.01,262.04 L62.33,262.35 L62.66,262.65 L62.99,262.92 L63.32,263.17 L63.65,263.39 L63.98,263.58 L64.31,263.73 L64.64,263.83 L64.96,263.88 L65.29,263.87 L65.62,263.81 L65.95,263.69 L66.28,263.53 L66.61,263.33 L66.94,263.08 L67.26,262.8 L67.59,262.49 L67.92,262.15 L68.25,261.78 L68.58,261.39 L68.91,260.98 L69.24,260.56 L69.57,260.11 L69.89,259.65 L70.22,259.17 L70.55,258.68 L70.88,258.17 L71.21,257.64 L71.54,257.1 L71.87,256.54 L72.19,255.96 L72.52,255.34 L72.85,254.67 L73.18,253.95 L73.51,253.16 L73.84,252.3 L74.17,251.35 L74.49,250.3 L74.82,249.15 L75.15,247.88 L75.48,246.52 L75.81,245.07 L76.14,243.54 L76.47,241.94 L76.8,240.3 L77.12,238.6 L77.45,236.88 L77.78,235.14 L78.11,233.39 L78.44,231.64 L78.77,229.88 L79.1,228.1 L79.42,226.29 L79.75,224.45 L80.08,222.57 L80.41,220.64 L80.74,218.65 L81.07,216.59 L81.4,214.46 L81.73,212.27 L82.05,210.04 L82.38,207.79 L82.71,205.56 L83.04,203.35 L83.37,201.19 L83.7,199.1 L84.03,197.11 L84.35,195.23 L84.68,193.47 L85.01,191.86 L85.34,190.39 L85.67,189.09 L86,187.96 L86.33,187.01 L86.66,186.26 L86.98,185.71 L87.31,185.39 L87.64,185.3 L87.97,185.44 L88.3,185.81 L88.63,186.37 L88.96,187.13 L89.28,188.06 L89.61,189.16 L89.94,190.39 L90.27,191.76 L90.6,193.24 L90.93,194.81 L91.26,196.47 L91.59,198.2 L91.91,199.99 L92.24,201.84 L92.57,203.76 L92.9,205.75 L93.23,207.81 L93.56,209.96 L93.89,212.18 L94.21,214.5 L94.54,216.9 L94.87,219.4 L95.2,221.97 L95.53,224.61 L95.86,227.31 L96.19,230.06 L96.52,232.85 L96.84,235.66 L97.17,238.49 L97.5,241.28 L97.83,244.01 L98.16,246.63 L98.49,249.09 L98.82,251.34 L99.14,253.41 L99.47,255.29 L99.8,257 L100.13,258.56 L100.46,260 L100.79,261.31 L101.12,262.52 L101.44,263.62 L101.77,264.61 L102.1,265.49 L102.43,266.24 L102.76,266.86 L103.09,267.36 L103.42,267.71 L103.75,267.91 L104.07,267.97 L104.4,267.86 L104.73,267.6 L105.06,267.2 L105.39,266.66 L105.72,266.02 L106.05,265.3 L106.37,264.51 L106.7,263.66 L107.03,262.79 L107.36,261.9 L107.69,260.98 L108.02,260.04 L108.35,259.07 L108.68,258.09 L109,257.08 L109.33,256.06 L109.66,255.02 L109.99,253.99 L110.32,252.97 L110.65,251.99 L110.98,251.04 L111.3,250.16 L111.63,249.35 L111.96,248.62 L112.29,248 L112.62,247.48 L112.95,247.1 L113.28,246.86 L113.61,246.77 L113.93,246.83 L114.26,247.01 L114.59,247.29 L114.92,247.66 L115.25,248.11 L115.58,248.61 L115.91,249.15 L116.23,249.7 L116.56,250.27 L116.89,250.81 L117.22,251.33 L117.55,251.82 L117.88,252.29 L118.21,252.73 L118.54,253.15 L118.86,253.55 L119.19,253.93 L119.52,254.3 L119.85,254.66 L120.18,255.02 L120.51,255.36 L120.84,255.71 L121.16,256.05 L121.49,256.39 L121.82,256.73 L122.15,257.06 L122.48,257.4 L122.81,257.73 L123.14,258.06 L123.46,258.39 L123.79,258.73 L124.12,259.06 L124.45,259.39 L124.78,259.72 L125.11,260.06 L125.44,260.39 L125.77,260.73 L126.09,261.07 L126.42,261.41 L126.75,261.76 L127.08,262.11 L127.41,262.45 L127.74,262.79 L128.07,263.12 L128.39,263.44 L128.72,263.75 L129.05,264.03 L129.38,264.29 L129.71,264.52 L130.04,264.72 L130.37,264.89 L130.7,265.02 L131.02,265.1 L131.35,265.14 L131.68,265.12 L132.01,265.06 L132.34,264.93 L132.67,264.75 L133,264.51 L133.32,264.23 L133.65,263.9 L133.98,263.53 L134.31,263.13 L134.64,262.69 L134.97,262.23 L135.3,261.75 L135.63,261.25 L135.95,260.73 L136.28,260.2 L136.61,259.65 L136.94,259.07 L137.27,258.47 L137.6,257.82 L137.93,257.14 L138.25,256.4 L138.58,255.62 L138.91,254.77 L139.24,253.86 L139.57,252.89 L139.9,251.84 L140.23,250.71 L140.56,249.5 L140.88,248.22 L141.21,246.87 L141.54,245.45 L141.87,243.97 L142.2,242.42 L142.53,240.83 L142.86,239.2 L143.18,237.55 L143.51,235.89 L143.84,234.21 L144.17,232.49 L144.5,230.72 L144.83,228.89 L145.16,226.99 L145.48,225.01 L145.81,222.93 L146.14,220.74 L146.47,218.43 L146.8,215.99 L147.13,213.41 L147.46,210.66 L147.79,207.78 L148.11,204.83 L148.44,201.91 L148.77,199.1 L149.1,196.51 L149.43,194.18 L149.76,192.13 L150.09,190.34 L150.41,188.8 L150.74,187.5 L151.07,186.43 L151.4,185.58 L151.73,184.94 L152.06,184.49 L152.39,184.23 L152.72,184.16 L153.04,184.24 L153.37,184.49 L153.7,184.88 L154.03,185.41 L154.36,186.05 L154.69,186.81 L155.02,187.65 L155.34,188.58 L155.67,189.57 L156,190.61 L156.33,191.69 L156.66,192.79 L156.99,193.9 L157.32,195.01 L157.65,196.11 L157.97,197.17 L158.3,198.2 L158.63,199.24 L158.96,200.32 L159.29,201.49 L159.62,202.77 L159.95,204.22 L160.27,205.85 L160.6,207.71 L160.93,209.78 L161.26,212.06 L161.59,214.54 L161.92,217.22 L162.25,220.07 L162.58,223.11 L162.9,226.31 L163.23,229.63 L163.56,233.01 L163.89,236.39 L164.22,239.71 L164.55,242.92 L164.88,245.94 L165.2,248.74 L165.53,251.33 L165.86,253.71 L166.19,255.89 L166.52,257.87 L166.85,259.67 L167.18,261.29 L167.51,262.74 L167.83,263.99 L168.16,265.07 L168.49,265.96 L168.82,266.65 L169.15,267.15 L169.48,267.46 L169.81,267.56 L170.13,267.47 L170.46,267.19 L170.79,266.74 L171.12,266.16 L171.45,265.45 L171.78,264.64 L172.11,263.76 L172.43,262.83 L172.76,261.87 L173.09,260.88 L173.42,259.88 L173.75,258.86 L174.08,257.82 L174.41,256.76 L174.74,255.67 L175.06,254.56 L175.39,253.43 L175.72,252.29 L176.05,251.16 L176.38,250.07 L176.71,249.05 L177.04,248.1 L177.36,247.26 L177.69,246.55 L178.02,245.99 L178.35,245.61 L178.68,245.4 L179.01,245.36 L179.34,245.46 L179.67,245.7 L179.99,246.04 L180.32,246.48 L180.65,247 L180.98,247.58 L181.31,248.2 L181.64,248.85 L181.97,249.51 L182.29,250.15 L182.62,250.77 L182.95,251.35 L183.28,251.9 L183.61,252.42 L183.94,252.9 L184.27,253.36 L184.6,253.78 L184.92,254.19 L185.25,254.57 L185.58,254.93 L185.91,255.28 L186.24,255.61 L186.57,255.92 L186.9,256.22 L187.22,256.51 L187.55,256.8 L187.88,257.08 L188.21,257.35 L188.54,257.62 L188.87,257.9 L189.2,258.17 L189.53,258.45 L189.85,258.74 L190.18,259.02 L190.51,259.31 L190.84,259.6 L191.17,259.88 L191.5,260.17 L191.83,260.46 L192.15,260.74 L192.48,261.02 L192.81,261.3 L193.14,261.58 L193.47,261.85 L193.8,262.11 L194.13,262.37 L194.45,262.62 L194.78,262.87 L195.11,263.11 L195.44,263.33 L195.77,263.53 L196.1,263.71 L196.43,263.86 L196.76,263.97 L197.08,264.03 L197.41,264.05 L197.74,264.02 L198.07,263.92 L198.4,263.77 L198.73,263.55 L199.06,263.28 L199.38,262.95 L199.71,262.56 L200.04,262.11 L200.37,261.6 L200.7,261.04 L201.03,260.42 L201.36,259.76 L201.69,259.04 L202.01,258.29 L202.34,257.51 L202.67,256.69 L203,255.85" fill="none" stroke="#e23c42" stroke-width="1.3" stroke-linejoin="round"/>
<circle cx="39" cy="270.28" r="1.65" fill="#fff" stroke="#e23c42" stroke-width="0.85"/>
<circle cx="50.48" cy="249.39" r="1.65" fill="#fff" stroke="#e23c42" stroke-width="0.85"/>
<circle cx="61.96" cy="262" r="1.65" fill="#fff" stroke="#e23c42" stroke-width="0.85"/>
<circle cx="73.44" cy="253.33" r="1.65" fill="#fff" stroke="#e23c42" stroke-width="0.85"/>
<circle cx="84.92" cy="192.3" r="1.65" fill="#fff" stroke="#e23c42" stroke-width="0.85"/>
<circle cx="96.4" cy="231.87" r="1.65" fill="#fff" stroke="#e23c42" stroke-width="0.85"/>
<circle cx="107.88" cy="260.44" r="1.65" fill="#fff" stroke="#e23c42" stroke-width="0.85"/>
<circle cx="119.36" cy="254.12" r="1.65" fill="#fff" stroke="#e23c42" stroke-width="0.85"/>
<circle cx="130.84" cy="265.06" r="1.65" fill="#fff" stroke="#e23c42" stroke-width="0.85"/>
<circle cx="142.32" cy="241.84" r="1.65" fill="#fff" stroke="#e23c42" stroke-width="0.85"/>
<circle cx="153.8" cy="185.03" r="1.65" fill="#fff" stroke="#e23c42" stroke-width="0.85"/>
<circle cx="165.28" cy="249.36" r="1.65" fill="#fff" stroke="#e23c42" stroke-width="0.85"/>
<circle cx="176.76" cy="248.89" r="1.65" fill="#fff" stroke="#e23c42" stroke-width="0.85"/>
<circle cx="188.24" cy="257.38" r="1.65" fill="#fff" stroke="#e23c42" stroke-width="0.85"/>
<circle cx="199.72" cy="262.55" r="1.65" fill="#fff" stroke="#e23c42" stroke-width="0.85"/>
<circle cx="203" cy="255.85" r="1.65" fill="#fff" stroke="#e23c42" stroke-width="0.85"/>
<path d="M39,270.58 L39.33,270.24 L39.66,269.79 L39.99,269.23 L40.31,268.56 L40.64,267.77 L40.97,266.86 L41.3,265.84 L41.63,264.69 L41.96,263.43 L42.29,262.06 L42.62,260.59 L42.94,259.08 L43.27,257.56 L43.6,256.08 L43.93,254.67 L44.26,253.39 L44.59,252.25 L44.92,251.31 L45.24,250.53 L45.57,249.91 L45.9,249.44 L46.23,249.11 L46.56,248.89 L46.89,248.79 L47.22,248.79 L47.55,248.87 L47.87,249.03 L48.2,249.27 L48.53,249.56 L48.86,249.92 L49.19,250.31 L49.52,250.74 L49.85,251.2 L50.17,251.68 L50.5,252.17 L50.83,252.66 L51.16,253.14 L51.49,253.61 L51.82,254.06 L52.15,254.49 L52.47,254.9 L52.8,255.3 L53.13,255.68 L53.46,256.05 L53.79,256.41 L54.12,256.76 L54.45,257.11 L54.78,257.45 L55.1,257.78 L55.43,258.11 L55.76,258.45 L56.09,258.78 L56.42,259.12 L56.75,259.46 L57.08,259.82 L57.4,260.17 L57.73,260.54 L58.06,260.92 L58.39,261.31 L58.72,261.7 L59.05,262.1 L59.38,262.5 L59.71,262.9 L60.03,263.3 L60.36,263.69 L60.69,264.08 L61.02,264.45 L61.35,264.82 L61.68,265.17 L62.01,265.5 L62.33,265.82 L62.66,266.11 L62.99,266.39 L63.32,266.63 L63.65,266.84 L63.98,267.01 L64.31,267.13 L64.64,267.2 L64.96,267.2 L65.29,267.15 L65.62,267.04 L65.95,266.88 L66.28,266.68 L66.61,266.43 L66.94,266.14 L67.26,265.81 L67.59,265.46 L67.92,265.07 L68.25,264.66 L68.58,264.24 L68.91,263.79 L69.24,263.32 L69.57,262.83 L69.89,262.33 L70.22,261.8 L70.55,261.26 L70.88,260.71 L71.21,260.14 L71.54,259.55 L71.87,258.94 L72.19,258.29 L72.52,257.59 L72.85,256.84 L73.18,256.02 L73.51,255.12 L73.84,254.13 L74.17,253.04 L74.49,251.84 L74.82,250.53 L75.15,249.1 L75.48,247.58 L75.81,245.97 L76.14,244.29 L76.47,242.55 L76.8,240.76 L77.12,238.93 L77.45,237.08 L77.78,235.22 L78.11,233.36 L78.44,231.48 L78.77,229.59 L79.1,227.68 L79.42,225.73 L79.75,223.74 L80.08,221.7 L80.41,219.6 L80.74,217.42 L81.07,215.18 L81.4,212.86 L81.73,210.49 L82.05,208.11 L82.38,205.72 L82.71,203.36 L83.04,201.04 L83.37,198.8 L83.7,196.65 L84.03,194.62 L84.35,192.72 L84.68,190.96 L85.01,189.36 L85.34,187.92 L85.67,186.67 L86,185.61 L86.33,184.76 L86.66,184.12 L86.98,183.72 L87.31,183.56 L87.64,183.65 L87.97,183.98 L88.3,184.53 L88.63,185.29 L88.96,186.23 L89.28,187.36 L89.61,188.63 L89.94,190.05 L90.27,191.6 L90.6,193.25 L90.93,195 L91.26,196.82 L91.59,198.71 L91.91,200.66 L92.24,202.69 L92.57,204.79 L92.9,206.96 L93.23,209.22 L93.56,211.57 L93.89,214.01 L94.21,216.55 L94.54,219.18 L94.87,221.9 L95.2,224.69 L95.53,227.56 L95.86,230.47 L96.19,233.43 L96.52,236.41 L96.84,239.42 L97.17,242.41 L97.5,245.34 L97.83,248.16 L98.16,250.82 L98.49,253.28 L98.82,255.52 L99.14,257.57 L99.47,259.44 L99.8,261.14 L100.13,262.7 L100.46,264.13 L100.79,265.44 L101.12,266.65 L101.44,267.73 L101.77,268.7 L102.1,269.53 L102.43,270.23 L102.76,270.79 L103.09,271.2 L103.42,271.46 L103.75,271.56 L104.07,271.49 L104.4,271.26 L104.73,270.86 L105.06,270.32 L105.39,269.67 L105.72,268.92 L106.05,268.09 L106.37,267.21 L106.7,266.29 L107.03,265.34 L107.36,264.37 L107.69,263.37 L108.02,262.35 L108.35,261.31 L108.68,260.24 L109,259.16 L109.33,258.06 L109.66,256.96 L109.99,255.87 L110.32,254.81 L110.65,253.79 L110.98,252.83 L111.3,251.95 L111.63,251.15 L111.96,250.46 L112.29,249.88 L112.62,249.44 L112.95,249.14 L113.28,249.01 L113.61,249.03 L113.93,249.19 L114.26,249.46 L114.59,249.84 L114.92,250.29 L115.25,250.81 L115.58,251.38 L115.91,251.97 L116.23,252.56 L116.56,253.15 L116.89,253.71 L117.22,254.24 L117.55,254.75 L117.88,255.22 L118.21,255.67 L118.54,256.1 L118.86,256.52 L119.19,256.91 L119.52,257.3 L119.85,257.68 L120.18,258.05 L120.51,258.42 L120.84,258.78 L121.16,259.14 L121.49,259.5 L121.82,259.86 L122.15,260.22 L122.48,260.57 L122.81,260.92 L123.14,261.28 L123.46,261.63 L123.79,261.99 L124.12,262.34 L124.45,262.69 L124.78,263.05 L125.11,263.41 L125.44,263.77 L125.77,264.13 L126.09,264.49 L126.42,264.86 L126.75,265.23 L127.08,265.59 L127.41,265.96 L127.74,266.32 L128.07,266.66 L128.39,266.99 L128.72,267.3 L129.05,267.58 L129.38,267.83 L129.71,268.06 L130.04,268.24 L130.37,268.39 L130.7,268.49 L131.02,268.54 L131.35,268.54 L131.68,268.48 L132.01,268.37 L132.34,268.19 L132.67,267.95 L133,267.66 L133.32,267.32 L133.65,266.94 L133.98,266.52 L134.31,266.06 L134.64,265.58 L134.97,265.07 L135.3,264.54 L135.63,264 L135.95,263.44 L136.28,262.86 L136.61,262.25 L136.94,261.61 L137.27,260.94 L137.6,260.22 L137.93,259.45 L138.25,258.63 L138.58,257.74 L138.91,256.8 L139.24,255.77 L139.57,254.68 L139.9,253.49 L140.23,252.23 L140.56,250.89 L140.88,249.47 L141.21,247.98 L141.54,246.42 L141.87,244.79 L142.2,243.1 L142.53,241.38 L142.86,239.63 L143.18,237.86 L143.51,236.08 L143.84,234.25 L144.17,232.39 L144.5,230.46 L144.83,228.46 L145.16,226.37 L145.48,224.18 L145.81,221.88 L146.14,219.46 L146.47,216.9 L146.8,214.19 L147.13,211.31 L147.46,208.27 L147.79,205.14 L148.11,202.01 L148.44,198.98 L148.77,196.16 L149.1,193.61 L149.43,191.35 L149.76,189.38 L150.09,187.67 L150.41,186.23 L150.74,185.03 L151.07,184.06 L151.4,183.32 L151.73,182.8 L152.06,182.47 L152.39,182.34 L152.72,182.39 L153.04,182.62 L153.37,182.99 L153.7,183.52 L154.03,184.18 L154.36,184.95 L154.69,185.83 L155.02,186.79 L155.34,187.83 L155.67,188.92 L156,190.06 L156.33,191.23 L156.66,192.42 L156.99,193.6 L157.32,194.77 L157.65,195.91 L157.97,197.02 L158.3,198.12 L158.63,199.26 L158.96,200.47 L159.29,201.8 L159.62,203.29 L159.95,204.98 L160.27,206.9 L160.6,209.04 L160.93,211.42 L161.26,214 L161.59,216.8 L161.92,219.79 L162.25,222.97 L162.58,226.34 L162.9,229.85 L163.23,233.44 L163.56,237.04 L163.89,240.6 L164.22,244.05 L164.55,247.32 L164.88,250.36 L165.2,253.18 L165.53,255.76 L165.86,258.14 L166.19,260.3 L166.52,262.27 L166.85,264.04 L167.18,265.62 L167.51,267.01 L167.83,268.21 L168.16,269.2 L168.49,269.99 L168.82,270.58 L169.15,270.96 L169.48,271.12 L169.81,271.07 L170.13,270.82 L170.46,270.39 L170.79,269.8 L171.12,269.08 L171.45,268.25 L171.78,267.33 L172.11,266.35 L172.43,265.32 L172.76,264.28 L173.09,263.22 L173.42,262.14 L173.75,261.04 L174.08,259.91 L174.41,258.76 L174.74,257.59 L175.06,256.39 L175.39,255.17 L175.72,253.97 L176.05,252.8 L176.38,251.69 L176.71,250.66 L177.04,249.73 L177.36,248.94 L177.69,248.3 L178.02,247.84 L178.35,247.57 L178.68,247.49 L179.01,247.56 L179.34,247.78 L179.67,248.12 L179.99,248.56 L180.32,249.1 L180.65,249.7 L180.98,250.35 L181.31,251.03 L181.64,251.73 L181.97,252.42 L182.29,253.09 L182.62,253.72 L182.95,254.31 L183.28,254.87 L183.61,255.39 L183.94,255.89 L184.27,256.35 L184.6,256.79 L184.92,257.2 L185.25,257.59 L185.58,257.96 L185.91,258.31 L186.24,258.65 L186.57,258.98 L186.9,259.29 L187.22,259.59 L187.55,259.89 L187.88,260.18 L188.21,260.47 L188.54,260.77 L188.87,261.06 L189.2,261.36 L189.53,261.66 L189.85,261.96 L190.18,262.27 L190.51,262.57 L190.84,262.88 L191.17,263.18 L191.5,263.49 L191.83,263.79 L192.15,264.09 L192.48,264.39 L192.81,264.68 L193.14,264.97 L193.47,265.26 L193.8,265.53 L194.13,265.8 L194.45,266.07 L194.78,266.32 L195.11,266.56 L195.44,266.78 L195.77,266.98 L196.1,267.15 L196.43,267.27 L196.76,267.36 L197.08,267.39 L197.41,267.37 L197.74,267.29 L198.07,267.14 L198.4,266.92 L198.73,266.65 L199.06,266.31 L199.38,265.91 L199.71,265.45 L200.04,264.93 L200.37,264.34 L200.7,263.7 L201.03,263 L201.36,262.26 L201.69,261.47 L202.01,260.64 L202.34,259.77 L202.67,258.88 L203,257.97" fill="none" stroke="#2626dc" stroke-width="1.3" stroke-linejoin="round"/>
<path d="M39,268.6 L40.98,271.96 L37.02,271.96 Z" fill="#fff" stroke="#2626dc" stroke-width="0.85" stroke-linejoin="round"/>
<path d="M50.48,250.16 L52.46,253.52 L48.5,253.52 Z" fill="#fff" stroke="#2626dc" stroke-width="0.85" stroke-linejoin="round"/>
<path d="M61.96,263.48 L63.94,266.84 L59.98,266.84 Z" fill="#fff" stroke="#2626dc" stroke-width="0.85" stroke-linejoin="round"/>
<path d="M73.44,253.33 L75.42,256.7 L71.46,256.7 Z" fill="#fff" stroke="#2626dc" stroke-width="0.85" stroke-linejoin="round"/>
<path d="M84.92,187.81 L86.9,191.17 L82.94,191.17 Z" fill="#fff" stroke="#2626dc" stroke-width="0.85" stroke-linejoin="round"/>
<path d="M96.4,233.39 L98.38,236.75 L94.42,236.75 Z" fill="#fff" stroke="#2626dc" stroke-width="0.85" stroke-linejoin="round"/>
<path d="M107.88,260.8 L109.86,264.17 L105.9,264.17 Z" fill="#fff" stroke="#2626dc" stroke-width="0.85" stroke-linejoin="round"/>
<path d="M119.36,255.13 L121.34,258.5 L117.38,258.5 Z" fill="#fff" stroke="#2626dc" stroke-width="0.85" stroke-linejoin="round"/>
<path d="M130.84,266.54 L132.82,269.9 L128.86,269.9 Z" fill="#fff" stroke="#2626dc" stroke-width="0.85" stroke-linejoin="round"/>
<path d="M142.32,240.49 L144.3,243.85 L140.34,243.85 Z" fill="#fff" stroke="#2626dc" stroke-width="0.85" stroke-linejoin="round"/>
<path d="M153.8,181.72 L155.78,185.09 L151.82,185.09 Z" fill="#fff" stroke="#2626dc" stroke-width="0.85" stroke-linejoin="round"/>
<path d="M165.28,251.81 L167.26,255.18 L163.3,255.18 Z" fill="#fff" stroke="#2626dc" stroke-width="0.85" stroke-linejoin="round"/>
<path d="M176.76,248.52 L178.74,251.89 L174.78,251.89 Z" fill="#fff" stroke="#2626dc" stroke-width="0.85" stroke-linejoin="round"/>
<path d="M188.24,258.52 L190.22,261.89 L186.26,261.89 Z" fill="#fff" stroke="#2626dc" stroke-width="0.85" stroke-linejoin="round"/>
<path d="M199.72,263.46 L201.7,266.83 L197.74,266.83 Z" fill="#fff" stroke="#2626dc" stroke-width="0.85" stroke-linejoin="round"/>
<path d="M203,255.99 L204.98,259.35 L201.02,259.35 Z" fill="#fff" stroke="#2626dc" stroke-width="0.85" stroke-linejoin="round"/>
<path d="M39,270.02 L39.33,269.57 L39.66,269.01 L39.99,268.34 L40.31,267.55 L40.64,266.64 L40.97,265.62 L41.3,264.48 L41.63,263.22 L41.96,261.85 L42.29,260.39 L42.62,258.88 L42.94,257.36 L43.27,255.89 L43.6,254.48 L43.93,253.2 L44.26,252.07 L44.59,251.12 L44.92,250.34 L45.24,249.73 L45.57,249.26 L45.9,248.92 L46.23,248.71 L46.56,248.61 L46.89,248.6 L47.22,248.69 L47.55,248.85 L47.87,249.08 L48.2,249.38 L48.53,249.73 L48.86,250.12 L49.19,250.55 L49.52,251.01 L49.85,251.49 L50.17,251.98 L50.5,252.47 L50.83,252.95 L51.16,253.42 L51.49,253.87 L51.82,254.3 L52.15,254.71 L52.47,255.1 L52.8,255.48 L53.13,255.85 L53.46,256.21 L53.79,256.56 L54.12,256.91 L54.45,257.24 L54.78,257.58 L55.1,257.91 L55.43,258.24 L55.76,258.58 L56.09,258.92 L56.42,259.26 L56.75,259.61 L57.08,259.97 L57.4,260.34 L57.73,260.71 L58.06,261.1 L58.39,261.49 L58.72,261.89 L59.05,262.29 L59.38,262.69 L59.71,263.09 L60.03,263.48 L60.36,263.86 L60.69,264.24 L61.02,264.6 L61.35,264.95 L61.68,265.28 L62.01,265.6 L62.33,265.9 L62.66,266.17 L62.99,266.41 L63.32,266.62 L63.65,266.79 L63.98,266.91 L64.31,266.98 L64.64,266.98 L64.96,266.93 L65.29,266.82 L65.62,266.66 L65.95,266.46 L66.28,266.21 L66.61,265.92 L66.94,265.6 L67.26,265.24 L67.59,264.86 L67.92,264.45 L68.25,264.02 L68.58,263.57 L68.91,263.11 L69.24,262.62 L69.57,262.12 L69.89,261.59 L70.22,261.06 L70.55,260.5 L70.88,259.93 L71.21,259.35 L71.54,258.73 L71.87,258.09 L72.19,257.39 L72.52,256.64 L72.85,255.82 L73.18,254.92 L73.51,253.94 L73.84,252.85 L74.17,251.66 L74.49,250.34 L74.82,248.92 L75.15,247.4 L75.48,245.8 L75.81,244.12 L76.14,242.38 L76.47,240.59 L76.8,238.77 L77.12,236.93 L77.45,235.07 L77.78,233.21 L78.11,231.34 L78.44,229.45 L78.77,227.54 L79.1,225.6 L79.42,223.61 L79.75,221.57 L80.08,219.48 L80.41,217.31 L80.74,215.07 L81.07,212.75 L81.4,210.39 L81.73,208.01 L82.05,205.63 L82.38,203.27 L82.71,200.96 L83.04,198.72 L83.37,196.58 L83.7,194.55 L84.03,192.65 L84.35,190.9 L84.68,189.3 L85.01,187.87 L85.34,186.62 L85.67,185.56 L86,184.71 L86.33,184.07 L86.66,183.67 L86.98,183.51 L87.31,183.6 L87.64,183.93 L87.97,184.48 L88.3,185.23 L88.63,186.18 L88.96,187.29 L89.28,188.57 L89.61,189.99 L89.94,191.53 L90.27,193.18 L90.6,194.92 L90.93,196.74 L91.26,198.62 L91.59,200.57 L91.91,202.59 L92.24,204.69 L92.57,206.86 L92.9,209.12 L93.23,211.46 L93.56,213.89 L93.89,216.42 L94.21,219.05 L94.54,221.76 L94.87,224.55 L95.2,227.41 L95.53,230.32 L95.86,233.27 L96.19,236.25 L96.52,239.25 L96.84,242.23 L97.17,245.16 L97.5,247.97 L97.83,250.63 L98.16,253.08 L98.49,255.32 L98.82,257.37 L99.14,259.23 L99.47,260.93 L99.8,262.49 L100.13,263.91 L100.46,265.22 L100.79,266.43 L101.12,267.51 L101.44,268.47 L101.77,269.3 L102.1,270 L102.43,270.56 L102.76,270.97 L103.09,271.23 L103.42,271.33 L103.75,271.26 L104.07,271.03 L104.4,270.63 L104.73,270.1 L105.06,269.45 L105.39,268.7 L105.72,267.87 L106.05,266.99 L106.37,266.07 L106.7,265.13 L107.03,264.16 L107.36,263.16 L107.69,262.14 L108.02,261.1 L108.35,260.04 L108.68,258.96 L109,257.86 L109.33,256.76 L109.66,255.67 L109.99,254.61 L110.32,253.6 L110.65,252.64 L110.98,251.76 L111.3,250.96 L111.63,250.27 L111.96,249.69 L112.29,249.25 L112.62,248.96 L112.95,248.82 L113.28,248.85 L113.61,249 L113.93,249.28 L114.26,249.65 L114.59,250.11 L114.92,250.62 L115.25,251.19 L115.58,251.78 L115.91,252.37 L116.23,252.96 L116.56,253.52 L116.89,254.05 L117.22,254.55 L117.55,255.02 L117.88,255.47 L118.21,255.9 L118.54,256.32 L118.86,256.71 L119.19,257.1 L119.52,257.48 L119.85,257.85 L120.18,258.21 L120.51,258.58 L120.84,258.94 L121.16,259.3 L121.49,259.65 L121.82,260.01 L122.15,260.36 L122.48,260.72 L122.81,261.07 L123.14,261.42 L123.46,261.77 L123.79,262.13 L124.12,262.48 L124.45,262.84 L124.78,263.19 L125.11,263.55 L125.44,263.91 L125.77,264.28 L126.09,264.64 L126.42,265.01 L126.75,265.38 L127.08,265.74 L127.41,266.1 L127.74,266.44 L128.07,266.77 L128.39,267.08 L128.72,267.36 L129.05,267.61 L129.38,267.83 L129.71,268.02 L130.04,268.17 L130.37,268.27 L130.7,268.32 L131.02,268.32 L131.35,268.26 L131.68,268.14 L132.01,267.96 L132.34,267.73 L132.67,267.44 L133,267.1 L133.32,266.72 L133.65,266.3 L133.98,265.85 L134.31,265.36 L134.64,264.86 L134.97,264.33 L135.3,263.78 L135.63,263.22 L135.95,262.65 L136.28,262.04 L136.61,261.4 L136.94,260.73 L137.27,260.01 L137.6,259.25 L137.93,258.43 L138.25,257.55 L138.58,256.6 L138.91,255.58 L139.24,254.48 L139.57,253.3 L139.9,252.04 L140.23,250.7 L140.56,249.29 L140.88,247.8 L141.21,246.24 L141.54,244.61 L141.87,242.93 L142.2,241.21 L142.53,239.47 L142.86,237.7 L143.18,235.92 L143.51,234.1 L143.84,232.24 L144.17,230.32 L144.5,228.32 L144.83,226.24 L145.16,224.05 L145.48,221.76 L145.81,219.34 L146.14,216.79 L146.47,214.08 L146.8,211.21 L147.13,208.17 L147.46,205.05 L147.79,201.93 L148.11,198.91 L148.44,196.09 L148.77,193.54 L149.1,191.29 L149.43,189.32 L149.76,187.62 L150.09,186.17 L150.41,184.97 L150.74,184.01 L151.07,183.27 L151.4,182.75 L151.73,182.43 L152.06,182.3 L152.39,182.35 L152.72,182.57 L153.04,182.94 L153.37,183.47 L153.7,184.12 L154.03,184.89 L154.36,185.77 L154.69,186.73 L155.02,187.77 L155.34,188.86 L155.67,190 L156,191.16 L156.33,192.35 L156.66,193.53 L156.99,194.69 L157.32,195.83 L157.65,196.94 L157.97,198.04 L158.3,199.17 L158.63,200.38 L158.96,201.71 L159.29,203.2 L159.62,204.88 L159.95,206.79 L160.27,208.94 L160.6,211.3 L160.93,213.89 L161.26,216.67 L161.59,219.66 L161.92,222.84 L162.25,226.19 L162.58,229.7 L162.9,233.28 L163.23,236.88 L163.56,240.43 L163.89,243.87 L164.22,247.14 L164.55,250.17 L164.88,252.98 L165.2,255.56 L165.53,257.93 L165.86,260.09 L166.19,262.05 L166.52,263.82 L166.85,265.4 L167.18,266.79 L167.51,267.98 L167.83,268.97 L168.16,269.76 L168.49,270.35 L168.82,270.73 L169.15,270.89 L169.48,270.85 L169.81,270.59 L170.13,270.16 L170.46,269.58 L170.79,268.86 L171.12,268.02 L171.45,267.11 L171.78,266.13 L172.11,265.11 L172.43,264.07 L172.76,263.01 L173.09,261.93 L173.42,260.83 L173.75,259.71 L174.08,258.56 L174.41,257.39 L174.74,256.19 L175.06,254.98 L175.39,253.78 L175.72,252.61 L176.05,251.5 L176.38,250.47 L176.71,249.55 L177.04,248.76 L177.36,248.12 L177.69,247.66 L178.02,247.39 L178.35,247.31 L178.68,247.38 L179.01,247.59 L179.34,247.93 L179.67,248.38 L179.99,248.91 L180.32,249.51 L180.65,250.16 L180.98,250.85 L181.31,251.54 L181.64,252.23 L181.97,252.9 L182.29,253.53 L182.62,254.12 L182.95,254.67 L183.28,255.2 L183.61,255.69 L183.94,256.15 L184.27,256.59 L184.6,257 L184.92,257.39 L185.25,257.76 L185.58,258.11 L185.91,258.45 L186.24,258.77 L186.57,259.08 L186.9,259.39 L187.22,259.68 L187.55,259.98 L187.88,260.27 L188.21,260.56 L188.54,260.85 L188.87,261.15 L189.2,261.45 L189.53,261.75 L189.85,262.05 L190.18,262.36 L190.51,262.67 L190.84,262.97 L191.17,263.28 L191.5,263.58 L191.83,263.88 L192.15,264.18 L192.48,264.47 L192.81,264.76 L193.14,265.04 L193.47,265.32 L193.8,265.59 L194.13,265.85 L194.45,266.1 L194.78,266.34 L195.11,266.56 L195.44,266.76 L195.77,266.93 L196.1,267.05 L196.43,267.14 L196.76,267.17 L197.08,267.15 L197.41,267.07 L197.74,266.92 L198.07,266.71 L198.4,266.43 L198.73,266.09 L199.06,265.69 L199.38,265.23 L199.71,264.71 L200.04,264.13 L200.37,263.49 L200.7,262.79 L201.03,262.05 L201.36,261.26 L201.69,260.43 L202.01,259.57 L202.34,258.68 L202.67,257.77 L203,256.84" fill="none" stroke="#76cf76" stroke-width="1.3" stroke-linejoin="round"/>
<path d="M39,272 L40.98,268.63 L37.02,268.63 Z" fill="#fff" stroke="#76cf76" stroke-width="0.85" stroke-linejoin="round"/>
<path d="M50.48,254.41 L52.46,251.05 L48.5,251.05 Z" fill="#fff" stroke="#76cf76" stroke-width="0.85" stroke-linejoin="round"/>
<path d="M61.96,267.54 L63.94,264.17 L59.98,264.17 Z" fill="#fff" stroke="#76cf76" stroke-width="0.85" stroke-linejoin="round"/>
<path d="M73.44,256.13 L75.42,252.77 L71.46,252.77 Z" fill="#fff" stroke="#76cf76" stroke-width="0.85" stroke-linejoin="round"/>
<path d="M84.92,190.23 L86.9,186.86 L82.94,186.86 Z" fill="#fff" stroke="#76cf76" stroke-width="0.85" stroke-linejoin="round"/>
<path d="M96.4,240.18 L98.38,236.81 L94.42,236.81 Z" fill="#fff" stroke="#76cf76" stroke-width="0.85" stroke-linejoin="round"/>
<path d="M107.88,263.52 L109.86,260.16 L105.9,260.16 Z" fill="#fff" stroke="#76cf76" stroke-width="0.85" stroke-linejoin="round"/>
<path d="M119.36,259.27 L121.34,255.91 L117.38,255.91 Z" fill="#fff" stroke="#76cf76" stroke-width="0.85" stroke-linejoin="round"/>
<path d="M130.84,270.3 L132.82,266.94 L128.86,266.94 Z" fill="#fff" stroke="#76cf76" stroke-width="0.85" stroke-linejoin="round"/>
<path d="M142.32,242.55 L144.3,239.18 L140.34,239.18 Z" fill="#fff" stroke="#76cf76" stroke-width="0.85" stroke-linejoin="round"/>
<path d="M153.8,186.32 L155.78,182.96 L151.82,182.96 Z" fill="#fff" stroke="#76cf76" stroke-width="0.85" stroke-linejoin="round"/>
<path d="M165.28,258.11 L167.26,254.74 L163.3,254.74 Z" fill="#fff" stroke="#76cf76" stroke-width="0.85" stroke-linejoin="round"/>
<path d="M176.76,251.39 L178.74,248.03 L174.78,248.03 Z" fill="#fff" stroke="#76cf76" stroke-width="0.85" stroke-linejoin="round"/>
<path d="M188.24,262.56 L190.22,259.2 L186.26,259.2 Z" fill="#fff" stroke="#76cf76" stroke-width="0.85" stroke-linejoin="round"/>
<path d="M199.72,266.68 L201.7,263.31 L197.74,263.31 Z" fill="#fff" stroke="#76cf76" stroke-width="0.85" stroke-linejoin="round"/>
<path d="M203,258.82 L204.98,255.45 L201.02,255.45 Z" fill="#fff" stroke="#76cf76" stroke-width="0.85" stroke-linejoin="round"/>
<path d="M148,180.2 H156.4 V188.5 H148 Z M148,180.2 L199.5,174.4 M156.4,188.5 L199.5,220.8" fill="none" stroke="#b0b0b0" stroke-width="0.8"/>
<rect x="199.4" y="174.4" width="36.2" height="46.4" fill="#fff" stroke="#6a6a6a" stroke-width="1"/>
<path d="M209.5,224 L209.7,223.52 L209.89,223.02 L210.09,222.49 L210.28,221.94 L210.48,221.36 L210.67,220.77 L210.87,220.16 L211.07,219.54 L211.26,218.91 L211.46,218.26 L211.65,217.61 L211.85,216.95 L212.05,216.29 L212.24,215.63 L212.44,214.96 L212.63,214.3 L212.83,213.65 L213.02,213 L213.22,212.36 L213.42,211.73 L213.61,211.12 L213.81,210.52 L214,209.94 L214.2,209.38 L214.39,208.84 L214.59,208.33 L214.79,207.84 L214.98,207.38 L215.18,206.95 L215.37,206.55 L215.57,206.18 L215.77,205.85 L215.96,205.54 L216.16,205.26 L216.35,205.01 L216.55,204.79 L216.74,204.59 L216.94,204.41 L217.14,204.25 L217.33,204.12 L217.53,204 L217.72,203.91 L217.92,203.83 L218.12,203.76 L218.31,203.71 L218.51,203.68 L218.7,203.65 L218.9,203.64 L219.09,203.64 L219.29,203.65 L219.49,203.66 L219.68,203.68 L219.88,203.7 L220.07,203.73 L220.27,203.76 L220.46,203.79 L220.66,203.83 L220.86,203.86 L221.05,203.89 L221.25,203.93 L221.44,203.96 L221.64,204 L221.84,204.05 L222.03,204.1 L222.23,204.15 L222.42,204.21 L222.62,204.27 L222.81,204.34 L223.01,204.41 L223.21,204.5 L223.4,204.59 L223.6,204.69 L223.79,204.8 L223.99,204.93 L224.18,205.06 L224.38,205.2 L224.58,205.36 L224.77,205.52 L224.97,205.7 L225.16,205.89 L225.36,206.09 L225.56,206.31 L225.75,206.53 L225.95,206.77 L226.14,207.02 L226.34,207.28 L226.53,207.56 L226.73,207.85 L226.93,208.15 L227.12,208.47 L227.32,208.79 L227.51,209.14 L227.71,209.49 L227.91,209.86 L228.1,210.24 L228.3,210.64 L228.49,211.05 L228.69,211.48 L228.88,211.92 L229.08,212.38 L229.28,212.85 L229.47,213.33 L229.67,213.83 L229.86,214.35 L230.06,214.88 L230.25,215.42 L230.45,215.98 L230.65,216.56 L230.84,217.16 L231.04,217.77 L231.23,218.39 L231.43,219.03 L231.63,219.69 L231.82,220.37 L232.02,221.06 L232.21,221.77 L232.41,222.5 L232.6,223.24 L232.8,224" fill="none" stroke="#e23c42" stroke-width="1.3" clip-path="url(#cid)"/>
<circle cx="215.2" cy="206.9" r="1.45" fill="#fff" stroke="#e23c42" stroke-width="0.85"/>
<circle cx="224.1" cy="205" r="1.45" fill="#fff" stroke="#e23c42" stroke-width="0.85"/>
<path d="M204.3,224 L204.56,222.72 L204.82,221.39 L205.09,220.02 L205.35,218.62 L205.61,217.19 L205.87,215.76 L206.14,214.33 L206.4,212.92 L206.66,211.53 L206.92,210.18 L207.18,208.88 L207.45,207.63 L207.71,206.45 L207.97,205.32 L208.23,204.25 L208.49,203.23 L208.76,202.27 L209.02,201.35 L209.28,200.48 L209.54,199.66 L209.81,198.88 L210.07,198.14 L210.33,197.45 L210.59,196.79 L210.85,196.17 L211.12,195.59 L211.38,195.04 L211.64,194.52 L211.9,194.03 L212.17,193.56 L212.43,193.13 L212.69,192.71 L212.95,192.32 L213.21,191.95 L213.48,191.6 L213.74,191.27 L214,190.95 L214.26,190.64 L214.53,190.34 L214.79,190.05 L215.05,189.77 L215.31,189.5 L215.57,189.23 L215.84,188.96 L216.1,188.69 L216.36,188.43 L216.62,188.17 L216.88,187.92 L217.15,187.67 L217.41,187.43 L217.67,187.21 L217.93,186.99 L218.2,186.78 L218.46,186.58 L218.72,186.4 L218.98,186.23 L219.24,186.08 L219.51,185.94 L219.77,185.82 L220.03,185.72 L220.29,185.64 L220.56,185.58 L220.82,185.54 L221.08,185.52 L221.34,185.53 L221.6,185.56 L221.87,185.62 L222.13,185.7 L222.39,185.81 L222.65,185.95 L222.92,186.12 L223.18,186.33 L223.44,186.56 L223.7,186.83 L223.96,187.13 L224.23,187.47 L224.49,187.84 L224.75,188.25 L225.01,188.68 L225.27,189.16 L225.54,189.66 L225.8,190.19 L226.06,190.75 L226.32,191.34 L226.59,191.96 L226.85,192.6 L227.11,193.27 L227.37,193.95 L227.63,194.67 L227.9,195.4 L228.16,196.15 L228.42,196.92 L228.68,197.71 L228.95,198.52 L229.21,199.34 L229.47,200.18 L229.73,201.03 L229.99,201.89 L230.26,202.77 L230.52,203.65 L230.78,204.55 L231.04,205.45 L231.31,206.36 L231.57,207.28 L231.83,208.2 L232.09,209.12 L232.35,210.05 L232.62,210.98 L232.88,211.91 L233.14,212.84 L233.4,213.77 L233.66,214.69 L233.93,215.61 L234.19,216.53 L234.45,217.44 L234.71,218.34 L234.98,219.24 L235.24,220.12 L235.5,221" fill="none" stroke="#2626dc" stroke-width="1.3" clip-path="url(#cid)"/>
<path d="M207.2,207.06 L208.94,210.02 L205.46,210.02 Z" fill="#fff" stroke="#2626dc" stroke-width="0.85" stroke-linejoin="round"/>
<path d="M215.6,187.46 L217.34,190.42 L213.86,190.42 Z" fill="#fff" stroke="#2626dc" stroke-width="0.85" stroke-linejoin="round"/>
<path d="M224.1,185.56 L225.84,188.52 L222.36,188.52 Z" fill="#fff" stroke="#2626dc" stroke-width="0.85" stroke-linejoin="round"/>
<path d="M232,207.06 L233.74,210.02 L230.26,210.02 Z" fill="#fff" stroke="#2626dc" stroke-width="0.85" stroke-linejoin="round"/>
<path d="M201.8,224 L202.08,222.98 L202.35,221.94 L202.63,220.88 L202.91,219.81 L203.19,218.72 L203.46,217.63 L203.74,216.54 L204.02,215.44 L204.3,214.33 L204.57,213.23 L204.85,212.14 L205.13,211.05 L205.41,209.97 L205.68,208.91 L205.96,207.86 L206.24,206.82 L206.51,205.81 L206.79,204.82 L207.07,203.85 L207.35,202.91 L207.62,202 L207.9,201.11 L208.18,200.26 L208.46,199.43 L208.73,198.63 L209.01,197.86 L209.29,197.11 L209.56,196.39 L209.84,195.7 L210.12,195.03 L210.4,194.38 L210.67,193.77 L210.95,193.17 L211.23,192.6 L211.51,192.06 L211.78,191.54 L212.06,191.04 L212.34,190.56 L212.62,190.11 L212.89,189.68 L213.17,189.27 L213.45,188.89 L213.72,188.52 L214,188.18 L214.28,187.86 L214.56,187.56 L214.83,187.28 L215.11,187.01 L215.39,186.77 L215.67,186.55 L215.94,186.35 L216.22,186.16 L216.5,186 L216.77,185.85 L217.05,185.73 L217.33,185.63 L217.61,185.55 L217.88,185.49 L218.16,185.45 L218.44,185.44 L218.72,185.45 L218.99,185.49 L219.27,185.54 L219.55,185.63 L219.83,185.73 L220.1,185.87 L220.38,186.03 L220.66,186.21 L220.93,186.43 L221.21,186.67 L221.49,186.93 L221.77,187.23 L222.04,187.55 L222.32,187.9 L222.6,188.29 L222.88,188.7 L223.15,189.14 L223.43,189.61 L223.71,190.11 L223.98,190.65 L224.26,191.21 L224.54,191.81 L224.82,192.43 L225.09,193.07 L225.37,193.74 L225.65,194.43 L225.93,195.15 L226.2,195.88 L226.48,196.64 L226.76,197.41 L227.04,198.19 L227.31,198.99 L227.59,199.81 L227.87,200.63 L228.14,201.47 L228.42,202.32 L228.7,203.17 L228.98,204.03 L229.25,204.89 L229.53,205.76 L229.81,206.63 L230.09,207.5 L230.36,208.37 L230.64,209.23 L230.92,210.09 L231.19,210.95 L231.47,211.8 L231.75,212.65 L232.03,213.48 L232.3,214.3 L232.58,215.11 L232.86,215.91 L233.14,216.7 L233.41,217.46 L233.69,218.21 L233.97,218.94 L234.25,219.65 L234.52,220.34 L234.8,221" fill="none" stroke="#76cf76" stroke-width="1.3" clip-path="url(#cid)"/>
<path d="M207.2,205.14 L208.94,202.18 L205.46,202.18 Z" fill="#fff" stroke="#76cf76" stroke-width="0.85" stroke-linejoin="round"/>
<path d="M215.6,188.34 L217.34,185.38 L213.86,185.38 Z" fill="#fff" stroke="#76cf76" stroke-width="0.85" stroke-linejoin="round"/>
<path d="M223.7,191.84 L225.44,188.88 L221.96,188.88 Z" fill="#fff" stroke="#76cf76" stroke-width="0.85" stroke-linejoin="round"/>
<path d="M232,215.14 L233.74,212.18 L230.26,212.18 Z" fill="#fff" stroke="#76cf76" stroke-width="0.85" stroke-linejoin="round"/>
<path d="M199,221.5 L199.29,220.81 L199.58,220.06 L199.87,219.26 L200.16,218.42 L200.45,217.54 L200.74,216.62 L201.03,215.66 L201.32,214.67 L201.61,213.65 L201.9,212.6 L202.19,211.53 L202.48,210.44 L202.77,209.33 L203.06,208.22 L203.35,207.09 L203.64,205.95 L203.93,204.81 L204.22,203.67 L204.51,202.53 L204.8,201.4 L205.09,200.28 L205.38,199.17 L205.67,198.08 L205.96,197.01 L206.25,195.96 L206.54,194.93 L206.83,193.93 L207.12,192.97 L207.41,192.04 L207.7,191.14 L207.99,190.28 L208.28,189.46 L208.57,188.67 L208.86,187.91 L209.15,187.19 L209.44,186.5 L209.73,185.84 L210.02,185.21 L210.31,184.61 L210.6,184.04 L210.89,183.51 L211.18,183 L211.47,182.52 L211.76,182.06 L212.05,181.64 L212.34,181.24 L212.63,180.86 L212.92,180.51 L213.21,180.19 L213.5,179.89 L213.79,179.62 L214.08,179.37 L214.37,179.14 L214.66,178.93 L214.95,178.74 L215.24,178.58 L215.53,178.43 L215.82,178.31 L216.11,178.2 L216.39,178.12 L216.68,178.05 L216.97,178.01 L217.26,177.99 L217.55,177.98 L217.84,178 L218.13,178.04 L218.42,178.1 L218.71,178.19 L219,178.29 L219.29,178.42 L219.58,178.57 L219.87,178.74 L220.16,178.94 L220.45,179.16 L220.74,179.4 L221.03,179.67 L221.32,179.96 L221.61,180.27 L221.9,180.61 L222.19,180.98 L222.48,181.36 L222.77,181.78 L223.06,182.22 L223.35,182.68 L223.64,183.17 L223.93,183.69 L224.22,184.23 L224.51,184.8 L224.8,185.4 L225.09,186.03 L225.38,186.69 L225.67,187.37 L225.96,188.1 L226.25,188.85 L226.54,189.64 L226.83,190.47 L227.12,191.33 L227.41,192.23 L227.7,193.17 L227.99,194.15 L228.28,195.18 L228.57,196.24 L228.86,197.35 L229.15,198.51 L229.44,199.71 L229.73,200.96 L230.02,202.25 L230.31,203.6 L230.6,205 L230.89,206.44 L231.18,207.95 L231.47,209.5 L231.76,211.11 L232.05,212.78 L232.34,214.5 L232.63,216.29 L232.92,218.13 L233.21,220.03 L233.5,222" fill="none" stroke="#222222" stroke-width="1.3" clip-path="url(#cid)"/>
<rect x="205.82" y="191.32" width="2.75" height="2.75" fill="#fff" stroke="#222222" stroke-width="0.85"/>
<rect x="214.22" y="177.02" width="2.75" height="2.75" fill="#fff" stroke="#222222" stroke-width="0.85"/>
<rect x="222.72" y="182.62" width="2.75" height="2.75" fill="#fff" stroke="#222222" stroke-width="0.85"/>
<path d="M199.4,189.3 h2.5 M199.4,203.6 h2.5 M199.4,217.9 h2.5 M204.4,220.8 v-2 M227.8,220.8 v-2" stroke="#6a6a6a" stroke-width="0.8"/>
<text x="197.3" y="179.2" font-size="12.5" text-anchor="end" fill="#1a1a1a">59</text>
<text x="197.3" y="193.6" font-size="12.5" text-anchor="end" fill="#1a1a1a">58</text>
<text x="197.3" y="208" font-size="12.5" text-anchor="end" fill="#1a1a1a">57</text>
<text x="197.3" y="222.6" font-size="12.5" text-anchor="end" fill="#1a1a1a">56</text>
<text x="204.4" y="232.8" font-size="12.5" text-anchor="middle" fill="#1a1a1a">6.8</text>
<text x="227.4" y="232.8" font-size="12.5" text-anchor="middle" fill="#1a1a1a">7.0</text>
<rect x="290.5" y="179.5" width="165" height="95" fill="none" stroke="#7c7c7c" stroke-width="1"/>
<path d="M290.5,274.5 v3 M306.5,274.5 v2 M323.5,274.5 v3 M339.5,274.5 v2 M356.5,274.5 v3 M372.5,274.5 v2 M389.5,274.5 v3 M405.5,274.5 v2 M422.5,274.5 v3 M438.5,274.5 v2 M455.5,274.5 v3 M290.5,179.5 h-3 M290.5,206.5 h-3 M290.5,233.5 h-3 M290.5,261.5 h-3" stroke="#7c7c7c" stroke-width="1" fill="none"/>
<text x="290.4" y="289.6" font-size="12.2" text-anchor="middle" fill="#1a1a1a">0</text>
<text x="323.32" y="289.6" font-size="12.2" text-anchor="middle" fill="#1a1a1a">2</text>
<text x="356.24" y="289.6" font-size="12.2" text-anchor="middle" fill="#1a1a1a">4</text>
<text x="389.16" y="289.6" font-size="12.2" text-anchor="middle" fill="#1a1a1a">6</text>
<text x="422.08" y="289.6" font-size="12.2" text-anchor="middle" fill="#1a1a1a">8</text>
<text x="455" y="289.6" font-size="12.2" text-anchor="middle" fill="#1a1a1a">10</text>
<text x="283.8" y="183.5" font-size="12" text-anchor="end" fill="#1a1a1a">4</text>
<text x="283.8" y="210.7" font-size="12" text-anchor="end" fill="#1a1a1a">2</text>
<text x="283.8" y="237.9" font-size="12" text-anchor="end" fill="#1a1a1a">0</text>
<text x="283.8" y="265.1" font-size="12" text-anchor="end" fill="#1a1a1a">-2</text>
<text x="268.6" y="217.6" font-size="11.8" text-anchor="middle" fill="#1a1a1a" transform="rotate(-90 268.6 217.6)">Joint error(°)</text>
<text x="374" y="308" font-size="12.5" text-anchor="middle" fill="#1a1a1a">simulation time(s)</text>
<text x="374" y="322" font-size="12.4" text-anchor="middle" fill="#1a1a1a">(e)</text>
<path d="M290.4,242.47 L290.73,239.47 L291.06,236.53 L291.39,233.81 L291.72,231.43 L292.05,229.57 L292.38,228.36 L292.71,227.94 L293.04,228.27 L293.37,229.11 L293.7,230.21 L294.03,231.34 L294.36,232.25 L294.69,232.71 L295.02,232.64 L295.35,232.1 L295.68,231.17 L296.01,229.93 L296.34,228.44 L296.67,226.78 L297,225.02 L297.33,223.23 L297.66,221.5 L297.99,219.88 L298.32,218.46 L298.65,217.25 L298.98,216.24 L299.31,215.4 L299.64,214.71 L299.97,214.15 L300.3,213.69 L300.63,213.32 L300.96,213.01 L301.29,212.75 L301.62,212.5 L301.95,212.25 L302.27,211.98 L302.6,211.68 L302.93,211.35 L303.26,210.99 L303.59,210.61 L303.92,210.2 L304.25,209.78 L304.58,209.35 L304.91,208.9 L305.24,208.44 L305.57,207.98 L305.9,207.51 L306.23,207.04 L306.56,206.57 L306.89,206.11 L307.22,205.65 L307.55,205.21 L307.88,204.77 L308.21,204.35 L308.54,203.95 L308.87,203.57 L309.2,203.22 L309.53,202.88 L309.86,202.58 L310.19,202.31 L310.52,202.07 L310.85,201.86 L311.18,201.7 L311.51,201.58 L311.84,201.5 L312.17,201.47 L312.5,201.48 L312.83,201.55 L313.16,201.68 L313.49,201.86 L313.82,202.1 L314.15,202.4 L314.48,202.76 L314.81,203.18 L315.14,203.66 L315.47,204.18 L315.8,204.77 L316.13,205.4 L316.46,206.09 L316.79,206.82 L317.12,207.6 L317.45,208.43 L317.78,209.3 L318.11,210.2 L318.44,211.14 L318.77,212.11 L319.1,213.1 L319.43,214.12 L319.76,215.16 L320.09,216.21 L320.42,217.27 L320.75,218.34 L321.08,219.41 L321.41,220.48 L321.74,221.54 L322.07,222.6 L322.4,223.64 L322.73,224.66 L323.06,225.66 L323.39,226.65 L323.72,227.63 L324.05,228.65 L324.38,229.72 L324.71,230.88 L325.04,232.13 L325.37,233.51 L325.69,235.01 L326.02,236.6 L326.35,238.3 L326.68,240.08 L327.01,241.93 L327.34,243.86 L327.67,245.84 L328,247.86 L328.33,249.9 L328.66,251.95 L328.99,253.98 L329.32,255.99 L329.65,257.95 L329.98,259.85 L330.31,261.67 L330.64,263.4 L330.97,265.01 L331.3,266.49 L331.63,267.85 L331.96,269.06 L332.29,270.13 L332.62,271.04 L332.95,271.78 L333.28,272.35 L333.61,272.74 L333.94,272.95 L334.27,272.99 L334.6,272.86 L334.93,272.57 L335.26,272.13 L335.59,271.55 L335.92,270.84 L336.25,270 L336.58,269.06 L336.91,268.01 L337.24,266.86 L337.57,265.61 L337.9,264.26 L338.23,262.8 L338.56,261.23 L338.89,259.55 L339.22,257.74 L339.55,255.81 L339.88,253.75 L340.21,251.56 L340.54,249.22 L340.87,246.76 L341.2,244.17 L341.53,241.48 L341.86,238.71 L342.19,235.86 L342.52,232.96 L342.85,230.03 L343.18,227.07 L343.51,224.11 L343.84,221.17 L344.17,218.25 L344.5,215.39 L344.83,212.58 L345.16,209.86 L345.49,207.22 L345.82,204.67 L346.15,202.24 L346.48,199.92 L346.81,197.73 L347.14,195.67 L347.47,193.75 L347.8,191.99 L348.13,190.4 L348.46,188.98 L348.79,187.77 L349.12,186.78 L349.44,186.03 L349.77,185.54 L350.1,185.33 L350.43,185.42 L350.76,185.81 L351.09,186.48 L351.42,187.41 L351.75,188.58 L352.08,189.96 L352.41,191.54 L352.74,193.3 L353.07,195.2 L353.4,197.23 L353.73,199.37 L354.06,201.6 L354.39,203.89 L354.72,206.22 L355.05,208.58 L355.38,210.93 L355.71,213.26 L356.04,215.56 L356.37,217.78 L356.7,219.92 L357.03,221.96 L357.36,223.86 L357.69,225.63 L358.02,227.22 L358.35,228.63 L358.68,229.83 L359.01,230.8 L359.34,231.52 L359.67,231.97 L360,232.13 L360.33,231.99 L360.66,231.57 L360.99,230.9 L361.32,230.01 L361.65,228.95 L361.98,227.73 L362.31,226.39 L362.64,224.97 L362.97,223.49 L363.3,222 L363.63,220.52 L363.96,219.09 L364.29,217.74 L364.62,216.49 L364.95,215.37 L365.28,214.38 L365.61,213.49 L365.94,212.7 L366.27,212.01 L366.6,211.41 L366.93,210.88 L367.26,210.43 L367.59,210.04 L367.92,209.71 L368.25,209.43 L368.58,209.18 L368.91,208.97 L369.24,208.79 L369.57,208.62 L369.9,208.46 L370.23,208.3 L370.56,208.13 L370.89,207.95 L371.22,207.75 L371.55,207.52 L371.88,207.25 L372.21,206.95 L372.54,206.62 L372.86,206.27 L373.19,205.9 L373.52,205.51 L373.85,205.12 L374.18,204.73 L374.51,204.33 L374.84,203.94 L375.17,203.57 L375.5,203.2 L375.83,202.86 L376.16,202.55 L376.49,202.26 L376.82,202.01 L377.15,201.81 L377.48,201.64 L377.81,201.53 L378.14,201.47 L378.47,201.47 L378.8,201.54 L379.13,201.67 L379.46,201.87 L379.79,202.14 L380.12,202.47 L380.45,202.86 L380.78,203.31 L381.11,203.82 L381.44,204.38 L381.77,204.99 L382.1,205.66 L382.43,206.37 L382.76,207.13 L383.09,207.94 L383.42,208.78 L383.75,209.66 L384.08,210.58 L384.41,211.53 L384.74,212.51 L385.07,213.51 L385.4,214.53 L385.73,215.57 L386.06,216.63 L386.39,217.69 L386.72,218.76 L387.05,219.84 L387.38,220.9 L387.71,221.97 L388.04,223.02 L388.37,224.05 L388.7,225.07 L389.03,226.06 L389.36,227.04 L389.69,228.04 L390.02,229.07 L390.35,230.17 L390.68,231.37 L391.01,232.67 L391.34,234.1 L391.67,235.63 L392,237.27 L392.33,239 L392.66,240.81 L392.99,242.69 L393.32,244.64 L393.65,246.64 L393.98,248.67 L394.31,250.72 L394.64,252.76 L394.97,254.79 L395.3,256.78 L395.63,258.72 L395.96,260.59 L396.28,262.38 L396.61,264.06 L396.94,265.62 L397.27,267.05 L397.6,268.35 L397.93,269.51 L398.26,270.51 L398.59,271.35 L398.92,272.03 L399.25,272.53 L399.58,272.85 L399.91,272.99 L400.24,272.96 L400.57,272.76 L400.9,272.41 L401.23,271.91 L401.56,271.28 L401.89,270.52 L402.22,269.64 L402.55,268.65 L402.88,267.56 L403.21,266.37 L403.54,265.08 L403.87,263.69 L404.2,262.19 L404.53,260.57 L404.86,258.84 L405.19,256.98 L405.52,255 L405.85,252.89 L406.18,250.64 L406.51,248.25 L406.84,245.74 L407.17,243.11 L407.5,240.38 L407.83,237.57 L408.16,234.71 L408.49,231.79 L408.82,228.85 L409.15,225.89 L409.48,222.93 L409.81,220 L410.14,217.1 L410.47,214.26 L410.8,211.48 L411.13,208.79 L411.46,206.19 L411.79,203.69 L412.12,201.3 L412.45,199.03 L412.78,196.88 L413.11,194.88 L413.44,193.03 L413.77,191.33 L414.1,189.81 L414.43,188.47 L414.76,187.35 L415.09,186.45 L415.42,185.8 L415.75,185.42 L416.08,185.33 L416.41,185.54 L416.74,186.04 L417.07,186.82 L417.4,187.85 L417.73,189.11 L418.06,190.57 L418.39,192.23 L418.72,194.04 L419.05,196 L419.38,198.08 L419.71,200.25 L420.03,202.51 L420.36,204.82 L420.69,207.16 L421.02,209.52 L421.35,211.87 L421.68,214.19 L422.01,216.45 L422.34,218.65 L422.67,220.75 L423,222.74 L423.33,224.59 L423.66,226.28 L423.99,227.81 L424.32,229.13 L424.65,230.24 L424.98,231.12 L425.31,231.73 L425.64,232.07 L425.97,232.11 L426.3,231.86 L426.63,231.33 L426.96,230.57 L427.29,229.61 L427.62,228.47 L427.95,227.2 L428.28,225.83 L428.61,224.38 L428.94,222.9 L429.27,221.41 L429.6,219.94 L429.93,218.54 L430.26,217.22 L430.59,216.03 L430.92,214.96 L431.25,214.01 L431.58,213.16 L431.91,212.41 L432.24,211.76 L432.57,211.19 L432.9,210.7 L433.23,210.27 L433.56,209.91 L433.89,209.59 L434.22,209.33 L434.55,209.1 L434.88,208.9 L435.21,208.72 L435.54,208.55 L435.87,208.39 L436.2,208.23 L436.53,208.06 L436.86,207.87 L437.19,207.66 L437.52,207.41 L437.85,207.13 L438.18,206.82 L438.51,206.48 L438.84,206.12 L439.17,205.75 L439.5,205.36 L439.83,204.96 L440.16,204.57 L440.49,204.18 L440.82,203.79 L441.15,203.42 L441.48,203.07 L441.81,202.73 L442.14,202.43 L442.47,202.16 L442.8,201.93 L443.13,201.73 L443.45,201.59 L443.78,201.5 L444.11,201.46 L444.44,201.49 L444.77,201.58 L445.1,201.74 L445.43,201.97 L445.76,202.26 L446.09,202.62 L446.42,203.03 L446.75,203.5 L447.08,204.03 L447.41,204.62 L447.74,205.25 L448.07,205.94 L448.4,206.67 L448.73,207.45 L449.06,208.27 L449.39,209.13 L449.72,210.03 L450.05,210.96 L450.38,211.92 L450.71,212.9 L451.04,213.92 L451.37,214.95 L451.7,215.99 L452.03,217.05 L452.36,218.12 L452.69,219.19 L453.02,220.26 L453.35,221.33 L453.68,222.39 L454.01,223.43 L454.34,224.46 L454.67,225.47 L455,226.45" fill="none" stroke="#e23c42" stroke-width="1.3" stroke-linejoin="round"/>
<circle cx="290.4" cy="242.47" r="1.65" fill="#fff" stroke="#e23c42" stroke-width="0.85"/>
<circle cx="301.92" cy="212.27" r="1.65" fill="#fff" stroke="#e23c42" stroke-width="0.85"/>
<circle cx="313.44" cy="201.83" r="1.65" fill="#fff" stroke="#e23c42" stroke-width="0.85"/>
<circle cx="324.97" cy="231.86" r="1.65" fill="#fff" stroke="#e23c42" stroke-width="0.85"/>
<circle cx="336.49" cy="269.33" r="1.65" fill="#fff" stroke="#e23c42" stroke-width="0.85"/>
<circle cx="348.01" cy="190.94" r="1.65" fill="#fff" stroke="#e23c42" stroke-width="0.85"/>
<circle cx="359.53" cy="231.81" r="1.65" fill="#fff" stroke="#e23c42" stroke-width="0.85"/>
<circle cx="371.05" cy="207.85" r="1.65" fill="#fff" stroke="#e23c42" stroke-width="0.85"/>
<circle cx="382.58" cy="206.7" r="1.65" fill="#fff" stroke="#e23c42" stroke-width="0.85"/>
<circle cx="394.1" cy="249.43" r="1.65" fill="#fff" stroke="#e23c42" stroke-width="0.85"/>
<circle cx="405.62" cy="254.38" r="1.65" fill="#fff" stroke="#e23c42" stroke-width="0.85"/>
<circle cx="417.14" cy="187.03" r="1.65" fill="#fff" stroke="#e23c42" stroke-width="0.85"/>
<circle cx="428.66" cy="224.15" r="1.65" fill="#fff" stroke="#e23c42" stroke-width="0.85"/>
<circle cx="440.19" cy="204.53" r="1.65" fill="#fff" stroke="#e23c42" stroke-width="0.85"/>
<circle cx="451.71" cy="216.01" r="1.65" fill="#fff" stroke="#e23c42" stroke-width="0.85"/>
<circle cx="455" cy="226.45" r="1.65" fill="#fff" stroke="#e23c42" stroke-width="0.85"/>
<path d="M290.4,237.57 L290.73,239.55 L291.06,241.23 L291.39,242.63 L291.72,243.76 L292.05,244.65 L292.38,245.3 L292.71,245.73 L293.04,245.96 L293.37,246.01 L293.7,245.89 L294.03,245.61 L294.36,245.2 L294.69,244.67 L295.02,244.03 L295.35,243.3 L295.68,242.49 L296.01,241.63 L296.34,240.73 L296.67,239.8 L297,238.86 L297.33,237.93 L297.66,237.02 L297.99,236.15 L298.32,235.32 L298.65,234.54 L298.98,233.81 L299.31,233.13 L299.64,232.51 L299.97,231.93 L300.3,231.42 L300.63,230.95 L300.96,230.55 L301.29,230.21 L301.62,229.92 L301.95,229.7 L302.27,229.54 L302.6,229.44 L302.93,229.38 L303.26,229.36 L303.59,229.39 L303.92,229.44 L304.25,229.52 L304.58,229.62 L304.91,229.74 L305.24,229.86 L305.57,229.99 L305.9,230.11 L306.23,230.23 L306.56,230.33 L306.89,230.42 L307.22,230.47 L307.55,230.5 L307.88,230.49 L308.21,230.44 L308.54,230.37 L308.87,230.27 L309.2,230.16 L309.53,230.03 L309.86,229.89 L310.19,229.76 L310.52,229.63 L310.85,229.52 L311.18,229.42 L311.51,229.34 L311.84,229.3 L312.17,229.29 L312.5,229.32 L312.83,229.39 L313.16,229.53 L313.49,229.71 L313.82,229.96 L314.15,230.27 L314.48,230.62 L314.81,231.01 L315.14,231.43 L315.47,231.87 L315.8,232.33 L316.13,232.79 L316.46,233.25 L316.79,233.7 L317.12,234.13 L317.45,234.55 L317.78,234.96 L318.11,235.35 L318.44,235.74 L318.77,236.12 L319.1,236.5 L319.43,236.88 L319.76,237.26 L320.09,237.64 L320.42,238.03 L320.75,238.43 L321.08,238.84 L321.41,239.26 L321.74,239.69 L322.07,240.14 L322.4,240.62 L322.73,241.11 L323.06,241.63 L323.39,242.17 L323.72,242.74 L324.05,243.34 L324.38,243.97 L324.71,244.62 L325.04,245.3 L325.37,246 L325.69,246.73 L326.02,247.49 L326.35,248.27 L326.68,249.07 L327.01,249.9 L327.34,250.74 L327.67,251.62 L328,252.51 L328.33,253.42 L328.66,254.36 L328.99,255.29 L329.32,256.2 L329.65,257.08 L329.98,257.9 L330.31,258.66 L330.64,259.33 L330.97,259.89 L331.3,260.34 L331.63,260.64 L331.96,260.79 L332.29,260.78 L332.62,260.63 L332.95,260.35 L333.28,259.94 L333.61,259.41 L333.94,258.78 L334.27,258.05 L334.6,257.23 L334.93,256.33 L335.26,255.36 L335.59,254.33 L335.92,253.25 L336.25,252.13 L336.58,250.97 L336.91,249.8 L337.24,248.61 L337.57,247.41 L337.9,246.2 L338.23,244.99 L338.56,243.78 L338.89,242.57 L339.22,241.37 L339.55,240.17 L339.88,238.99 L340.21,237.81 L340.54,236.64 L340.87,235.46 L341.2,234.28 L341.53,233.07 L341.86,231.84 L342.19,230.58 L342.52,229.28 L342.85,227.94 L343.18,226.54 L343.51,225.09 L343.84,223.57 L344.17,221.97 L344.5,220.33 L344.83,218.67 L345.16,217.03 L345.49,215.43 L345.82,213.91 L346.15,212.5 L346.48,211.22 L346.81,210.12 L347.14,209.22 L347.47,208.56 L347.8,208.16 L348.13,208.06 L348.46,208.26 L348.79,208.74 L349.12,209.46 L349.44,210.38 L349.77,211.49 L350.1,212.74 L350.43,214.1 L350.76,215.55 L351.09,217.04 L351.42,218.55 L351.75,220.04 L352.08,221.48 L352.41,222.85 L352.74,224.15 L353.07,225.37 L353.4,226.55 L353.73,227.68 L354.06,228.77 L354.39,229.85 L354.72,230.91 L355.05,231.97 L355.38,233.04 L355.71,234.13 L356.04,235.25 L356.37,236.41 L356.7,237.6 L357.03,238.81 L357.36,240 L357.69,241.16 L358.02,242.25 L358.35,243.25 L358.68,244.14 L359.01,244.89 L359.34,245.48 L359.67,245.87 L360,246.08 L360.33,246.1 L360.66,245.96 L360.99,245.67 L361.32,245.25 L361.65,244.72 L361.98,244.09 L362.31,243.38 L362.64,242.62 L362.97,241.8 L363.3,240.96 L363.63,240.1 L363.96,239.25 L364.29,238.42 L364.62,237.63 L364.95,236.88 L365.28,236.18 L365.61,235.53 L365.94,234.91 L366.27,234.34 L366.6,233.81 L366.93,233.32 L367.26,232.86 L367.59,232.44 L367.92,232.05 L368.25,231.7 L368.58,231.38 L368.91,231.09 L369.24,230.83 L369.57,230.59 L369.9,230.38 L370.23,230.2 L370.56,230.04 L370.89,229.9 L371.22,229.78 L371.55,229.68 L371.88,229.6 L372.21,229.54 L372.54,229.5 L372.86,229.47 L373.19,229.45 L373.52,229.45 L373.85,229.47 L374.18,229.5 L374.51,229.54 L374.84,229.6 L375.17,229.67 L375.5,229.74 L375.83,229.84 L376.16,229.94 L376.49,230.05 L376.82,230.17 L377.15,230.3 L377.48,230.43 L377.81,230.58 L378.14,230.73 L378.47,230.89 L378.8,231.06 L379.13,231.23 L379.46,231.42 L379.79,231.61 L380.12,231.81 L380.45,232.03 L380.78,232.25 L381.11,232.48 L381.44,232.72 L381.77,232.97 L382.1,233.23 L382.43,233.5 L382.76,233.79 L383.09,234.08 L383.42,234.39 L383.75,234.71 L384.08,235.04 L384.41,235.39 L384.74,235.75 L385.07,236.12 L385.4,236.51 L385.73,236.91 L386.06,237.33 L386.39,237.76 L386.72,238.21 L387.05,238.67 L387.38,239.15 L387.71,239.65 L388.04,240.17 L388.37,240.7 L388.7,241.25 L389.03,241.83 L389.36,242.42 L389.69,243.03 L390.02,243.66 L390.35,244.31 L390.68,244.98 L391.01,245.67 L391.34,246.38 L391.67,247.12 L392,247.87 L392.33,248.65 L392.66,249.45 L392.99,250.27 L393.32,251.12 L393.65,251.98 L393.98,252.88 L394.31,253.79 L394.64,254.72 L394.97,255.64 L395.3,256.54 L395.63,257.4 L395.96,258.2 L396.28,258.93 L396.61,259.56 L396.94,260.08 L397.27,260.47 L397.6,260.72 L397.93,260.81 L398.26,260.75 L398.59,260.54 L398.92,260.21 L399.25,259.75 L399.58,259.18 L399.91,258.5 L400.24,257.74 L400.57,256.88 L400.9,255.95 L401.23,254.96 L401.56,253.91 L401.89,252.81 L402.22,251.67 L402.55,250.51 L402.88,249.32 L403.21,248.13 L403.54,246.92 L403.87,245.72 L404.2,244.51 L404.53,243.3 L404.86,242.09 L405.19,240.89 L405.52,239.7 L405.85,238.51 L406.18,237.34 L406.51,236.17 L406.84,234.99 L407.17,233.8 L407.5,232.58 L407.83,231.34 L408.16,230.07 L408.49,228.75 L408.82,227.39 L409.15,225.97 L409.48,224.49 L409.81,222.94 L410.14,221.32 L410.47,219.67 L410.8,218.01 L411.13,216.38 L411.46,214.81 L411.79,213.33 L412.12,211.97 L412.45,210.76 L412.78,209.74 L413.11,208.93 L413.44,208.37 L413.77,208.08 L414.1,208.11 L414.43,208.42 L414.76,209 L415.09,209.8 L415.42,210.81 L415.75,211.97 L416.08,213.27 L416.41,214.67 L416.74,216.14 L417.07,217.64 L417.4,219.15 L417.73,220.63 L418.06,222.04 L418.39,223.38 L418.72,224.64 L419.05,225.85 L419.38,227 L419.71,228.12 L420.03,229.21 L420.36,230.27 L420.69,231.34 L421.02,232.4 L421.35,233.47 L421.68,234.57 L422.01,235.71 L422.34,236.88 L422.67,238.09 L423,239.29 L423.33,240.47 L423.66,241.61 L423.99,242.66 L424.32,243.62 L424.65,244.46 L424.98,245.15 L425.31,245.66 L425.64,245.98 L425.97,246.1 L426.3,246.06 L426.63,245.86 L426.96,245.51 L427.29,245.05 L427.62,244.48 L427.95,243.82 L428.28,243.08 L428.61,242.29 L428.94,241.47 L429.27,240.62 L429.6,239.76 L429.93,238.92 L430.26,238.1 L430.59,237.33 L430.92,236.6 L431.25,235.92 L431.58,235.28 L431.91,234.68 L432.24,234.12 L432.57,233.61 L432.9,233.13 L433.23,232.69 L433.56,232.28 L433.89,231.91 L434.22,231.57 L434.55,231.26 L434.88,230.98 L435.21,230.73 L435.54,230.5 L435.87,230.31 L436.2,230.13 L436.53,229.98 L436.86,229.85 L437.19,229.74 L437.52,229.65 L437.85,229.58 L438.18,229.52 L438.51,229.48 L438.84,229.46 L439.17,229.45 L439.5,229.46 L439.83,229.48 L440.16,229.51 L440.49,229.56 L440.82,229.62 L441.15,229.7 L441.48,229.78 L441.81,229.87 L442.14,229.98 L442.47,230.09 L442.8,230.22 L443.13,230.35 L443.45,230.49 L443.78,230.64 L444.11,230.79 L444.44,230.96 L444.77,231.13 L445.1,231.31 L445.43,231.49 L445.76,231.69 L446.09,231.9 L446.42,232.11 L446.75,232.34 L447.08,232.57 L447.41,232.82 L447.74,233.07 L448.07,233.34 L448.4,233.62 L448.73,233.91 L449.06,234.21 L449.39,234.52 L449.72,234.84 L450.05,235.18 L450.38,235.53 L450.71,235.9 L451.04,236.27 L451.37,236.67 L451.7,237.07 L452.03,237.5 L452.36,237.94 L452.69,238.39 L453.02,238.86 L453.35,239.35 L453.68,239.86 L454.01,240.38 L454.34,240.92 L454.67,241.48 L455,242.06" fill="none" stroke="#2626dc" stroke-width="1.3" stroke-linejoin="round"/>
<path d="M290.4,235.59 L292.38,238.96 L288.42,238.96 Z" fill="#fff" stroke="#2626dc" stroke-width="0.85" stroke-linejoin="round"/>
<path d="M301.92,227.74 L303.9,231.1 L299.94,231.1 Z" fill="#fff" stroke="#2626dc" stroke-width="0.85" stroke-linejoin="round"/>
<path d="M313.44,227.7 L315.42,231.07 L311.46,231.07 Z" fill="#fff" stroke="#2626dc" stroke-width="0.85" stroke-linejoin="round"/>
<path d="M324.97,243.17 L326.95,246.54 L322.99,246.54 Z" fill="#fff" stroke="#2626dc" stroke-width="0.85" stroke-linejoin="round"/>
<path d="M336.49,249.32 L338.47,252.69 L334.51,252.69 Z" fill="#fff" stroke="#2626dc" stroke-width="0.85" stroke-linejoin="round"/>
<path d="M348.01,206.08 L349.99,209.45 L346.03,209.45 Z" fill="#fff" stroke="#2626dc" stroke-width="0.85" stroke-linejoin="round"/>
<path d="M359.53,243.75 L361.51,247.12 L357.55,247.12 Z" fill="#fff" stroke="#2626dc" stroke-width="0.85" stroke-linejoin="round"/>
<path d="M371.05,227.86 L373.03,231.22 L369.07,231.22 Z" fill="#fff" stroke="#2626dc" stroke-width="0.85" stroke-linejoin="round"/>
<path d="M382.58,231.65 L384.56,235.01 L380.6,235.01 Z" fill="#fff" stroke="#2626dc" stroke-width="0.85" stroke-linejoin="round"/>
<path d="M394.1,251.23 L396.08,254.6 L392.12,254.6 Z" fill="#fff" stroke="#2626dc" stroke-width="0.85" stroke-linejoin="round"/>
<path d="M405.62,237.36 L407.6,240.73 L403.64,240.73 Z" fill="#fff" stroke="#2626dc" stroke-width="0.85" stroke-linejoin="round"/>
<path d="M417.14,216.01 L419.12,219.38 L415.16,219.38 Z" fill="#fff" stroke="#2626dc" stroke-width="0.85" stroke-linejoin="round"/>
<path d="M428.66,240.18 L430.64,243.55 L426.68,243.55 Z" fill="#fff" stroke="#2626dc" stroke-width="0.85" stroke-linejoin="round"/>
<path d="M440.19,227.54 L442.17,230.9 L438.21,230.9 Z" fill="#fff" stroke="#2626dc" stroke-width="0.85" stroke-linejoin="round"/>
<path d="M451.71,235.1 L453.69,238.47 L449.73,238.47 Z" fill="#fff" stroke="#2626dc" stroke-width="0.85" stroke-linejoin="round"/>
<path d="M455,240.08 L456.98,243.45 L453.02,243.45 Z" fill="#fff" stroke="#2626dc" stroke-width="0.85" stroke-linejoin="round"/>
<path d="M290.4,254.03 V235.8" stroke="#76cf76" stroke-width="1.3"/>
<path d="M290.4,235.8 L290.73,236.51 L291.06,237.11 L291.39,237.61 L291.72,238.02 L292.05,238.33 L292.38,238.57 L292.71,238.72 L293.04,238.8 L293.37,238.81 L293.7,238.76 L294.03,238.66 L294.36,238.5 L294.69,238.3 L295.02,238.06 L295.35,237.79 L295.68,237.49 L296.01,237.17 L296.34,236.83 L296.67,236.48 L297,236.12 L297.33,235.77 L297.66,235.42 L297.99,235.08 L298.32,234.75 L298.65,234.45 L298.98,234.15 L299.31,233.88 L299.64,233.63 L299.97,233.4 L300.3,233.18 L300.63,233 L300.96,232.83 L301.29,232.69 L301.62,232.58 L301.95,232.49 L302.27,232.44 L302.6,232.4 L302.93,232.39 L303.26,232.4 L303.59,232.42 L303.92,232.46 L304.25,232.51 L304.58,232.56 L304.91,232.63 L305.24,232.7 L305.57,232.77 L305.9,232.84 L306.23,232.9 L306.56,232.96 L306.89,233.01 L307.22,233.05 L307.55,233.08 L307.88,233.09 L308.21,233.08 L308.54,233.07 L308.87,233.04 L309.2,233 L309.53,232.96 L309.86,232.92 L310.19,232.87 L310.52,232.83 L310.85,232.79 L311.18,232.76 L311.51,232.74 L311.84,232.73 L312.17,232.74 L312.5,232.76 L312.83,232.8 L313.16,232.87 L313.49,232.96 L313.82,233.08 L314.15,233.22 L314.48,233.37 L314.81,233.54 L315.14,233.71 L315.47,233.88 L315.8,234.04 L316.13,234.2 L316.46,234.34 L316.79,234.46 L317.12,234.56 L317.45,234.63 L317.78,234.69 L318.11,234.73 L318.44,234.77 L318.77,234.79 L319.1,234.8 L319.43,234.82 L319.76,234.83 L320.09,234.85 L320.42,234.88 L320.75,234.91 L321.08,234.96 L321.41,235.02 L321.74,235.1 L322.07,235.21 L322.4,235.34 L322.73,235.5 L323.06,235.69 L323.39,235.91 L323.72,236.18 L324.05,236.48 L324.38,236.83 L324.71,237.22 L325.04,237.67 L325.37,238.17 L325.69,238.7 L326.02,239.28 L326.35,239.88 L326.68,240.51 L327.01,241.15 L327.34,241.8 L327.67,242.44 L328,243.08 L328.33,243.7 L328.66,244.29 L328.99,244.86 L329.32,245.4 L329.65,245.89 L329.98,246.34 L330.31,246.74 L330.64,247.08 L330.97,247.36 L331.3,247.57 L331.63,247.71 L331.96,247.77 L332.29,247.75 L332.62,247.64 L332.95,247.46 L333.28,247.21 L333.61,246.91 L333.94,246.55 L334.27,246.14 L334.6,245.7 L334.93,245.23 L335.26,244.73 L335.59,244.21 L335.92,243.68 L336.25,243.15 L336.58,242.61 L336.91,242.07 L337.24,241.52 L337.57,240.96 L337.9,240.4 L338.23,239.83 L338.56,239.26 L338.89,238.68 L339.22,238.1 L339.55,237.51 L339.88,236.91 L340.21,236.32 L340.54,235.71 L340.87,235.11 L341.2,234.51 L341.53,233.92 L341.86,233.32 L342.19,232.73 L342.52,232.15 L342.85,231.57 L343.18,231.01 L343.51,230.46 L343.84,229.91 L344.17,229.39 L344.5,228.88 L344.83,228.39 L345.16,227.94 L345.49,227.52 L345.82,227.15 L346.15,226.82 L346.48,226.54 L346.81,226.33 L347.14,226.18 L347.47,226.1 L347.8,226.1 L348.13,226.19 L348.46,226.35 L348.79,226.59 L349.12,226.89 L349.44,227.25 L349.77,227.65 L350.1,228.08 L350.43,228.54 L350.76,229.01 L351.09,229.49 L351.42,229.96 L351.75,230.42 L352.08,230.86 L352.41,231.26 L352.74,231.63 L353.07,231.97 L353.4,232.3 L353.73,232.62 L354.06,232.93 L354.39,233.24 L354.72,233.55 L355.05,233.88 L355.38,234.23 L355.71,234.6 L356.04,235 L356.37,235.44 L356.7,235.91 L357.03,236.4 L357.36,236.9 L357.69,237.39 L358.02,237.86 L358.35,238.29 L358.68,238.68 L359.01,239 L359.34,239.24 L359.67,239.39 L360,239.45 L360.33,239.42 L360.66,239.31 L360.99,239.13 L361.32,238.89 L361.65,238.6 L361.98,238.26 L362.31,237.89 L362.64,237.5 L362.97,237.09 L363.3,236.67 L363.63,236.25 L363.96,235.85 L364.29,235.46 L364.62,235.1 L364.95,234.78 L365.28,234.48 L365.61,234.21 L365.94,233.97 L366.27,233.76 L366.6,233.57 L366.93,233.4 L367.26,233.26 L367.59,233.13 L367.92,233.03 L368.25,232.94 L368.58,232.87 L368.91,232.81 L369.24,232.76 L369.57,232.73 L369.9,232.71 L370.23,232.69 L370.56,232.68 L370.89,232.68 L371.22,232.67 L371.55,232.68 L371.88,232.68 L372.21,232.68 L372.54,232.69 L372.86,232.69 L373.19,232.7 L373.52,232.71 L373.85,232.73 L374.18,232.75 L374.51,232.77 L374.84,232.79 L375.17,232.82 L375.5,232.86 L375.83,232.9 L376.16,232.94 L376.49,232.99 L376.82,233.05 L377.15,233.11 L377.48,233.18 L377.81,233.26 L378.14,233.35 L378.47,233.44 L378.8,233.53 L379.13,233.63 L379.46,233.72 L379.79,233.82 L380.12,233.92 L380.45,234.01 L380.78,234.1 L381.11,234.18 L381.44,234.26 L381.77,234.32 L382.1,234.38 L382.43,234.43 L382.76,234.46 L383.09,234.48 L383.42,234.5 L383.75,234.5 L384.08,234.5 L384.41,234.5 L384.74,234.5 L385.07,234.5 L385.4,234.51 L385.73,234.53 L386.06,234.55 L386.39,234.59 L386.72,234.65 L387.05,234.72 L387.38,234.81 L387.71,234.92 L388.04,235.07 L388.37,235.23 L388.7,235.43 L389.03,235.66 L389.36,235.93 L389.69,236.23 L390.02,236.57 L390.35,236.96 L390.68,237.39 L391.01,237.87 L391.34,238.39 L391.67,238.95 L392,239.54 L392.33,240.15 L392.66,240.78 L392.99,241.42 L393.32,242.06 L393.65,242.7 L393.98,243.33 L394.31,243.94 L394.64,244.52 L394.97,245.08 L395.3,245.59 L395.63,246.07 L395.96,246.5 L396.28,246.88 L396.61,247.2 L396.94,247.45 L397.27,247.64 L397.6,247.74 L397.93,247.77 L398.26,247.71 L398.59,247.58 L398.92,247.37 L399.25,247.1 L399.58,246.77 L399.91,246.39 L400.24,245.97 L400.57,245.51 L400.9,245.03 L401.23,244.52 L401.56,244 L401.89,243.47 L402.22,242.93 L402.55,242.39 L402.88,241.85 L403.21,241.3 L403.54,240.74 L403.87,240.17 L404.2,239.61 L404.53,239.03 L404.86,238.45 L405.19,237.86 L405.52,237.27 L405.85,236.68 L406.18,236.08 L406.51,235.47 L406.84,234.87 L407.17,234.27 L407.5,233.68 L407.83,233.08 L408.16,232.5 L408.49,231.92 L408.82,231.35 L409.15,230.79 L409.48,230.24 L409.81,229.7 L410.14,229.18 L410.47,228.68 L410.8,228.21 L411.13,227.77 L411.46,227.37 L411.79,227.01 L412.12,226.7 L412.45,226.45 L412.78,226.26 L413.11,226.14 L413.44,226.09 L413.77,226.13 L414.1,226.24 L414.43,226.44 L414.76,226.7 L415.09,227.03 L415.42,227.4 L415.75,227.82 L416.08,228.26 L416.41,228.73 L416.74,229.2 L417.07,229.68 L417.4,230.15 L417.73,230.6 L418.06,231.02 L418.39,231.41 L418.72,231.77 L419.05,232.11 L419.38,232.43 L419.71,232.74 L420.03,233.05 L420.36,233.36 L420.69,233.68 L421.02,234.02 L421.35,234.38 L421.68,234.76 L422.01,235.17 L422.34,235.62 L422.67,236.11 L423,236.6 L423.33,237.1 L423.66,237.58 L423.99,238.04 L424.32,238.45 L424.65,238.81 L424.98,239.11 L425.31,239.31 L425.64,239.42 L425.97,239.44 L426.3,239.38 L426.63,239.24 L426.96,239.04 L427.29,238.78 L427.62,238.47 L427.95,238.12 L428.28,237.74 L428.61,237.34 L428.94,236.92 L429.27,236.5 L429.6,236.09 L429.93,235.69 L430.26,235.31 L430.59,234.97 L430.92,234.65 L431.25,234.37 L431.58,234.11 L431.91,233.88 L432.24,233.68 L432.57,233.5 L432.9,233.34 L433.23,233.21 L433.56,233.09 L433.89,232.99 L434.22,232.91 L434.55,232.84 L434.88,232.79 L435.21,232.75 L435.54,232.72 L435.87,232.7 L436.2,232.68 L436.53,232.68 L436.86,232.67 L437.19,232.67 L437.52,232.68 L437.85,232.68 L438.18,232.68 L438.51,232.69 L438.84,232.7 L439.17,232.71 L439.5,232.72 L439.83,232.74 L440.16,232.75 L440.49,232.78 L440.82,232.8 L441.15,232.84 L441.48,232.87 L441.81,232.91 L442.14,232.96 L442.47,233.02 L442.8,233.07 L443.13,233.14 L443.45,233.21 L443.78,233.3 L444.11,233.38 L444.44,233.47 L444.77,233.57 L445.1,233.67 L445.43,233.76 L445.76,233.86 L446.09,233.95 L446.42,234.05 L446.75,234.13 L447.08,234.21 L447.41,234.29 L447.74,234.35 L448.07,234.4 L448.4,234.44 L448.73,234.47 L449.06,234.49 L449.39,234.5 L449.72,234.5 L450.05,234.5 L450.38,234.5 L450.71,234.5 L451.04,234.5 L451.37,234.52 L451.7,234.53 L452.03,234.57 L452.36,234.61 L452.69,234.67 L453.02,234.75 L453.35,234.85 L453.68,234.98 L454.01,235.13 L454.34,235.31 L454.67,235.52 L455,235.76" fill="none" stroke="#76cf76" stroke-width="1.3" stroke-linejoin="round"/>
<path d="M290.4,237.78 L292.38,234.42 L288.42,234.42 Z" fill="#fff" stroke="#76cf76" stroke-width="0.85" stroke-linejoin="round"/>
<path d="M301.92,234.48 L303.9,231.11 L299.94,231.11 Z" fill="#fff" stroke="#76cf76" stroke-width="0.85" stroke-linejoin="round"/>
<path d="M313.44,234.93 L315.42,231.56 L311.46,231.56 Z" fill="#fff" stroke="#76cf76" stroke-width="0.85" stroke-linejoin="round"/>
<path d="M324.97,239.55 L326.95,236.19 L322.99,236.19 Z" fill="#fff" stroke="#76cf76" stroke-width="0.85" stroke-linejoin="round"/>
<path d="M336.49,244.74 L338.47,241.38 L334.51,241.38 Z" fill="#fff" stroke="#76cf76" stroke-width="0.85" stroke-linejoin="round"/>
<path d="M348.01,228.13 L349.99,224.76 L346.03,224.76 Z" fill="#fff" stroke="#76cf76" stroke-width="0.85" stroke-linejoin="round"/>
<path d="M359.53,241.32 L361.51,237.95 L357.55,237.95 Z" fill="#fff" stroke="#76cf76" stroke-width="0.85" stroke-linejoin="round"/>
<path d="M371.05,234.65 L373.03,231.29 L369.07,231.29 Z" fill="#fff" stroke="#76cf76" stroke-width="0.85" stroke-linejoin="round"/>
<path d="M382.58,236.42 L384.56,233.06 L380.6,233.06 Z" fill="#fff" stroke="#76cf76" stroke-width="0.85" stroke-linejoin="round"/>
<path d="M394.1,245.54 L396.08,242.17 L392.12,242.17 Z" fill="#fff" stroke="#76cf76" stroke-width="0.85" stroke-linejoin="round"/>
<path d="M405.62,239.07 L407.6,235.71 L403.64,235.71 Z" fill="#fff" stroke="#76cf76" stroke-width="0.85" stroke-linejoin="round"/>
<path d="M417.14,231.77 L419.12,228.4 L415.16,228.4 Z" fill="#fff" stroke="#76cf76" stroke-width="0.85" stroke-linejoin="round"/>
<path d="M428.66,239.25 L430.64,235.88 L426.68,235.88 Z" fill="#fff" stroke="#76cf76" stroke-width="0.85" stroke-linejoin="round"/>
<path d="M440.19,234.74 L442.17,231.37 L438.21,231.37 Z" fill="#fff" stroke="#76cf76" stroke-width="0.85" stroke-linejoin="round"/>
<path d="M451.71,236.52 L453.69,233.15 L449.73,233.15 Z" fill="#fff" stroke="#76cf76" stroke-width="0.85" stroke-linejoin="round"/>
<path d="M455,237.74 L456.98,234.38 L453.02,234.38 Z" fill="#fff" stroke="#76cf76" stroke-width="0.85" stroke-linejoin="round"/>
<rect x="512.5" y="179.5" width="165" height="95" fill="none" stroke="#7c7c7c" stroke-width="1"/>
<path d="M512.5,274.5 v3 M528.5,274.5 v2 M545.5,274.5 v3 M561.5,274.5 v2 M578.5,274.5 v3 M594.5,274.5 v2 M611.5,274.5 v3 M627.5,274.5 v2 M644.5,274.5 v3 M660.5,274.5 v2 M677.5,274.5 v3 M512.5,179.5 h-3 M512.5,198.5 h-3 M512.5,217.5 h-3 M512.5,236.5 h-3 M512.5,255.5 h-3 M512.5,274.5 h-3" stroke="#7c7c7c" stroke-width="1" fill="none"/>
<text x="512.5" y="289.5" font-size="12.4" text-anchor="middle" fill="#1a1a1a">0</text>
<text x="545.4" y="289.5" font-size="12.4" text-anchor="middle" fill="#1a1a1a">2</text>
<text x="578.3" y="289.5" font-size="12.4" text-anchor="middle" fill="#1a1a1a">4</text>
<text x="611.2" y="289.5" font-size="12.4" text-anchor="middle" fill="#1a1a1a">6</text>
<text x="644.1" y="289.5" font-size="12.4" text-anchor="middle" fill="#1a1a1a">8</text>
<text x="677" y="289.5" font-size="12.4" text-anchor="middle" fill="#1a1a1a">10</text>
<text x="506.8" y="183.32" font-size="12" text-anchor="end" fill="#1a1a1a">12</text>
<text x="506.8" y="202.28" font-size="12" text-anchor="end" fill="#1a1a1a">8</text>
<text x="506.8" y="221.24" font-size="12" text-anchor="end" fill="#1a1a1a">4</text>
<text x="506.8" y="240.2" font-size="12" text-anchor="end" fill="#1a1a1a">0</text>
<text x="506.8" y="259.16" font-size="12" text-anchor="end" fill="#1a1a1a">-4</text>
<text x="506.8" y="278.12" font-size="12" text-anchor="end" fill="#1a1a1a">-8</text>
<text x="487" y="221.4" font-size="12.4" text-anchor="middle" fill="#1a1a1a" transform="rotate(-90 487 221.4)">Force(N)</text>
<text x="597.2" y="308" font-size="12.5" text-anchor="middle" fill="#1a1a1a">simulation time(s)</text>
<text x="597" y="322" font-size="12.2" text-anchor="middle" fill="#1a1a1a">(f)</text>
<path d="M512.5,256.88 L513.65,236.5 L513.82,237.46 L514.15,238.98 L514.48,240.04 L514.81,240.66 L515.14,240.89 L515.47,240.76 L515.8,240.3 L516.13,239.56 L516.46,238.56 L516.79,237.35 L517.12,235.95 L517.44,234.41 L517.77,232.76 L518.1,231.03 L518.43,229.27 L518.76,227.5 L519.09,225.76 L519.42,224.09 L519.75,222.53 L520.08,221.1 L520.41,219.85 L520.74,218.81 L521.07,217.94 L521.4,217.25 L521.73,216.7 L522.06,216.28 L522.39,215.97 L522.72,215.74 L523.05,215.57 L523.38,215.46 L523.71,215.36 L524.04,215.27 L524.37,215.16 L524.7,215.02 L525.03,214.85 L525.36,214.65 L525.69,214.42 L526.02,214.16 L526.35,213.88 L526.68,213.59 L527.01,213.27 L527.33,212.95 L527.66,212.61 L527.99,212.26 L528.32,211.91 L528.65,211.55 L528.98,211.2 L529.31,210.84 L529.64,210.49 L529.97,210.15 L530.3,209.82 L530.63,209.5 L530.96,209.2 L531.29,208.91 L531.62,208.65 L531.95,208.41 L532.28,208.2 L532.61,208.01 L532.94,207.86 L533.27,207.74 L533.6,207.66 L533.93,207.61 L534.26,207.61 L534.59,207.66 L534.92,207.75 L535.25,207.89 L535.58,208.09 L535.91,208.34 L536.24,208.65 L536.57,209.01 L536.89,209.42 L537.22,209.88 L537.55,210.39 L537.88,210.95 L538.21,211.56 L538.54,212.21 L538.87,212.92 L539.2,213.66 L539.53,214.45 L539.86,215.28 L540.19,216.14 L540.52,217.04 L540.85,217.98 L541.18,218.94 L541.51,219.93 L541.84,220.95 L542.17,222 L542.5,223.06 L542.83,224.14 L543.16,225.22 L543.49,226.3 L543.82,227.38 L544.15,228.44 L544.48,229.48 L544.81,230.5 L545.14,231.48 L545.47,232.42 L545.8,233.33 L546.13,234.27 L546.45,235.31 L546.78,236.51 L547.11,237.93 L547.44,239.64 L547.77,241.62 L548.1,243.82 L548.43,246.18 L548.76,248.64 L549.09,251.16 L549.42,253.68 L549.75,256.14 L550.08,258.5 L550.41,260.69 L550.74,262.68 L551.07,264.47 L551.4,266.07 L551.73,267.48 L552.06,268.72 L552.39,269.78 L552.72,270.68 L553.05,271.42 L553.38,272 L553.71,272.44 L554.04,272.73 L554.37,272.89 L554.7,272.91 L555.03,272.78 L555.36,272.52 L555.69,272.11 L556.02,271.56 L556.34,270.87 L556.67,270.04 L557,269.06 L557.33,267.94 L557.66,266.67 L557.99,265.25 L558.32,263.7 L558.65,261.99 L558.98,260.14 L559.31,258.14 L559.64,256.02 L559.97,253.79 L560.3,251.47 L560.63,249.07 L560.96,246.61 L561.29,244.11 L561.62,241.59 L561.95,239.06 L562.28,236.53 L562.61,234.01 L562.94,231.5 L563.27,229 L563.6,226.51 L563.93,224.05 L564.26,221.6 L564.59,219.18 L564.92,216.78 L565.25,214.42 L565.58,212.08 L565.9,209.8 L566.23,207.58 L566.56,205.43 L566.89,203.36 L567.22,201.4 L567.55,199.55 L567.88,197.82 L568.21,196.23 L568.54,194.79 L568.87,193.51 L569.2,192.41 L569.53,191.48 L569.86,190.74 L570.19,190.2 L570.52,189.87 L570.85,189.75 L571.18,189.86 L571.51,190.2 L571.84,190.73 L572.17,191.39 L572.5,192.17 L572.83,193.07 L573.16,194.09 L573.49,195.21 L573.82,196.44 L574.15,197.78 L574.48,199.22 L574.81,200.75 L575.14,202.39 L575.46,204.11 L575.79,205.92 L576.12,207.82 L576.45,209.8 L576.78,211.86 L577.11,214 L577.44,216.21 L577.77,218.49 L578.1,220.84 L578.43,223.25 L578.76,225.7 L579.09,228.15 L579.42,230.55 L579.75,232.85 L580.08,235.01 L580.41,236.97 L580.74,238.7 L581.07,240.14 L581.4,241.24 L581.73,241.97 L582.06,242.31 L582.39,242.28 L582.72,241.92 L583.05,241.27 L583.38,240.35 L583.71,239.19 L584.04,237.83 L584.37,236.3 L584.7,234.63 L585.03,232.85 L585.35,231 L585.68,229.1 L586.01,227.18 L586.34,225.29 L586.67,223.45 L587,221.69 L587.33,220.05 L587.66,218.55 L587.99,217.22 L588.32,216.06 L588.65,215.06 L588.98,214.2 L589.31,213.47 L589.64,212.86 L589.97,212.36 L590.3,211.95 L590.63,211.63 L590.96,211.38 L591.29,211.18 L591.62,211.03 L591.95,210.92 L592.28,210.83 L592.61,210.74 L592.94,210.66 L593.27,210.56 L593.6,210.43 L593.93,210.27 L594.26,210.07 L594.59,209.85 L594.91,209.6 L595.24,209.33 L595.57,209.05 L595.9,208.76 L596.23,208.47 L596.56,208.18 L596.89,207.89 L597.22,207.62 L597.55,207.36 L597.88,207.13 L598.21,206.92 L598.54,206.75 L598.87,206.61 L599.2,206.51 L599.53,206.46 L599.86,206.46 L600.19,206.52 L600.52,206.64 L600.85,206.83 L601.18,207.08 L601.51,207.4 L601.84,207.77 L602.17,208.19 L602.5,208.67 L602.83,209.2 L603.16,209.77 L603.49,210.39 L603.82,211.05 L604.15,211.74 L604.47,212.47 L604.8,213.23 L605.13,214.02 L605.46,214.84 L605.79,215.69 L606.12,216.57 L606.45,217.47 L606.78,218.41 L607.11,219.37 L607.44,220.36 L607.77,221.37 L608.1,222.41 L608.43,223.47 L608.76,224.55 L609.09,225.63 L609.42,226.72 L609.75,227.79 L610.08,228.85 L610.41,229.89 L610.74,230.89 L611.07,231.86 L611.4,232.78 L611.73,233.7 L612.06,234.67 L612.39,235.77 L612.72,237.05 L613.05,238.58 L613.38,240.4 L613.71,242.48 L614.04,244.74 L614.36,247.15 L614.69,249.64 L615.02,252.17 L615.35,254.67 L615.68,257.1 L616.01,259.4 L616.34,261.51 L616.67,263.42 L617,265.13 L617.33,266.66 L617.66,268 L617.99,269.16 L618.32,270.16 L618.65,270.99 L618.98,271.67 L619.31,272.19 L619.64,272.57 L619.97,272.81 L620.3,272.91 L620.63,272.87 L620.96,272.69 L621.29,272.37 L621.62,271.91 L621.95,271.3 L622.28,270.56 L622.61,269.66 L622.94,268.63 L623.27,267.45 L623.6,266.12 L623.92,264.65 L624.25,263.03 L624.58,261.27 L624.91,259.35 L625.24,257.31 L625.57,255.14 L625.9,252.87 L626.23,250.52 L626.56,248.09 L626.89,245.62 L627.22,243.11 L627.55,240.58 L627.88,238.05 L628.21,235.52 L628.54,233 L628.87,230.49 L629.2,228 L629.53,225.52 L629.86,223.07 L630.19,220.63 L630.52,218.22 L630.85,215.83 L631.18,213.48 L631.51,211.16 L631.84,208.9 L632.17,206.71 L632.5,204.59 L632.83,202.57 L633.16,200.64 L633.48,198.84 L633.81,197.17 L634.14,195.64 L634.47,194.26 L634.8,193.05 L635.13,192.01 L635.46,191.16 L635.79,190.5 L636.12,190.04 L636.45,189.79 L636.78,189.76 L637.11,189.96 L637.44,190.39 L637.77,190.98 L638.1,191.69 L638.43,192.52 L638.76,193.47 L639.09,194.52 L639.42,195.69 L639.75,196.97 L640.08,198.34 L640.41,199.82 L640.74,201.4 L641.07,203.07 L641.4,204.82 L641.73,206.67 L642.06,208.6 L642.39,210.62 L642.72,212.71 L643.05,214.88 L643.37,217.12 L643.7,219.42 L644.03,221.8 L644.36,224.23 L644.69,226.69 L645.02,229.12 L645.35,231.49 L645.68,233.74 L646.01,235.82 L646.34,237.69 L646.67,239.31 L647,240.62 L647.33,241.58 L647.66,242.15 L647.99,242.34 L648.32,242.18 L648.65,241.7 L648.98,240.93 L649.31,239.91 L649.64,238.67 L649.97,237.24 L650.3,235.65 L650.63,233.93 L650.96,232.12 L651.29,230.24 L651.62,228.33 L651.95,226.42 L652.28,224.55 L652.61,222.73 L652.93,221.02 L653.26,219.43 L653.59,218 L653.92,216.74 L654.25,215.64 L654.58,214.7 L654.91,213.89 L655.24,213.22 L655.57,212.65 L655.9,212.19 L656.23,211.82 L656.56,211.52 L656.89,211.29 L657.22,211.12 L657.55,210.98 L657.88,210.88 L658.21,210.79 L658.54,210.71 L658.87,210.62 L659.2,210.51 L659.53,210.37 L659.86,210.19 L660.19,209.99 L660.52,209.75 L660.85,209.49 L661.18,209.22 L661.51,208.94 L661.84,208.64 L662.17,208.35 L662.49,208.06 L662.82,207.78 L663.15,207.51 L663.48,207.27 L663.81,207.04 L664.14,206.85 L664.47,206.69 L664.8,206.56 L665.13,206.48 L665.46,206.45 L665.79,206.48 L666.12,206.56 L666.45,206.71 L666.78,206.92 L667.11,207.2 L667.44,207.54 L667.77,207.93 L668.1,208.38 L668.43,208.88 L668.76,209.42 L669.09,210.01 L669.42,210.65 L669.75,211.32 L670.08,212.03 L670.41,212.77 L670.74,213.54 L671.07,214.34 L671.4,215.18 L671.73,216.04 L672.06,216.93 L672.38,217.84 L672.71,218.79 L673.04,219.76 L673.37,220.76 L673.7,221.79 L674.03,222.84 L674.36,223.9 L674.69,224.98 L675.02,226.07 L675.35,227.15 L675.68,228.22 L676.01,229.27 L676.34,230.29 L676.67,231.28 L677,232.23" fill="none" stroke="#e23c42" stroke-width="1.3" stroke-linejoin="round"/>
<circle cx="512.5" cy="256.88" r="1.65" fill="#fff" stroke="#e23c42" stroke-width="0.85"/>
<circle cx="524.01" cy="215.28" r="1.65" fill="#fff" stroke="#e23c42" stroke-width="0.85"/>
<circle cx="535.53" cy="208.06" r="1.65" fill="#fff" stroke="#e23c42" stroke-width="0.85"/>
<circle cx="547.04" cy="237.61" r="1.65" fill="#fff" stroke="#e23c42" stroke-width="0.85"/>
<circle cx="558.56" cy="262.48" r="1.65" fill="#fff" stroke="#e23c42" stroke-width="0.85"/>
<circle cx="570.08" cy="190.37" r="1.65" fill="#fff" stroke="#e23c42" stroke-width="0.85"/>
<circle cx="581.59" cy="241.71" r="1.65" fill="#fff" stroke="#e23c42" stroke-width="0.85"/>
<circle cx="593.11" cy="210.61" r="1.65" fill="#fff" stroke="#e23c42" stroke-width="0.85"/>
<circle cx="604.62" cy="212.8" r="1.65" fill="#fff" stroke="#e23c42" stroke-width="0.85"/>
<circle cx="616.13" cy="260.2" r="1.65" fill="#fff" stroke="#e23c42" stroke-width="0.85"/>
<circle cx="627.65" cy="239.82" r="1.65" fill="#fff" stroke="#e23c42" stroke-width="0.85"/>
<circle cx="639.16" cy="194.78" r="1.65" fill="#fff" stroke="#e23c42" stroke-width="0.85"/>
<circle cx="650.68" cy="233.64" r="1.65" fill="#fff" stroke="#e23c42" stroke-width="0.85"/>
<circle cx="662.19" cy="208.33" r="1.65" fill="#fff" stroke="#e23c42" stroke-width="0.85"/>
<circle cx="673.71" cy="221.81" r="1.65" fill="#fff" stroke="#e23c42" stroke-width="0.85"/>
<circle cx="677" cy="232.23" r="1.65" fill="#fff" stroke="#e23c42" stroke-width="0.85"/>
<path d="M512.5,260.2 L513.32,246.45 L513.49,247.6 L513.82,249.53 L514.15,251.01 L514.48,252.07 L514.81,252.76 L515.14,253.08 L515.47,253.09 L515.8,252.79 L516.13,252.24 L516.46,251.44 L516.79,250.44 L517.12,249.25 L517.44,247.93 L517.77,246.48 L518.1,244.94 L518.43,243.34 L518.76,241.71 L519.09,240.08 L519.42,238.48 L519.75,236.93 L520.08,235.47 L520.41,234.13 L520.74,232.94 L521.07,231.91 L521.4,231.1 L521.73,230.48 L522.06,230.05 L522.39,229.77 L522.72,229.61 L523.05,229.56 L523.38,229.59 L523.71,229.66 L524.04,229.77 L524.37,229.87 L524.7,229.96 L525.03,230.02 L525.36,230.07 L525.69,230.1 L526.02,230.12 L526.35,230.12 L526.68,230.11 L527.01,230.09 L527.33,230.06 L527.66,230.03 L527.99,229.99 L528.32,229.95 L528.65,229.91 L528.98,229.86 L529.31,229.83 L529.64,229.79 L529.97,229.76 L530.3,229.74 L530.63,229.73 L530.96,229.73 L531.29,229.75 L531.62,229.78 L531.95,229.83 L532.28,229.89 L532.61,229.98 L532.94,230.08 L533.27,230.21 L533.6,230.37 L533.93,230.56 L534.26,230.77 L534.59,231.01 L534.92,231.29 L535.25,231.6 L535.58,231.95 L535.91,232.34 L536.24,232.75 L536.57,233.2 L536.89,233.66 L537.22,234.14 L537.55,234.63 L537.88,235.12 L538.21,235.61 L538.54,236.1 L538.87,236.57 L539.2,237.03 L539.53,237.48 L539.86,237.91 L540.19,238.34 L540.52,238.75 L540.85,239.17 L541.18,239.58 L541.51,239.99 L541.84,240.4 L542.17,240.82 L542.5,241.24 L542.83,241.68 L543.16,242.13 L543.49,242.58 L543.82,243.06 L544.15,243.56 L544.48,244.07 L544.81,244.61 L545.14,245.17 L545.47,245.77 L545.8,246.39 L546.13,247.04 L546.45,247.73 L546.78,248.46 L547.11,249.23 L547.44,250.03 L547.77,250.88 L548.1,251.77 L548.43,252.69 L548.76,253.66 L549.09,254.66 L549.42,255.7 L549.75,256.78 L550.08,257.9 L550.41,259.05 L550.74,260.23 L551.07,261.41 L551.4,262.59 L551.73,263.73 L552.06,264.82 L552.39,265.82 L552.72,266.73 L553.05,267.52 L553.38,268.16 L553.71,268.64 L554.04,268.94 L554.37,269.04 L554.7,268.95 L555.03,268.68 L555.36,268.21 L555.69,267.56 L556.02,266.73 L556.34,265.7 L556.67,264.5 L557,263.1 L557.33,261.53 L557.66,259.77 L557.99,257.84 L558.32,255.72 L558.65,253.42 L558.98,250.94 L559.31,248.29 L559.64,245.48 L559.97,242.55 L560.3,239.55 L560.63,236.54 L560.96,233.57 L561.29,230.67 L561.62,227.9 L561.95,225.32 L562.28,222.93 L562.61,220.74 L562.94,218.71 L563.27,216.84 L563.6,215.09 L563.93,213.45 L564.26,211.91 L564.59,210.43 L564.92,209.01 L565.25,207.62 L565.58,206.25 L565.9,204.91 L566.23,203.61 L566.56,202.34 L566.89,201.13 L567.22,199.97 L567.55,198.87 L567.88,197.85 L568.21,196.89 L568.54,196.03 L568.87,195.25 L569.2,194.57 L569.53,194.05 L569.86,193.88 L570.19,194.21 L570.52,195.24 L570.85,196.98 L571.18,199.3 L571.51,202.01 L571.84,204.95 L572.17,207.95 L572.5,210.83 L572.83,213.42 L573.16,215.56 L573.49,217.07 L573.82,217.96 L574.15,218.47 L574.48,218.86 L574.81,219.39 L575.14,220.33 L575.46,221.78 L575.79,223.67 L576.12,225.93 L576.45,228.45 L576.78,231.17 L577.11,233.98 L577.44,236.81 L577.77,239.57 L578.1,242.16 L578.43,244.52 L578.76,246.58 L579.09,248.36 L579.42,249.87 L579.75,251.11 L580.08,252.09 L580.41,252.83 L580.74,253.32 L581.07,253.59 L581.4,253.63 L581.73,253.47 L582.06,253.11 L582.39,252.56 L582.72,251.86 L583.05,251.03 L583.38,250.07 L583.71,249.02 L584.04,247.88 L584.37,246.69 L584.7,245.47 L585.03,244.22 L585.35,242.97 L585.68,241.75 L586.01,240.57 L586.34,239.45 L586.67,238.41 L587,237.47 L587.33,236.61 L587.66,235.83 L587.99,235.13 L588.32,234.51 L588.65,233.96 L588.98,233.48 L589.31,233.07 L589.64,232.71 L589.97,232.41 L590.3,232.17 L590.63,231.97 L590.96,231.82 L591.29,231.7 L591.62,231.63 L591.95,231.59 L592.28,231.58 L592.61,231.6 L592.94,231.63 L593.27,231.69 L593.6,231.76 L593.93,231.84 L594.26,231.93 L594.59,232.03 L594.91,232.14 L595.24,232.26 L595.57,232.38 L595.9,232.51 L596.23,232.64 L596.56,232.78 L596.89,232.92 L597.22,233.06 L597.55,233.21 L597.88,233.35 L598.21,233.5 L598.54,233.64 L598.87,233.79 L599.2,233.93 L599.53,234.07 L599.86,234.2 L600.19,234.33 L600.52,234.46 L600.85,234.59 L601.18,234.72 L601.51,234.85 L601.84,234.99 L602.17,235.13 L602.5,235.28 L602.83,235.44 L603.16,235.6 L603.49,235.78 L603.82,235.97 L604.15,236.18 L604.47,236.4 L604.8,236.64 L605.13,236.89 L605.46,237.17 L605.79,237.46 L606.12,237.77 L606.45,238.1 L606.78,238.46 L607.11,238.83 L607.44,239.22 L607.77,239.64 L608.1,240.08 L608.43,240.54 L608.76,241.02 L609.09,241.53 L609.42,242.06 L609.75,242.61 L610.08,243.19 L610.41,243.79 L610.74,244.42 L611.07,245.07 L611.4,245.75 L611.73,246.46 L612.06,247.19 L612.39,247.96 L612.72,248.75 L613.05,249.56 L613.38,250.41 L613.71,251.29 L614.04,252.19 L614.36,253.13 L614.69,254.11 L615.02,255.12 L615.35,256.16 L615.68,257.24 L616.01,258.36 L616.34,259.51 L616.67,260.69 L617,261.87 L617.33,263.03 L617.66,264.15 L617.99,265.21 L618.32,266.19 L618.65,267.05 L618.98,267.79 L619.31,268.37 L619.64,268.78 L619.97,269 L620.3,269.03 L620.63,268.87 L620.96,268.52 L621.29,267.99 L621.62,267.26 L621.95,266.35 L622.28,265.25 L622.61,263.97 L622.94,262.5 L623.27,260.85 L623.6,259.02 L623.92,257.01 L624.25,254.82 L624.58,252.45 L624.91,249.9 L625.24,247.18 L625.57,244.31 L625.9,241.35 L626.23,238.35 L626.56,235.35 L626.89,232.39 L627.22,229.55 L627.55,226.85 L627.88,224.34 L628.21,222.04 L628.54,219.91 L628.87,217.95 L629.2,216.12 L629.53,214.42 L629.86,212.82 L630.19,211.31 L630.52,209.86 L630.85,208.45 L631.18,207.07 L631.51,205.71 L631.84,204.38 L632.17,203.09 L632.5,201.85 L632.83,200.66 L633.16,199.52 L633.48,198.45 L633.81,197.46 L634.14,196.54 L634.47,195.7 L634.8,194.96 L635.13,194.33 L635.46,193.93 L635.79,193.94 L636.12,194.53 L636.45,195.85 L636.78,197.85 L637.11,200.34 L637.44,203.17 L637.77,206.15 L638.1,209.12 L638.43,211.91 L638.76,214.34 L639.09,216.25 L639.42,217.49 L639.75,218.19 L640.08,218.63 L640.41,219.04 L640.74,219.71 L641.07,220.85 L641.4,222.49 L641.73,224.54 L642.06,226.91 L642.39,229.52 L642.72,232.29 L643.05,235.12 L643.37,237.93 L643.7,240.63 L644.03,243.14 L644.36,245.38 L644.69,247.33 L645.02,249 L645.35,250.39 L645.68,251.53 L646.01,252.41 L646.34,253.05 L646.67,253.46 L647,253.63 L647.33,253.59 L647.66,253.35 L647.99,252.91 L648.32,252.3 L648.65,251.54 L648.98,250.66 L649.31,249.66 L649.64,248.57 L649.97,247.41 L650.3,246.21 L650.63,244.97 L650.96,243.72 L651.29,242.48 L651.62,241.27 L651.95,240.11 L652.28,239.03 L652.61,238.02 L652.93,237.11 L653.26,236.29 L653.59,235.54 L653.92,234.88 L654.25,234.29 L654.58,233.76 L654.91,233.31 L655.24,232.92 L655.57,232.59 L655.9,232.31 L656.23,232.08 L656.56,231.9 L656.89,231.77 L657.22,231.67 L657.55,231.61 L657.88,231.58 L658.21,231.58 L658.54,231.61 L658.87,231.65 L659.2,231.72 L659.53,231.79 L659.86,231.88 L660.19,231.97 L660.52,232.07 L660.85,232.19 L661.18,232.3 L661.51,232.43 L661.84,232.56 L662.17,232.69 L662.49,232.83 L662.82,232.97 L663.15,233.12 L663.48,233.26 L663.81,233.41 L664.14,233.56 L664.47,233.7 L664.8,233.84 L665.13,233.98 L665.46,234.12 L665.79,234.25 L666.12,234.38 L666.45,234.51 L666.78,234.64 L667.11,234.77 L667.44,234.91 L667.77,235.04 L668.1,235.19 L668.43,235.34 L668.76,235.5 L669.09,235.67 L669.42,235.85 L669.75,236.05 L670.08,236.26 L670.41,236.49 L670.74,236.74 L671.07,237 L671.4,237.28 L671.73,237.58 L672.06,237.91 L672.38,238.25 L672.71,238.61 L673.04,238.99 L673.37,239.39 L673.7,239.82 L674.03,240.27 L674.36,240.74 L674.69,241.23 L675.02,241.74 L675.35,242.28 L675.68,242.85 L676.01,243.43 L676.34,244.05 L676.67,244.69 L677,245.35" fill="none" stroke="#2626dc" stroke-width="1.3" stroke-linejoin="round"/>
<path d="M512.5,258.22 L514.48,261.59 L510.52,261.59 Z" fill="#fff" stroke="#2626dc" stroke-width="0.85" stroke-linejoin="round"/>
<path d="M524.01,227.78 L526,231.14 L522.03,231.14 Z" fill="#fff" stroke="#2626dc" stroke-width="0.85" stroke-linejoin="round"/>
<path d="M535.53,229.92 L537.51,233.29 L533.55,233.29 Z" fill="#fff" stroke="#2626dc" stroke-width="0.85" stroke-linejoin="round"/>
<path d="M547.04,247.08 L549.02,250.45 L545.06,250.45 Z" fill="#fff" stroke="#2626dc" stroke-width="0.85" stroke-linejoin="round"/>
<path d="M558.56,252.1 L560.54,255.47 L556.58,255.47 Z" fill="#fff" stroke="#2626dc" stroke-width="0.85" stroke-linejoin="round"/>
<path d="M570.08,192.05 L572.06,195.41 L568.1,195.41 Z" fill="#fff" stroke="#2626dc" stroke-width="0.85" stroke-linejoin="round"/>
<path d="M581.59,251.58 L583.57,254.95 L579.61,254.95 Z" fill="#fff" stroke="#2626dc" stroke-width="0.85" stroke-linejoin="round"/>
<path d="M593.11,229.68 L595.09,233.05 L591.12,233.05 Z" fill="#fff" stroke="#2626dc" stroke-width="0.85" stroke-linejoin="round"/>
<path d="M604.62,234.52 L606.6,237.89 L602.64,237.89 Z" fill="#fff" stroke="#2626dc" stroke-width="0.85" stroke-linejoin="round"/>
<path d="M616.13,256.8 L618.12,260.16 L614.15,260.16 Z" fill="#fff" stroke="#2626dc" stroke-width="0.85" stroke-linejoin="round"/>
<path d="M627.65,224.09 L629.63,227.46 L625.67,227.46 Z" fill="#fff" stroke="#2626dc" stroke-width="0.85" stroke-linejoin="round"/>
<path d="M639.16,214.61 L641.14,217.98 L637.18,217.98 Z" fill="#fff" stroke="#2626dc" stroke-width="0.85" stroke-linejoin="round"/>
<path d="M650.68,242.79 L652.66,246.15 L648.7,246.15 Z" fill="#fff" stroke="#2626dc" stroke-width="0.85" stroke-linejoin="round"/>
<path d="M662.19,230.73 L664.17,234.09 L660.21,234.09 Z" fill="#fff" stroke="#2626dc" stroke-width="0.85" stroke-linejoin="round"/>
<path d="M673.71,237.85 L675.69,241.21 L671.73,241.21 Z" fill="#fff" stroke="#2626dc" stroke-width="0.85" stroke-linejoin="round"/>
<path d="M677,243.37 L678.98,246.74 L675.02,246.74 Z" fill="#fff" stroke="#2626dc" stroke-width="0.85" stroke-linejoin="round"/>
<path d="M512.5,265.89 L512.5,260.2 L513.32,240.29 L513.49,241.62 L513.82,243.86 L514.15,245.6 L514.48,246.88 L514.81,247.74 L515.14,248.22 L515.47,248.35 L515.8,248.16 L516.13,247.7 L516.46,247 L516.79,246.09 L517.12,245.02 L517.44,243.81 L517.77,242.5 L518.1,241.14 L518.43,239.74 L518.76,238.37 L519.09,237.04 L519.42,235.79 L519.75,234.66 L520.08,233.69 L520.41,232.91 L520.74,232.35 L521.07,231.99 L521.4,231.81 L521.73,231.79 L522.06,231.89 L522.39,232.11 L522.72,232.41 L523.05,232.78 L523.38,233.18 L523.71,233.6 L524.04,234.01 L524.37,234.39 L524.7,234.73 L525.03,235.01 L525.36,235.24 L525.69,235.44 L526.02,235.59 L526.35,235.7 L526.68,235.78 L527.01,235.83 L527.33,235.84 L527.66,235.83 L527.99,235.8 L528.32,235.75 L528.65,235.67 L528.98,235.59 L529.31,235.49 L529.64,235.38 L529.97,235.26 L530.3,235.14 L530.63,235.02 L530.96,234.9 L531.29,234.78 L531.62,234.68 L531.95,234.58 L532.28,234.5 L532.61,234.43 L532.94,234.38 L533.27,234.35 L533.6,234.35 L533.93,234.38 L534.26,234.43 L534.59,234.52 L534.92,234.65 L535.25,234.81 L535.58,235.01 L535.91,235.26 L536.24,235.54 L536.57,235.86 L536.89,236.19 L537.22,236.53 L537.55,236.89 L537.88,237.24 L538.21,237.58 L538.54,237.9 L538.87,238.21 L539.2,238.48 L539.53,238.73 L539.86,238.95 L540.19,239.16 L540.52,239.35 L540.85,239.53 L541.18,239.69 L541.51,239.86 L541.84,240.01 L542.17,240.17 L542.5,240.34 L542.83,240.51 L543.16,240.69 L543.49,240.88 L543.82,241.09 L544.15,241.32 L544.48,241.58 L544.81,241.86 L545.14,242.17 L545.47,242.52 L545.8,242.9 L546.13,243.32 L546.45,243.79 L546.78,244.3 L547.11,244.86 L547.44,245.47 L547.77,246.14 L548.1,246.84 L548.43,247.57 L548.76,248.33 L549.09,249.1 L549.42,249.88 L549.75,250.66 L550.08,251.43 L550.41,252.18 L550.74,252.9 L551.07,253.59 L551.4,254.23 L551.73,254.82 L552.06,255.33 L552.39,255.75 L552.72,256.08 L553.05,256.3 L553.38,256.4 L553.71,256.37 L554.04,256.2 L554.37,255.91 L554.7,255.49 L555.03,254.96 L555.36,254.33 L555.69,253.59 L556.02,252.76 L556.34,251.84 L556.67,250.83 L557,249.75 L557.33,248.61 L557.66,247.39 L557.99,246.12 L558.32,244.8 L558.65,243.44 L558.98,242.04 L559.31,240.61 L559.64,239.16 L559.97,237.71 L560.3,236.26 L560.63,234.83 L560.96,233.43 L561.29,232.07 L561.62,230.75 L561.95,229.49 L562.28,228.3 L562.61,227.17 L562.94,226.1 L563.27,225.07 L563.6,224.09 L563.93,223.15 L564.26,222.24 L564.59,221.35 L564.92,220.49 L565.25,219.64 L565.58,218.81 L565.9,217.99 L566.23,217.2 L566.56,216.43 L566.89,215.7 L567.22,215.01 L567.55,214.36 L567.88,213.76 L568.21,213.21 L568.54,212.72 L568.87,212.3 L569.2,211.95 L569.53,211.67 L569.86,211.46 L570.19,211.35 L570.52,211.46 L570.85,211.99 L571.18,212.87 L571.51,214.06 L571.84,215.48 L572.17,217.06 L572.5,218.74 L572.83,220.46 L573.16,222.14 L573.49,223.73 L573.82,225.16 L574.15,226.41 L574.48,227.56 L574.81,228.68 L575.14,229.84 L575.46,231.07 L575.79,232.36 L576.12,233.7 L576.45,235.05 L576.78,236.41 L577.11,237.76 L577.44,239.07 L577.77,240.33 L578.1,241.52 L578.43,242.62 L578.76,243.62 L579.09,244.51 L579.42,245.29 L579.75,245.96 L580.08,246.51 L580.41,246.94 L580.74,247.24 L581.07,247.41 L581.4,247.45 L581.73,247.34 L582.06,247.1 L582.39,246.74 L582.72,246.27 L583.05,245.7 L583.38,245.06 L583.71,244.34 L584.04,243.57 L584.37,242.76 L584.7,241.93 L585.03,241.08 L585.35,240.24 L585.68,239.41 L586.01,238.6 L586.34,237.84 L586.67,237.14 L587,236.5 L587.33,235.91 L587.66,235.39 L587.99,234.92 L588.32,234.5 L588.65,234.13 L588.98,233.8 L589.31,233.52 L589.64,233.28 L589.97,233.09 L590.3,232.92 L590.63,232.79 L590.96,232.69 L591.29,232.62 L591.62,232.58 L591.95,232.56 L592.28,232.56 L592.61,232.57 L592.94,232.61 L593.27,232.65 L593.6,232.71 L593.93,232.77 L594.26,232.84 L594.59,232.92 L594.91,233 L595.24,233.1 L595.57,233.2 L595.9,233.31 L596.23,233.42 L596.56,233.54 L596.89,233.67 L597.22,233.81 L597.55,233.96 L597.88,234.11 L598.21,234.27 L598.54,234.44 L598.87,234.61 L599.2,234.8 L599.53,234.99 L599.86,235.18 L600.19,235.39 L600.52,235.6 L600.85,235.81 L601.18,236.03 L601.51,236.25 L601.84,236.47 L602.17,236.69 L602.5,236.9 L602.83,237.11 L603.16,237.32 L603.49,237.53 L603.82,237.72 L604.15,237.91 L604.47,238.08 L604.8,238.25 L605.13,238.41 L605.46,238.55 L605.79,238.7 L606.12,238.84 L606.45,238.97 L606.78,239.11 L607.11,239.26 L607.44,239.4 L607.77,239.56 L608.1,239.73 L608.43,239.91 L608.76,240.11 L609.09,240.32 L609.42,240.55 L609.75,240.81 L610.08,241.09 L610.41,241.4 L610.74,241.73 L611.07,242.1 L611.4,242.5 L611.73,242.94 L612.06,243.42 L612.39,243.94 L612.72,244.5 L613.05,245.1 L613.38,245.75 L613.71,246.44 L614.04,247.17 L614.36,247.91 L614.69,248.68 L615.02,249.45 L615.35,250.22 L615.68,250.99 L616.01,251.74 L616.34,252.48 L616.67,253.18 L617,253.85 L617.33,254.47 L617.66,255.02 L617.99,255.5 L618.32,255.89 L618.65,256.18 L618.98,256.36 L619.31,256.41 L619.64,256.32 L619.97,256.1 L620.3,255.76 L620.63,255.3 L620.96,254.73 L621.29,254.05 L621.62,253.27 L621.95,252.4 L622.28,251.45 L622.61,250.41 L622.94,249.3 L623.27,248.13 L623.6,246.89 L623.92,245.6 L624.25,244.26 L624.58,242.88 L624.91,241.47 L625.24,240.03 L625.57,238.58 L625.9,237.13 L626.23,235.69 L626.56,234.27 L626.89,232.88 L627.22,231.53 L627.55,230.24 L627.88,229.01 L628.21,227.85 L628.54,226.74 L628.87,225.68 L629.2,224.68 L629.53,223.71 L629.86,222.78 L630.19,221.88 L630.52,221 L630.85,220.15 L631.18,219.3 L631.51,218.48 L631.84,217.67 L632.17,216.89 L632.5,216.13 L632.83,215.42 L633.16,214.74 L633.48,214.11 L633.81,213.53 L634.14,213.01 L634.47,212.55 L634.8,212.15 L635.13,211.82 L635.46,211.58 L635.79,211.41 L636.12,211.35 L636.45,211.63 L636.78,212.3 L637.11,213.32 L637.44,214.6 L637.77,216.09 L638.1,217.72 L638.43,219.43 L638.76,221.14 L639.09,222.79 L639.42,224.33 L639.75,225.68 L640.08,226.88 L640.41,228.01 L640.74,229.14 L641.07,230.32 L641.4,231.58 L641.73,232.89 L642.06,234.24 L642.39,235.6 L642.72,236.95 L643.05,238.28 L643.37,239.58 L643.7,240.81 L644.03,241.97 L644.36,243.03 L644.69,243.99 L645.02,244.84 L645.35,245.57 L645.68,246.2 L646.01,246.7 L646.34,247.08 L646.67,247.32 L647,247.44 L647.33,247.42 L647.66,247.26 L647.99,246.97 L648.32,246.56 L648.65,246.05 L648.98,245.45 L649.31,244.78 L649.64,244.04 L649.97,243.25 L650.3,242.43 L650.63,241.59 L650.96,240.74 L651.29,239.9 L651.62,239.08 L651.95,238.29 L652.28,237.55 L652.61,236.87 L652.93,236.26 L653.26,235.7 L653.59,235.19 L653.92,234.74 L654.25,234.34 L654.58,233.99 L654.91,233.69 L655.24,233.42 L655.57,233.2 L655.9,233.02 L656.23,232.87 L656.56,232.75 L656.89,232.66 L657.22,232.6 L657.55,232.57 L657.88,232.56 L658.21,232.56 L658.54,232.59 L658.87,232.62 L659.2,232.67 L659.53,232.73 L659.86,232.8 L660.19,232.87 L660.52,232.95 L660.85,233.04 L661.18,233.14 L661.51,233.24 L661.84,233.35 L662.17,233.47 L662.49,233.6 L662.82,233.73 L663.15,233.87 L663.48,234.02 L663.81,234.17 L664.14,234.34 L664.47,234.51 L664.8,234.69 L665.13,234.87 L665.46,235.06 L665.79,235.26 L666.12,235.47 L666.45,235.68 L666.78,235.9 L667.11,236.12 L667.44,236.34 L667.77,236.55 L668.1,236.77 L668.43,236.99 L668.76,237.2 L669.09,237.4 L669.42,237.6 L669.75,237.8 L670.08,237.98 L670.41,238.15 L670.74,238.31 L671.07,238.47 L671.4,238.61 L671.73,238.75 L672.06,238.89 L672.38,239.03 L672.71,239.17 L673.04,239.32 L673.37,239.47 L673.7,239.63 L674.03,239.8 L674.36,239.99 L674.69,240.19 L675.02,240.41 L675.35,240.66 L675.68,240.92 L676.01,241.21 L676.34,241.53 L676.67,241.88 L677,242.26" fill="none" stroke="#76cf76" stroke-width="1.3" stroke-linejoin="round"/>
<path d="M512.5,262.18 L514.48,258.81 L510.52,258.81 Z" fill="#fff" stroke="#76cf76" stroke-width="0.85" stroke-linejoin="round"/>
<path d="M524.01,235.96 L526,232.6 L522.03,232.6 Z" fill="#fff" stroke="#76cf76" stroke-width="0.85" stroke-linejoin="round"/>
<path d="M535.53,236.96 L537.51,233.6 L533.55,233.6 Z" fill="#fff" stroke="#76cf76" stroke-width="0.85" stroke-linejoin="round"/>
<path d="M547.04,246.72 L549.02,243.35 L545.06,243.35 Z" fill="#fff" stroke="#76cf76" stroke-width="0.85" stroke-linejoin="round"/>
<path d="M558.56,245.81 L560.54,242.44 L556.58,242.44 Z" fill="#fff" stroke="#76cf76" stroke-width="0.85" stroke-linejoin="round"/>
<path d="M570.08,213.36 L572.06,209.99 L568.1,209.99 Z" fill="#fff" stroke="#76cf76" stroke-width="0.85" stroke-linejoin="round"/>
<path d="M581.59,249.38 L583.57,246.02 L579.61,246.02 Z" fill="#fff" stroke="#76cf76" stroke-width="0.85" stroke-linejoin="round"/>
<path d="M593.11,234.61 L595.09,231.24 L591.12,231.24 Z" fill="#fff" stroke="#76cf76" stroke-width="0.85" stroke-linejoin="round"/>
<path d="M604.62,240.14 L606.6,236.77 L602.64,236.77 Z" fill="#fff" stroke="#76cf76" stroke-width="0.85" stroke-linejoin="round"/>
<path d="M616.13,254 L618.12,250.63 L614.15,250.63 Z" fill="#fff" stroke="#76cf76" stroke-width="0.85" stroke-linejoin="round"/>
<path d="M627.65,231.84 L629.63,228.48 L625.67,228.48 Z" fill="#fff" stroke="#76cf76" stroke-width="0.85" stroke-linejoin="round"/>
<path d="M639.16,225.14 L641.14,221.77 L637.18,221.77 Z" fill="#fff" stroke="#76cf76" stroke-width="0.85" stroke-linejoin="round"/>
<path d="M650.68,243.44 L652.66,240.07 L648.7,240.07 Z" fill="#fff" stroke="#76cf76" stroke-width="0.85" stroke-linejoin="round"/>
<path d="M662.19,235.46 L664.17,232.09 L660.21,232.09 Z" fill="#fff" stroke="#76cf76" stroke-width="0.85" stroke-linejoin="round"/>
<path d="M673.71,241.61 L675.69,238.25 L671.73,238.25 Z" fill="#fff" stroke="#76cf76" stroke-width="0.85" stroke-linejoin="round"/>
<path d="M677,244.24 L678.98,240.87 L675.02,240.87 Z" fill="#fff" stroke="#76cf76" stroke-width="0.85" stroke-linejoin="round"/>
</svg>
</body></html>
